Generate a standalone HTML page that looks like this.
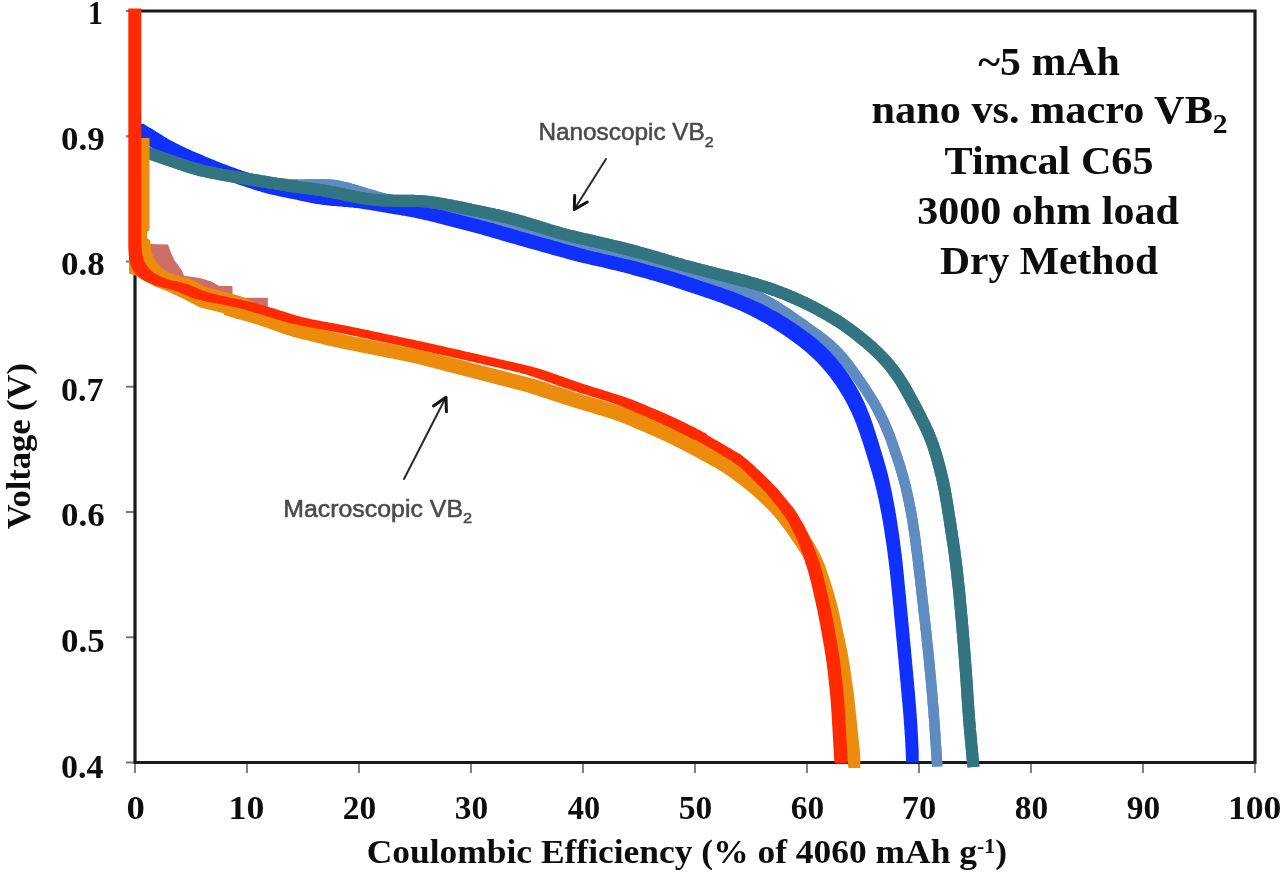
<!DOCTYPE html><html><head><meta charset="utf-8"><style>html,body{margin:0;padding:0;background:#fff;width:1280px;height:876px;overflow:hidden}svg{display:block;filter:blur(0.5px)}</style></head><body>
<svg width="1280" height="876" viewBox="0 0 1280 876">
<rect width="1280" height="876" fill="#fff"/>
<defs><clipPath id="cr"><rect x="0" y="0" width="1280" height="763.6"/></clipPath></defs>
<path d="M126,762.50H135M126,637.25H135M126,512.00H135M126,386.75H135M126,261.50H135M126,136.25H135M126,11.00H135M135,762.5V773M247,762.5V773M359,762.5V773M471,762.5V773M583,762.5V773M695,762.5V773M807,762.5V773M919,762.5V773M1031,762.5V773M1143,762.5V773M1255,762.5V773" stroke="#777" stroke-width="1.8" fill="none"/>
<path d="M135,11H1255V762.5H135Z" stroke="#1a1a1a" stroke-width="3.2" fill="none"/>
<path d="M150.0,153.0 L151.9,153.6 L153.8,154.3 L155.7,154.9 L157.6,155.6 L159.5,156.2 L161.4,156.9 L163.3,157.5 L165.2,158.2 L167.0,158.8 L168.9,159.4 L170.8,160.1 L172.7,160.7 L174.6,161.4 L176.5,162.0 L178.4,162.6 L180.3,163.3 L182.2,163.9 L184.1,164.5 L186.0,165.1 L187.9,165.7 L189.8,166.3 L191.7,166.9 L193.7,167.5 L195.6,168.0 L197.5,168.6 L199.4,169.1 L201.3,169.6 L203.3,170.1 L205.2,170.6 L207.2,171.1 L209.1,171.5 L211.0,172.0 L213.0,172.4 L214.9,172.9 L216.9,173.3 L218.8,173.7 L220.8,174.1 L222.8,174.5 L224.7,174.9 L226.7,175.3 L228.6,175.7 L230.6,176.1 L232.6,176.5 L234.5,176.8 L236.5,177.2 L238.5,177.6 L240.4,177.9 L242.4,178.3 L244.4,178.6 L246.3,179.0 L248.3,179.3 L250.3,179.6 L252.3,179.9 L254.2,180.2 L256.2,180.5 L258.2,180.8 L260.2,181.1 L262.2,181.3 L264.1,181.6 L266.1,181.9 L268.1,182.1 L270.1,182.4 L272.1,182.6 L274.1,182.8 L276.0,183.1 L278.0,183.3 L280.0,183.5 L282.0,183.7 L284.0,183.9 L286.0,184.0 L288.0,184.2 L289.9,184.3 L291.9,184.4 L293.9,184.5 L295.9,184.6 L297.9,184.7 L299.9,184.7 L301.9,184.7 L303.8,184.7 L305.8,184.6 L307.8,184.6 L309.8,184.5 L311.8,184.5 L313.8,184.4 L315.8,184.4 L317.7,184.3 L319.7,184.3 L321.7,184.3 L323.7,184.3 L325.6,184.4 L327.6,184.5 L329.6,184.6 L331.5,184.8 L333.5,185.0 L335.5,185.3 L337.4,185.6 L339.3,186.0 L341.3,186.4 L343.2,186.8 L345.1,187.2 L347.0,187.7 L349.0,188.2 L350.9,188.8 L352.8,189.3 L354.7,189.9 L356.6,190.5 L358.5,191.1 L360.4,191.6 L362.3,192.2 L364.2,192.8 L366.1,193.4 L368.0,194.0 L370.0,194.5 L371.9,195.1 L373.8,195.7 L375.7,196.2 L377.6,196.8 L379.6,197.3 L381.5,197.8 L383.4,198.4 L385.4,198.9 L387.3,199.4 L389.2,199.9 L391.2,200.4 L393.1,200.9 L395.0,201.4 L397.0,201.8 L398.9,202.3 L400.9,202.7 L402.8,203.2 L404.8,203.6 L406.7,204.0 L408.7,204.5 L410.6,204.9 L412.6,205.3 L414.6,205.7 L416.5,206.1 L418.5,206.5 L420.4,206.9 L422.4,207.2 L424.4,207.6 L426.3,208.0 L428.3,208.4 L430.3,208.7 L432.2,209.1 L434.2,209.5 L436.2,209.9 L438.1,210.3 L440.1,210.6 L442.0,211.0 L444.0,211.4 L446.0,211.8 L447.9,212.1 L449.9,212.5 L451.9,212.9 L453.8,213.3 L455.8,213.7 L457.8,214.1 L459.7,214.5 L461.7,214.8 L463.6,215.2 L465.6,215.6 L467.6,216.0 L469.5,216.5 L471.5,216.9 L473.4,217.3 L475.4,217.7 L477.3,218.1 L479.3,218.6 L481.2,219.0 L483.2,219.5 L485.1,219.9 L487.1,220.4 L489.0,220.8 L491.0,221.3 L492.9,221.8 L494.9,222.3 L496.8,222.7 L498.7,223.2 L500.7,223.7 L502.6,224.2 L504.6,224.7 L506.5,225.1 L508.4,225.6 L510.4,226.1 L512.3,226.6 L514.3,227.1 L516.2,227.6 L518.1,228.1 L520.1,228.6 L522.0,229.2 L523.9,229.7 L525.8,230.2 L527.8,230.8 L529.7,231.3 L531.6,231.9 L533.5,232.5 L535.4,233.1 L537.3,233.7 L539.2,234.3 L541.1,234.9 L543.0,235.5 L544.9,236.1 L546.8,236.8 L548.7,237.4 L550.6,238.0 L552.5,238.6 L554.4,239.2 L556.3,239.9 L558.2,240.4 L560.1,241.0 L562.0,241.6 L564.0,242.1 L565.9,242.7 L567.8,243.2 L569.7,243.7 L571.7,244.3 L573.6,244.8 L575.5,245.2 L577.5,245.7 L579.4,246.2 L581.4,246.7 L583.3,247.2 L585.2,247.6 L587.2,248.1 L589.1,248.5 L591.1,249.0 L593.0,249.5 L595.0,249.9 L596.9,250.4 L598.9,250.8 L600.8,251.3 L602.8,251.8 L604.7,252.3 L606.6,252.7 L608.6,253.2 L610.5,253.7 L612.5,254.2 L614.4,254.7 L616.3,255.2 L618.3,255.7 L620.2,256.2 L622.2,256.7 L624.1,257.2 L626.0,257.7 L627.9,258.2 L629.9,258.8 L631.8,259.3 L633.7,259.8 L635.7,260.4 L637.6,260.9 L639.5,261.4 L641.4,262.0 L643.4,262.5 L645.3,263.1 L647.2,263.6 L649.1,264.2 L651.1,264.7 L653.0,265.2 L654.9,265.8 L656.8,266.3 L658.8,266.9 L660.7,267.4 L662.6,268.0 L664.5,268.5 L666.5,269.0 L668.4,269.6 L670.3,270.1 L672.3,270.6 L674.2,271.2 L676.1,271.7 L678.0,272.2 L680.0,272.8 L681.9,273.3 L683.8,273.8 L685.8,274.3 L687.7,274.9 L689.6,275.4 L691.5,275.9 L693.5,276.4 L695.4,277.0 L697.3,277.5 L699.3,278.0 L701.2,278.6 L703.1,279.1 L705.0,279.6 L707.0,280.2 L708.9,280.7 L710.8,281.2 L712.8,281.7 L714.7,282.3 L716.6,282.8 L718.6,283.3 L720.5,283.9 L722.4,284.4 L724.3,284.9 L726.3,285.4 L728.2,286.0 L730.1,286.5 L732.0,287.0 L734.0,287.6 L735.9,288.2 L737.8,288.7 L739.7,289.3 L741.6,289.9 L743.4,290.6 L745.3,291.2 L747.2,291.9 L749.0,292.6 L750.9,293.4 L752.7,294.1 L754.5,294.9 L756.3,295.7 L758.1,296.6 L759.9,297.5 L761.7,298.3 L763.5,299.3 L765.2,300.2 L767.0,301.1 L768.7,302.1 L770.5,303.1 L772.2,304.1 L773.9,305.1 L775.6,306.1 L777.3,307.2 L779.0,308.2 L780.7,309.3 L782.4,310.4 L784.0,311.5 L785.7,312.6 L787.4,313.7 L789.0,314.8 L790.6,316.0 L792.3,317.1 L793.9,318.3 L795.6,319.4 L797.2,320.6 L798.8,321.7 L800.4,322.9 L802.1,324.0 L803.7,325.2 L805.3,326.3 L807.0,327.5 L808.6,328.6 L810.2,329.8 L811.9,331.0 L813.5,332.1 L815.1,333.3 L816.7,334.4 L818.4,335.6 L820.0,336.8 L821.5,338.0 L823.1,339.2 L824.7,340.4 L826.2,341.7 L827.8,343.0 L829.3,344.2 L830.8,345.6 L832.2,346.9 L833.7,348.3 L835.1,349.6 L836.5,351.0 L837.9,352.5 L839.2,353.9 L840.6,355.4 L841.9,356.9 L843.2,358.4 L844.4,359.9 L845.7,361.5 L846.9,363.1 L848.1,364.6 L849.3,366.2 L850.5,367.8 L851.7,369.4 L852.9,371.0 L854.0,372.7 L855.2,374.3 L856.3,375.9 L857.5,377.6 L858.6,379.2 L859.8,380.9 L860.9,382.5 L862.0,384.2 L863.1,385.8 L864.3,387.5 L865.4,389.1 L866.5,390.8 L867.5,392.5 L868.6,394.2 L869.7,395.9 L870.7,397.6 L871.8,399.3 L872.8,401.0 L873.8,402.7 L874.8,404.4 L875.8,406.2 L876.8,407.9 L877.7,409.7 L878.6,411.4 L879.5,413.2 L880.4,415.0 L881.3,416.8 L882.2,418.6 L883.0,420.4 L883.9,422.2 L884.7,424.0 L885.5,425.9 L886.3,427.7 L887.0,429.5 L887.8,431.4 L888.5,433.2 L889.3,435.1 L890.0,437.0 L890.7,438.8 L891.4,440.7 L892.1,442.6 L892.7,444.5 L893.4,446.4 L894.0,448.2 L894.7,450.1 L895.3,452.0 L896.0,453.9 L896.6,455.8 L897.2,457.7 L897.8,459.6 L898.5,461.5 L899.1,463.4 L899.7,465.3 L900.3,467.2 L900.8,469.2 L901.4,471.1 L902.0,473.0 L902.5,474.9 L903.1,476.8 L903.6,478.8 L904.1,480.7 L904.6,482.6 L905.1,484.6 L905.6,486.5 L906.1,488.4 L906.5,490.4 L907.0,492.3 L907.4,494.3 L907.8,496.2 L908.2,498.2 L908.6,500.1 L909.1,502.1 L909.4,504.1 L909.8,506.0 L910.2,508.0 L910.6,509.9 L911.0,511.9 L911.3,513.9 L911.7,515.8 L912.0,517.8 L912.4,519.8 L912.7,521.8 L913.0,523.7 L913.3,525.7 L913.6,527.7 L913.9,529.7 L914.2,531.6 L914.5,533.6 L914.8,535.6 L915.0,537.6 L915.3,539.6 L915.6,541.5 L915.8,543.5 L916.1,545.5 L916.3,547.5 L916.6,549.5 L916.8,551.5 L917.1,553.4 L917.3,555.4 L917.6,557.4 L917.8,559.4 L918.1,561.4 L918.3,563.4 L918.5,565.4 L918.8,567.3 L919.0,569.3 L919.2,571.3 L919.5,573.3 L919.7,575.3 L919.9,577.3 L920.2,579.3 L920.4,581.3 L920.6,583.2 L920.8,585.2 L921.1,587.2 L921.3,589.2 L921.5,591.2 L921.7,593.2 L922.0,595.2 L922.2,597.2 L922.4,599.1 L922.6,601.1 L922.9,603.1 L923.1,605.1 L923.3,607.1 L923.5,609.1 L923.7,611.1 L924.0,613.1 L924.2,615.1 L924.4,617.0 L924.6,619.0 L924.9,621.0 L925.1,623.0 L925.3,625.0 L925.5,627.0 L925.7,629.0 L926.0,631.0 L926.2,632.9 L926.4,634.9 L926.6,636.9 L926.8,638.9 L927.0,640.9 L927.2,642.9 L927.4,644.9 L927.7,646.9 L927.9,648.9 L928.1,650.8 L928.3,652.8 L928.5,654.8 L928.7,656.8 L928.9,658.8 L929.1,660.8 L929.3,662.8 L929.5,664.8 L929.7,666.8 L929.8,668.8 L930.0,670.8 L930.2,672.7 L930.4,674.7 L930.6,676.7 L930.8,678.7 L931.0,680.7 L931.1,682.7 L931.3,684.7 L931.5,686.7 L931.7,688.7 L931.8,690.7 L932.0,692.7 L932.2,694.7 L932.4,696.7 L932.5,698.6 L932.7,700.6 L932.8,702.6 L933.0,704.6 L933.2,706.6 L933.3,708.6 L933.5,710.6 L933.6,712.6 L933.8,714.6 L933.9,716.6 L934.1,718.6 L934.2,720.6 L934.4,722.6 L934.5,724.6 L934.7,726.6 L934.8,728.6 L934.9,730.6 L935.1,732.6 L935.2,734.6 L935.3,736.6 L935.4,738.5 L935.6,740.5 L935.7,742.5 L935.8,744.5 L936.0,746.5 L936.1,748.5 L936.2,750.5 L936.3,752.5 L936.5,754.5 L936.6,756.5 L936.7,758.5 L936.8,760.5 L937.0,762.5 L937.1,764.5 L937.2,766.5" stroke="#5f8cc0" stroke-width="10.5" fill="none" stroke-linejoin="round" stroke-linecap="butt"/>
<path d="M150.0,153.0 L151.9,153.6 L153.8,154.3 L155.7,154.9 L157.6,155.6 L159.5,156.2 L161.4,156.9 L163.3,157.5 L165.2,158.2 L167.0,158.8 L168.9,159.4 L170.8,160.1 L172.7,160.7 L174.6,161.4 L176.5,162.0 L178.4,162.6 L180.3,163.3 L182.2,163.9 L184.1,164.5 L186.0,165.1 L187.9,165.7 L189.8,166.3 L191.7,166.9 L193.7,167.5 L195.6,168.0 L197.5,168.6 L199.4,169.1 L201.3,169.6 L203.3,170.1 L205.2,170.6 L207.2,171.1 L209.1,171.5 L211.0,172.0 L213.0,172.4 L214.9,172.9 L216.9,173.3 L218.8,173.7 L220.8,174.1 L222.8,174.5 L224.7,174.9 L226.7,175.3 L228.6,175.7 L230.6,176.1 L232.6,176.5 L234.5,176.8 L236.5,177.2 L238.5,177.6 L240.4,177.9 L242.4,178.3 L244.4,178.6 L246.3,179.0 L248.3,179.3 L250.3,179.6 L252.3,179.9 L254.2,180.2 L256.2,180.5 L258.2,180.8 L260.2,181.1 L262.2,181.3 L264.1,181.6 L266.1,181.9 L268.1,182.1 L270.1,182.4 L272.1,182.6 L274.1,182.8 L276.0,183.1 L278.0,183.3 L280.0,183.5 L282.0,183.7 L284.0,183.9 L286.0,184.0 L288.0,184.2 L289.9,184.3 L291.9,184.4 L293.9,184.5 L295.9,184.6 L297.9,184.7 L299.9,184.7 L301.9,184.7 L303.8,184.7 L305.8,184.6 L307.8,184.6 L309.8,184.5 L311.8,184.5 L313.8,184.4 L315.8,184.4 L317.7,184.3 L319.7,184.3 L321.7,184.3 L323.7,184.3 L325.6,184.4 L327.6,184.5 L329.6,184.6 L331.5,184.8 L333.5,185.0 L335.5,185.3 L337.4,185.6 L339.3,186.0 L341.3,186.4 L343.2,186.8 L345.1,187.2 L347.0,187.7 L349.0,188.2 L350.9,188.8 L352.8,189.3 L354.7,189.9 L356.6,190.5 L358.5,191.1 L360.4,191.6 L362.3,192.2 L364.2,192.8 L366.1,193.4 L368.0,194.0 L370.0,194.5 L371.9,195.1 L373.8,195.7 L375.7,196.2 L377.6,196.8 L379.6,197.3 L381.5,197.8 L383.4,198.4 L385.4,198.9 L387.3,199.4 L389.2,199.9 L391.2,200.4 L393.1,200.9 L395.0,201.4 L397.0,201.8 L398.9,202.3 L400.9,202.7 L402.8,203.2 L404.8,203.6 L406.7,204.0 L408.7,204.5 L410.6,204.9 L412.6,205.3 L414.6,205.7 L416.5,206.1 L418.5,206.5 L420.4,206.9 L422.4,207.2 L424.4,207.6 L426.3,208.0 L428.3,208.4 L430.3,208.7 L432.2,209.1 L434.2,209.5 L436.2,209.9 L438.1,210.3 L440.1,210.6 L442.0,211.0 L444.0,211.4 L446.0,211.8 L447.9,212.1 L449.9,212.5 L451.9,212.9 L453.8,213.3 L455.8,213.7 L457.8,214.1 L459.7,214.5 L461.7,214.8 L463.6,215.2 L465.6,215.6 L467.6,216.0 L469.5,216.5 L471.5,216.9 L473.4,217.3 L475.4,217.7 L477.3,218.1 L479.3,218.6 L481.2,219.0 L483.2,219.5 L485.1,219.9 L487.1,220.4 L489.0,220.8 L491.0,221.3 L492.9,221.8 L494.9,222.3 L496.8,222.7 L498.7,223.2 L500.7,223.7 L502.6,224.2 L504.6,224.7 L506.5,225.1 L508.4,225.6 L510.4,226.1 L512.3,226.6 L514.3,227.1 L516.2,227.6 L518.1,228.1 L520.1,228.6 L522.0,229.2 L523.9,229.7 L525.8,230.2 L527.8,230.8 L529.7,231.3 L531.6,231.9 L533.5,232.5 L535.4,233.1 L537.3,233.7 L539.2,234.3 L541.1,234.9 L543.0,235.5 L544.9,236.1 L546.8,236.8 L548.7,237.4 L550.6,238.0 L552.5,238.6 L554.4,239.2 L556.3,239.9 L558.2,240.4 L560.1,241.0 L562.0,241.6 L564.0,242.1 L565.9,242.7 L567.8,243.2 L569.7,243.7 L571.7,244.3 L573.6,244.8 L575.5,245.2 L577.5,245.7 L579.4,246.2 L581.4,246.7 L583.3,247.2 L585.2,247.6 L587.2,248.1 L589.1,248.5 L591.1,249.0 L593.0,249.5 L595.0,249.9 L596.9,250.4 L598.9,250.8 L600.8,251.3 L602.8,251.8 L604.7,252.3 L606.6,252.7 L608.6,253.2 L610.5,253.7 L612.5,254.2 L614.4,254.7 L616.3,255.2 L618.3,255.7 L620.2,256.2 L622.2,256.7 L624.1,257.2 L626.0,257.7 L627.9,258.2 L629.9,258.8 L631.8,259.3 L633.7,259.8 L635.7,260.4 L637.6,260.9 L639.5,261.4 L641.4,262.0 L643.4,262.5 L645.3,263.1 L647.2,263.6 L649.1,264.2 L651.1,264.7 L653.0,265.2 L654.9,265.8 L656.8,266.3 L658.8,266.9 L660.7,267.4 L662.6,268.0 L664.5,268.5 L666.5,269.0 L668.4,269.6 L670.3,270.1 L672.3,270.6 L674.2,271.2 L676.1,271.7 L678.0,272.2 L680.0,272.8 L681.9,273.3 L683.8,273.8 L685.8,274.3 L687.7,274.9 L689.6,275.4 L691.5,275.9 L693.5,276.4 L695.4,277.0 L697.3,277.5 L699.3,278.0 L701.2,278.6 L703.1,279.1 L705.0,279.6 L707.0,280.2 L708.9,280.7 L710.8,281.2 L712.8,281.7 L714.7,282.3 L716.6,282.8 L718.6,283.3 L720.5,283.9 L722.4,284.4 L724.3,284.9 L726.3,285.4 L728.2,286.0 L730.1,286.5 L732.0,287.0 L734.0,287.6 L735.9,288.2 L737.8,288.7 L739.7,289.3 L741.6,289.9 L743.4,290.6 L745.3,291.2 L747.2,291.9 L749.0,292.6 L750.9,293.4 L752.7,294.1 L754.5,294.9 L756.3,295.7 L758.1,296.6 L759.9,297.5 L761.7,298.3 L763.5,299.3 L765.2,300.2 L767.0,301.1 L768.7,302.1 L770.5,303.1 L772.2,304.1 L773.9,305.1 L775.6,306.1 L777.3,307.2 L779.0,308.2 L780.7,309.3 L782.4,310.4 L784.0,311.5 L785.7,312.6 L787.4,313.7 L789.0,314.8 L790.6,316.0 L792.3,317.1 L793.9,318.3 L795.6,319.4 L797.2,320.6 L798.8,321.7 L800.4,322.9 L802.1,324.0 L803.7,325.2 L805.3,326.3 L807.0,327.5 L808.6,328.6 L810.2,329.8 L811.9,331.0 L813.5,332.1 L815.1,333.3 L816.7,334.4 L818.4,335.6 L820.0,336.8 L821.5,338.0 L823.1,339.2 L824.7,340.4 L826.2,341.7 L827.8,343.0 L829.3,344.2 L830.8,345.6 L832.2,346.9 L833.7,348.3 L835.1,349.6 L836.5,351.0 L837.9,352.5 L839.2,353.9 L840.6,355.4 L841.9,356.9 L843.2,358.4 L844.4,359.9 L845.7,361.5 L846.9,363.1 L848.1,364.6 L849.3,366.2 L850.5,367.8 L851.7,369.4 L852.9,371.0 L854.0,372.7 L855.2,374.3 L856.3,375.9 L857.5,377.6 L858.6,379.2 L859.8,380.9 L860.9,382.5 L862.0,384.2 L863.1,385.8 L864.3,387.5 L865.4,389.1 L866.5,390.8 L867.5,392.5 L868.6,394.2 L869.7,395.9 L870.7,397.6 L871.8,399.3 L872.8,401.0 L873.8,402.7 L874.8,404.4 L875.8,406.2 L876.8,407.9 L877.7,409.7 L878.6,411.4 L879.5,413.2 L880.4,415.0 L881.3,416.8 L882.2,418.6 L883.0,420.4 L883.9,422.2 L884.7,424.0 L885.5,425.9 L886.3,427.7 L887.0,429.5 L887.8,431.4 L888.5,433.2 L889.3,435.1 L890.0,437.0 L890.7,438.8 L891.4,440.7 L892.1,442.6 L892.7,444.5 L893.4,446.4 L894.0,448.2 L894.7,450.1 L895.3,452.0 L896.0,453.9 L896.6,455.8 L897.2,457.7 L897.8,459.6 L898.5,461.5 L899.1,463.4 L899.7,465.3 L900.3,467.2 L900.8,469.2 L901.4,471.1 L902.0,473.0 L902.5,474.9 L903.1,476.8 L903.6,478.8 L904.1,480.7 L904.6,482.6 L905.1,484.6 L905.6,486.5 L906.1,488.4 L906.5,490.4 L907.0,492.3 L907.4,494.3 L907.8,496.2 L908.2,498.2 L908.6,500.1 L909.1,502.1 L909.4,504.1 L909.8,506.0 L910.2,508.0 L910.6,509.9 L911.0,511.9 L911.3,513.9 L911.7,515.8 L912.0,517.8 L912.4,519.8 L912.7,521.8 L913.0,523.7 L913.3,525.7 L913.6,527.7 L913.9,529.7 L914.2,531.6 L914.5,533.6 L914.8,535.6 L915.0,537.6 L915.3,539.6 L915.6,541.5 L915.8,543.5 L916.1,545.5 L916.3,547.5 L916.6,549.5 L916.8,551.5 L917.1,553.4 L917.3,555.4 L917.6,557.4 L917.8,559.4 L918.1,561.4 L918.3,563.4 L918.5,565.4 L918.8,567.3 L919.0,569.3 L919.2,571.3 L919.5,573.3 L919.7,575.3 L919.9,577.3 L920.2,579.3 L920.4,581.3 L920.6,583.2 L920.8,585.2 L921.1,587.2 L921.3,589.2 L921.5,591.2 L921.7,593.2 L922.0,595.2 L922.2,597.2 L922.4,599.1 L922.6,601.1 L922.9,603.1 L923.1,605.1 L923.3,607.1 L923.5,609.1 L923.7,611.1 L924.0,613.1 L924.2,615.1 L924.4,617.0 L924.6,619.0 L924.9,621.0 L925.1,623.0 L925.3,625.0 L925.5,627.0 L925.7,629.0 L926.0,631.0 L926.2,632.9 L926.4,634.9 L926.6,636.9 L926.8,638.9 L927.0,640.9 L927.2,642.9 L927.4,644.9 L927.7,646.9 L927.9,648.9 L928.1,650.8 L928.3,652.8 L928.5,654.8 L928.7,656.8 L928.9,658.8 L929.1,660.8 L929.3,662.8 L929.5,664.8 L929.7,666.8 L929.8,668.8 L930.0,670.8 L930.2,672.7 L930.4,674.7 L930.6,676.7 L930.8,678.7 L931.0,680.7 L931.1,682.7 L931.3,684.7 L931.5,686.7 L931.7,688.7 L931.8,690.7 L932.0,692.7 L932.2,694.7 L932.4,696.7 L932.5,698.6 L932.7,700.6 L932.8,702.6 L933.0,704.6 L933.2,706.6 L933.3,708.6 L933.5,710.6 L933.6,712.6 L933.8,714.6 L933.9,716.6 L934.1,718.6 L934.2,720.6 L934.4,722.6 L934.5,724.6 L934.7,726.6 L934.8,728.6 L934.9,730.6 L935.1,732.6 L935.2,734.6 L935.3,736.6 L935.4,738.5 L935.6,740.5 L935.7,742.5 L935.8,744.5 L936.0,746.5 L936.1,748.5 L936.2,750.5 L936.3,752.5 L936.5,754.5 L936.6,756.5 L936.7,758.5 L936.8,760.5 L937.0,762.5 L937.1,764.5 L937.2,766.5" stroke="#5f8cc0" stroke-width="10.5" fill="none" stroke-linejoin="round" stroke-linecap="butt"/>
<path d="M137.8,128 L150.2,128 L151.9,129.1 L151.9,140.1 L139.4,140.1 L137.8,139ZM139.4,129.1 L151.9,129.1 L153.6,130.1 L153.6,141.1 L141.1,141.1 L139.4,140.1ZM141.1,130.1 L153.6,130.1 L155.3,131.2 L155.3,142.2 L142.8,142.2 L141.1,141.1ZM142.8,131.2 L155.3,131.2 L157,132.2 L157,143.2 L144.5,143.2 L142.8,142.2ZM144.5,132.2 L157,132.2 L158.7,133.3 L158.7,144.3 L146.2,144.3 L144.5,143.2ZM146.2,133.3 L158.7,133.3 L160.4,134.3 L160.4,145.3 L147.9,145.3 L146.2,144.3ZM147.9,134.3 L160.4,134.3 L162.2,135.3 L162.2,146.3 L149.7,146.3 L147.9,145.3ZM149.7,135.3 L162.2,135.3 L163.9,136.4 L163.9,147.4 L151.4,147.4 L149.7,146.3ZM151.4,136.4 L163.9,136.4 L165.6,137.4 L165.6,148.4 L153.1,148.4 L151.4,147.4ZM153.1,137.4 L165.6,137.4 L167.3,138.4 L167.3,149.4 L154.8,149.4 L153.1,148.4ZM154.8,138.4 L167.3,138.4 L169,139.4 L169,150.4 L156.5,150.4 L154.8,149.4ZM156.5,139.4 L169,139.4 L170.8,140.4 L170.8,151.4 L158.3,151.4 L156.5,150.4ZM158.3,140.4 L170.8,140.4 L172.5,141.3 L172.5,152.3 L160,152.3 L158.3,151.4ZM160,141.3 L172.5,141.3 L174.3,142.3 L174.3,153.3 L161.8,153.3 L160,152.3ZM161.8,142.3 L174.3,142.3 L176.1,143.2 L176.1,154.2 L163.6,154.2 L161.8,153.3ZM163.6,143.2 L176.1,143.2 L177.8,144.1 L177.8,155.1 L165.3,155.1 L163.6,154.2ZM165.3,144.1 L177.8,144.1 L179.6,145 L179.6,156 L167.1,156 L165.3,155.1ZM167.1,145 L179.6,145 L181.4,145.9 L181.4,156.9 L168.9,156.9 L167.1,156ZM168.9,145.9 L181.4,145.9 L183.2,146.7 L183.2,157.7 L170.7,157.7 L168.9,156.9ZM170.7,146.7 L183.2,146.7 L185,147.6 L185,158.6 L172.5,158.6 L170.7,157.7ZM172.5,147.6 L185,147.6 L186.8,148.4 L186.8,159.4 L174.3,159.4 L172.5,158.6ZM174.3,148.4 L186.8,148.4 L188.7,149.2 L188.7,160.2 L176.2,160.2 L174.3,159.4ZM176.2,149.2 L188.7,149.2 L190.5,150.1 L190.5,161.1 L178,161.1 L176.2,160.2ZM178,150.1 L190.5,150.1 L192.3,150.9 L192.3,161.9 L179.8,161.9 L178,161.1ZM179.8,150.9 L192.3,150.9 L194.1,151.7 L194.1,162.7 L181.6,162.7 L179.8,161.9ZM181.6,151.7 L194.1,151.7 L196,152.5 L196,163.5 L183.5,163.5 L181.6,162.7ZM183.5,152.5 L196,152.5 L197.8,153.3 L197.8,164.3 L185.3,164.3 L183.5,163.5ZM185.3,153.3 L197.8,153.3 L199.7,154.1 L199.7,165.1 L187.2,165.1 L185.3,164.3ZM187.2,154.1 L199.7,154.1 L201.5,154.8 L201.5,165.8 L189,165.8 L187.2,165.1ZM189,154.8 L201.5,154.8 L203.3,155.6 L203.3,166.6 L190.8,166.6 L189,165.8ZM190.8,155.6 L203.3,155.6 L205.2,156.4 L205.2,167.4 L192.7,167.4 L190.8,166.6ZM192.7,156.4 L205.2,156.4 L207,157.2 L207,168.2 L194.5,168.2 L192.7,167.4ZM194.5,157.2 L207,157.2 L208.9,157.9 L208.9,168.9 L196.4,168.9 L194.5,168.2ZM196.4,157.9 L208.9,157.9 L210.7,158.7 L210.7,169.7 L198.2,169.7 L196.4,168.9ZM198.2,158.7 L210.7,158.7 L212.6,159.5 L212.6,170.5 L200.1,170.5 L198.2,169.7ZM200.1,159.5 L212.6,159.5 L214.4,160.2 L214.4,171.2 L201.9,171.2 L200.1,170.5ZM201.9,160.2 L214.4,160.2 L216.3,161 L216.3,172 L203.8,172 L201.9,171.2ZM203.8,161 L216.3,161 L218.1,161.7 L218.1,172.7 L205.6,172.7 L203.8,172ZM205.6,161.7 L218.1,161.7 L220,162.5 L220,173.5 L207.5,173.5 L205.6,172.7ZM207.5,162.5 L220,162.5 L221.8,163.2 L221.8,174.2 L209.3,174.2 L207.5,173.5ZM209.3,163.2 L221.8,163.2 L223.7,163.9 L223.7,174.9 L211.2,174.9 L209.3,174.2ZM211.2,163.9 L223.7,163.9 L225.6,164.6 L225.6,175.6 L213.1,175.6 L211.2,174.9ZM213.1,164.6 L225.6,164.6 L227.4,165.3 L227.4,176.3 L214.9,176.3 L213.1,175.6ZM214.9,165.3 L227.4,165.3 L229.3,166 L229.3,177 L216.8,177 L214.9,176.3ZM216.8,166 L229.3,166 L231.2,166.7 L231.2,177.7 L218.7,177.7 L216.8,177ZM218.7,166.7 L231.2,166.7 L233.1,167.4 L233.1,178.4 L220.6,178.4 L218.7,177.7ZM220.6,167.4 L233.1,167.4 L235,168.1 L235,179.1 L222.5,179.1 L220.6,178.4ZM222.5,168.1 L235,168.1 L236.9,168.7 L236.9,179.7 L224.4,179.7 L222.5,179.1ZM224.4,168.7 L236.9,168.7 L238.7,169.4 L238.7,180.4 L226.2,180.4 L224.4,179.7ZM226.2,169.4 L238.7,169.4 L240.6,170 L240.6,181 L228.1,181 L226.2,180.4ZM228.1,170 L240.6,170 L242.5,170.7 L242.5,181.7 L230,181.7 L228.1,181ZM230,170.7 L242.5,170.7 L244.4,171.3 L244.4,182.3 L231.9,182.3 L230,181.7ZM231.9,171.3 L244.4,171.3 L246.3,172 L246.3,183 L233.8,183 L231.9,182.3ZM233.8,172 L246.3,172 L248.2,172.6 L248.2,183.6 L235.7,183.6 L233.8,183ZM235.7,172.6 L248.2,172.6 L250.1,173.2 L250.1,184.2 L237.6,184.2 L235.7,183.6ZM237.6,173.2 L250.1,173.2 L252,173.9 L252,184.9 L239.5,184.9 L237.6,184.2ZM239.5,173.9 L252,173.9 L253.9,174.5 L253.9,185.5 L241.4,185.5 L239.5,184.9ZM241.4,174.5 L253.9,174.5 L255.8,175.1 L255.8,186.1 L243.3,186.1 L241.4,185.5ZM243.3,175.1 L255.8,175.1 L257.7,175.8 L257.7,186.8 L245.2,186.8 L243.3,186.1ZM245.2,175.8 L257.7,175.8 L259.6,176.4 L259.6,187.4 L247.1,187.4 L245.2,186.8ZM247.1,176.4 L259.6,176.4 L261.5,177 L261.5,188 L249,188 L247.1,187.4ZM249,177 L261.5,177 L263.4,177.6 L263.4,188.6 L250.9,188.6 L249,188ZM250.9,177.6 L263.4,177.6 L265.3,178.3 L265.3,189.3 L252.8,189.3 L250.9,188.6ZM252.8,178.3 L265.3,178.3 L267.2,178.9 L267.2,189.9 L254.7,189.9 L252.8,189.3ZM254.7,178.9 L267.2,178.9 L269.1,179.5 L269.1,190.5 L256.6,190.5 L254.7,189.9ZM256.6,179.5 L269.1,179.5 L271,180 L271,191 L258.5,191 L256.6,190.5ZM258.5,180 L271,180 L272.9,180.6 L272.9,191.6 L260.4,191.6 L258.5,191ZM260.4,180.6 L272.9,180.6 L274.8,181.2 L274.8,192.2 L262.3,192.2 L260.4,191.6ZM262.3,181.2 L274.8,181.2 L276.8,181.7 L276.8,192.7 L264.3,192.7 L262.3,192.2ZM264.3,181.7 L276.8,181.7 L278.7,182.2 L278.7,193.2 L266.2,193.2 L264.3,192.7ZM266.2,182.2 L278.7,182.2 L280.6,182.7 L280.6,193.7 L268.1,193.7 L266.2,193.2ZM268.1,182.7 L280.6,182.7 L282.6,183.2 L282.6,194.2 L270.1,194.2 L268.1,193.7ZM270.1,183.2 L282.6,183.2 L284.5,183.7 L284.5,194.7 L272,194.7 L270.1,194.2ZM272,183.7 L284.5,183.7 L286.4,184.1 L286.4,195.1 L273.9,195.1 L272,194.7ZM273.9,184.1 L286.4,184.1 L288.4,184.5 L288.4,195.5 L275.9,195.5 L273.9,195.1ZM275.9,184.5 L288.4,184.5 L290.3,185 L290.3,196 L277.8,196 L275.9,195.5ZM277.8,185 L290.3,185 L292.3,185.4 L292.3,196.4 L279.8,196.4 L277.8,196ZM279.8,185.4 L292.3,185.4 L294.2,185.8 L294.2,196.8 L281.7,196.8 L279.8,196.4ZM281.7,185.8 L294.2,185.8 L296.2,186.2 L296.2,197.2 L283.7,197.2 L281.7,196.8ZM283.7,186.2 L296.2,186.2 L298.1,186.6 L298.1,197.6 L285.6,197.6 L283.7,197.2ZM285.6,186.6 L298.1,186.6 L300.1,187 L300.1,198 L287.6,198 L285.6,197.6ZM287.6,187 L300.1,187 L302,187.4 L302,198.4 L289.5,198.4 L287.6,198ZM289.5,187.4 L302,187.4 L304,187.8 L304,198.8 L291.5,198.8 L289.5,198.4ZM291.5,187.8 L304,187.8 L305.9,188.2 L305.9,199.2 L293.4,199.2 L291.5,198.8ZM293.4,188.2 L305.9,188.2 L307.9,188.6 L307.9,199.6 L295.4,199.6 L293.4,199.2ZM295.4,188.6 L307.9,188.6 L309.9,189 L309.9,200 L297.4,200 L295.4,199.6ZM297.4,189 L309.9,189 L311.8,189.5 L311.8,200.5 L299.3,200.5 L297.4,200ZM299.3,189.5 L311.8,189.5 L313.7,189.9 L313.7,200.9 L301.2,200.9 L299.3,200.5ZM301.2,189.9 L313.7,189.9 L315.7,190.3 L315.7,201.3 L303.2,201.3 L301.2,200.9ZM303.2,190.3 L315.7,190.3 L317.6,190.7 L317.6,201.7 L305.1,201.7 L303.2,201.3ZM305.1,190.7 L317.6,190.7 L319.6,191.1 L319.6,202.1 L307.1,202.1 L305.1,201.7ZM307.1,191.1 L319.6,191.1 L321.5,191.5 L321.5,202.5 L309,202.5 L307.1,202.1ZM309,191.5 L321.5,191.5 L323.5,191.9 L323.5,202.9 L311,202.9 L309,202.5ZM311,191.9 L323.5,191.9 L325.5,192.3 L325.5,203.3 L313,203.3 L311,202.9ZM313,192.3 L325.5,192.3 L327.4,192.7 L327.4,203.7 L314.9,203.7 L313,203.3ZM314.9,192.7 L327.4,192.7 L329.4,193 L329.4,204 L316.9,204 L314.9,203.7ZM316.9,193 L329.4,193 L331.3,193.3 L331.3,204.3 L318.8,204.3 L316.9,204ZM318.8,193.3 L331.3,193.3 L333.3,193.6 L333.3,204.6 L320.8,204.6 L318.8,204.3ZM320.8,193.6 L333.3,193.6 L335.3,193.9 L335.3,204.9 L322.8,204.9 L320.8,204.6ZM322.8,193.9 L335.3,193.9 L337.3,194.1 L337.3,205.1 L324.8,205.1 L322.8,204.9ZM324.8,194.1 L337.3,194.1 L339.2,194.3 L339.2,205.3 L326.7,205.3 L324.8,205.1ZM326.7,194.3 L339.2,194.3 L341.2,194.5 L341.2,205.5 L328.7,205.5 L326.7,205.3ZM328.7,194.5 L341.2,194.5 L343.2,194.7 L343.2,205.7 L330.7,205.7 L328.7,205.5ZM330.7,194.7 L343.2,194.7 L345.2,194.9 L345.2,205.9 L332.7,205.9 L330.7,205.7ZM332.7,194.9 L345.2,194.9 L347.2,195.1 L347.2,206.1 L334.7,206.1 L332.7,205.9ZM334.7,195.1 L347.2,195.1 L349.2,195.2 L349.2,206.2 L336.7,206.2 L334.7,206.1ZM336.7,195.2 L349.2,195.2 L351.2,195.4 L351.2,206.4 L338.7,206.4 L336.7,206.2ZM338.7,195.4 L351.2,195.4 L353.2,195.6 L353.2,206.6 L340.7,206.6 L338.7,206.4ZM340.7,195.6 L353.2,195.6 L355.2,195.7 L355.2,206.7 L342.7,206.7 L340.7,206.6ZM342.7,195.7 L355.2,195.7 L357.1,195.9 L357.1,206.9 L344.6,206.9 L342.7,206.7ZM344.6,195.9 L357.1,195.9 L359.1,196.1 L359.1,207.1 L346.6,207.1 L344.6,206.9ZM346.6,196.1 L359.1,196.1 L361.1,196.2 L361.1,207.2 L348.6,207.2 L346.6,207.1ZM348.6,196.2 L361.1,196.2 L363.1,196.4 L363.1,207.4 L350.6,207.4 L348.6,207.2ZM350.6,196.4 L363.1,196.4 L365.1,196.6 L365.1,207.6 L352.6,207.6 L350.6,207.4ZM352.6,196.6 L365.1,196.6 L367.1,196.9 L367.1,207.9 L354.6,207.9 L352.6,207.6ZM354.6,196.9 L367.1,196.9 L369.1,197.1 L369.1,208.1 L356.6,208.1 L354.6,207.9ZM356.6,197.1 L369.1,197.1 L371,197.3 L371,208.3 L358.5,208.3 L356.6,208.1ZM358.5,197.3 L371,197.3 L373,197.6 L373,208.6 L360.5,208.6 L358.5,208.3ZM360.5,197.6 L373,197.6 L375,197.9 L375,208.9 L362.5,208.9 L360.5,208.6ZM362.5,197.9 L375,197.9 L377,198.2 L377,209.2 L364.5,209.2 L362.5,208.9ZM364.5,198.2 L377,198.2 L379,198.5 L379,209.5 L366.5,209.5 L364.5,209.2ZM366.5,198.5 L379,198.5 L380.9,198.8 L380.9,209.8 L368.4,209.8 L366.5,209.5ZM368.4,198.8 L380.9,198.8 L382.9,199.1 L382.9,210.1 L370.4,210.1 L368.4,209.8ZM370.4,199.1 L382.9,199.1 L384.9,199.5 L384.9,210.5 L372.4,210.5 L370.4,210.1ZM372.4,199.5 L384.9,199.5 L386.8,199.8 L386.8,210.8 L374.3,210.8 L372.4,210.5ZM374.3,199.8 L386.8,199.8 L388.8,200.1 L388.8,211.1 L376.3,211.1 L374.3,210.8ZM376.3,200.1 L388.8,200.1 L390.8,200.5 L390.8,211.5 L378.3,211.5 L376.3,211.1ZM378.3,200.5 L390.8,200.5 L392.8,200.8 L392.8,211.8 L380.3,211.8 L378.3,211.5ZM380.3,200.8 L392.8,200.8 L394.7,201.2 L394.7,212.2 L382.2,212.2 L380.3,211.8ZM382.2,201.2 L394.7,201.2 L396.7,201.5 L396.7,212.5 L384.2,212.5 L382.2,212.2ZM384.2,201.5 L396.7,201.5 L398.7,201.8 L398.7,212.8 L386.2,212.8 L384.2,212.5ZM386.2,201.8 L398.7,201.8 L400.6,202.2 L400.6,213.2 L388.1,213.2 L386.2,212.8ZM388.1,202.2 L400.6,202.2 L402.6,202.5 L402.6,213.5 L390.1,213.5 L388.1,213.2ZM390.1,202.5 L402.6,202.5 L404.6,202.8 L404.6,213.8 L392.1,213.8 L390.1,213.5ZM392.1,202.8 L404.6,202.8 L406.5,203.2 L406.5,214.2 L394,214.2 L392.1,213.8ZM394,203.2 L406.5,203.2 L408.5,203.5 L408.5,214.5 L396,214.5 L394,214.2ZM396,203.5 L408.5,203.5 L410.5,203.8 L410.5,214.8 L398,214.8 L396,214.5ZM398,203.8 L410.5,203.8 L412.5,204.1 L412.5,215.1 L400,215.1 L398,214.8ZM400,204.1 L412.5,204.1 L414.4,204.5 L414.4,215.5 L401.9,215.5 L400,215.1ZM401.9,204.5 L414.4,204.5 L416.4,204.8 L416.4,215.8 L403.9,215.8 L401.9,215.5ZM403.9,204.8 L416.4,204.8 L418.4,205.1 L418.4,216.1 L405.9,216.1 L403.9,215.8ZM405.9,205.1 L418.4,205.1 L420.3,205.5 L420.3,216.5 L407.8,216.5 L405.9,216.1ZM407.8,205.5 L420.3,205.5 L422.3,205.8 L422.3,216.8 L409.8,216.8 L407.8,216.5ZM409.8,205.8 L422.3,205.8 L424.3,206.2 L424.3,217.2 L411.8,217.2 L409.8,216.8ZM411.8,206.2 L424.3,206.2 L426.2,206.6 L426.2,217.6 L413.7,217.6 L411.8,217.2ZM413.7,206.6 L426.2,206.6 L428.2,207 L428.2,218 L415.7,218 L413.7,217.6ZM415.7,207 L428.2,207 L430.1,207.4 L430.1,218.4 L417.6,218.4 L415.7,218ZM417.6,207.4 L430.1,207.4 L432.1,207.8 L432.1,218.8 L419.6,218.8 L417.6,218.4ZM419.6,207.8 L432.1,207.8 L434,208.3 L434,219.3 L421.5,219.3 L419.6,218.8ZM421.5,208.3 L434,208.3 L436,208.7 L436,219.7 L423.5,219.7 L421.5,219.3ZM423.5,208.7 L436,208.7 L437.9,209.2 L437.9,220.2 L425.4,220.2 L423.5,219.7ZM425.4,209.2 L437.9,209.2 L439.9,209.6 L439.9,220.6 L427.4,220.6 L425.4,220.2ZM427.4,209.6 L439.9,209.6 L441.8,210.1 L441.8,221.1 L429.3,221.1 L427.4,220.6ZM429.3,210.1 L441.8,210.1 L443.7,210.6 L443.7,221.6 L431.2,221.6 L429.3,221.1ZM431.2,210.6 L443.7,210.6 L445.7,211.1 L445.7,222.1 L433.2,222.1 L431.2,221.6ZM433.2,211.1 L445.7,211.1 L447.6,211.6 L447.6,222.6 L435.1,222.6 L433.2,222.1ZM435.1,211.6 L447.6,211.6 L449.6,212.1 L449.6,223.1 L437.1,223.1 L435.1,222.6ZM437.1,212.1 L449.6,212.1 L451.5,212.6 L451.5,223.6 L439,223.6 L437.1,223.1ZM439,212.6 L451.5,212.6 L453.4,213.1 L453.4,224.1 L440.9,224.1 L439,223.6ZM440.9,213.1 L453.4,213.1 L455.4,213.6 L455.4,224.6 L442.9,224.6 L440.9,224.1ZM442.9,213.6 L455.4,213.6 L457.3,214.1 L457.3,225.1 L444.8,225.1 L442.9,224.6ZM444.8,214.1 L457.3,214.1 L459.3,214.5 L459.3,225.5 L446.8,225.5 L444.8,225.1ZM446.8,214.5 L459.3,214.5 L461.2,215 L461.2,226 L448.7,226 L446.8,225.5ZM448.7,215 L461.2,215 L463.1,215.5 L463.1,226.5 L450.6,226.5 L448.7,226ZM450.6,215.5 L463.1,215.5 L465.1,216 L465.1,227 L452.6,227 L450.6,226.5ZM452.6,216 L465.1,216 L467,216.5 L467,227.5 L454.5,227.5 L452.6,227ZM454.5,216.5 L467,216.5 L469,217 L469,228 L456.5,228 L454.5,227.5ZM456.5,217 L469,217 L470.9,217.4 L470.9,228.4 L458.4,228.4 L456.5,228ZM458.4,217.4 L470.9,217.4 L472.8,217.9 L472.8,228.9 L460.3,228.9 L458.4,228.4ZM460.3,217.9 L472.8,217.9 L474.8,218.4 L474.8,229.4 L462.3,229.4 L460.3,228.9ZM462.3,218.4 L474.8,218.4 L476.7,218.9 L476.7,229.9 L464.2,229.9 L462.3,229.4ZM464.2,218.9 L476.7,218.9 L478.7,219.4 L478.7,230.4 L466.2,230.4 L464.2,229.9ZM466.2,219.4 L478.7,219.4 L480.6,219.9 L480.6,230.9 L468.1,230.9 L466.2,230.4ZM468.1,219.9 L480.6,219.9 L482.5,220.4 L482.5,231.4 L470,231.4 L468.1,230.9ZM470,220.4 L482.5,220.4 L484.5,220.9 L484.5,231.9 L472,231.9 L470,231.4ZM472,220.9 L484.5,220.9 L486.4,221.5 L486.4,232.5 L473.9,232.5 L472,231.9ZM473.9,221.5 L486.4,221.5 L488.3,222 L488.3,233 L475.8,233 L473.9,232.5ZM475.8,222 L488.3,222 L490.3,222.5 L490.3,233.5 L477.8,233.5 L475.8,233ZM477.8,222.5 L490.3,222.5 L492.2,223.1 L492.2,234.1 L479.7,234.1 L477.8,233.5ZM479.7,223.1 L492.2,223.1 L494.1,223.6 L494.1,234.6 L481.6,234.6 L479.7,234.1ZM481.6,223.6 L494.1,223.6 L496,224.2 L496,235.2 L483.5,235.2 L481.6,234.6ZM483.5,224.2 L496,224.2 L498,224.7 L498,235.7 L485.5,235.7 L483.5,235.2ZM485.5,224.7 L498,224.7 L499.9,225.3 L499.9,236.3 L487.4,236.3 L485.5,235.7ZM487.4,225.3 L499.9,225.3 L501.8,225.8 L501.8,236.8 L489.3,236.8 L487.4,236.3ZM489.3,225.8 L501.8,225.8 L503.7,226.4 L503.7,237.4 L491.2,237.4 L489.3,236.8ZM491.2,226.4 L503.7,226.4 L505.6,227 L505.6,238 L493.1,238 L491.2,237.4ZM493.1,227 L505.6,227 L507.6,227.5 L507.6,238.5 L495.1,238.5 L493.1,238ZM495.1,227.5 L507.6,227.5 L509.5,228.1 L509.5,239.1 L497,239.1 L495.1,238.5ZM497,228.1 L509.5,228.1 L511.4,228.6 L511.4,239.6 L498.9,239.6 L497,239.1ZM498.9,228.6 L511.4,228.6 L513.3,229.2 L513.3,240.2 L500.8,240.2 L498.9,239.6ZM500.8,229.2 L513.3,229.2 L515.2,229.8 L515.2,240.8 L502.7,240.8 L500.8,240.2ZM502.7,229.8 L515.2,229.8 L517.2,230.3 L517.2,241.3 L504.7,241.3 L502.7,240.8ZM504.7,230.3 L517.2,230.3 L519.1,230.9 L519.1,241.9 L506.6,241.9 L504.7,241.3ZM506.6,230.9 L519.1,230.9 L521,231.4 L521,242.4 L508.5,242.4 L506.6,241.9ZM508.5,231.4 L521,231.4 L522.9,232 L522.9,243 L510.4,243 L508.5,242.4ZM510.4,232 L522.9,232 L524.9,232.5 L524.9,243.5 L512.4,243.5 L510.4,243ZM512.4,232.5 L524.9,232.5 L526.8,233.1 L526.8,244.1 L514.3,244.1 L512.4,243.5ZM514.3,233.1 L526.8,233.1 L528.7,233.6 L528.7,244.6 L516.2,244.6 L514.3,244.1ZM516.2,233.6 L528.7,233.6 L530.6,234.2 L530.6,245.2 L518.1,245.2 L516.2,244.6ZM518.1,234.2 L530.6,234.2 L532.6,234.7 L532.6,245.7 L520.1,245.7 L518.1,245.2ZM520.1,234.7 L532.6,234.7 L534.5,235.3 L534.5,246.3 L522,246.3 L520.1,245.7ZM522,235.3 L534.5,235.3 L536.4,235.8 L536.4,246.8 L523.9,246.8 L522,246.3ZM523.9,235.8 L536.4,235.8 L538.3,236.3 L538.3,247.3 L525.8,247.3 L523.9,246.8ZM525.8,236.3 L538.3,236.3 L540.3,236.9 L540.3,247.9 L527.8,247.9 L525.8,247.3ZM527.8,236.9 L540.3,236.9 L542.2,237.4 L542.2,248.4 L529.7,248.4 L527.8,247.9ZM529.7,237.4 L542.2,237.4 L544.1,238 L544.1,249 L531.6,249 L529.7,248.4ZM531.6,238 L544.1,238 L546,238.5 L546,249.5 L533.5,249.5 L531.6,249ZM533.5,238.5 L546,238.5 L548,239 L548,250 L535.5,250 L533.5,249.5ZM535.5,239 L548,239 L549.9,239.6 L549.9,250.6 L537.4,250.6 L535.5,250ZM537.4,239.6 L549.9,239.6 L551.8,240.1 L551.8,251.1 L539.3,251.1 L537.4,250.6ZM539.3,240.1 L551.8,240.1 L553.8,240.7 L553.8,251.7 L541.3,251.7 L539.3,251.1ZM541.3,240.7 L553.8,240.7 L555.7,241.2 L555.7,252.2 L543.2,252.2 L541.3,251.7ZM543.2,241.2 L555.7,241.2 L557.6,241.7 L557.6,252.7 L545.1,252.7 L543.2,252.2ZM545.1,241.7 L557.6,241.7 L559.5,242.3 L559.5,253.3 L547,253.3 L545.1,252.7ZM547,242.3 L559.5,242.3 L561.5,242.8 L561.5,253.8 L549,253.8 L547,253.3ZM549,242.8 L561.5,242.8 L563.4,243.4 L563.4,254.4 L550.9,254.4 L549,253.8ZM550.9,243.4 L563.4,243.4 L565.3,243.9 L565.3,254.9 L552.8,254.9 L550.9,254.4ZM552.8,243.9 L565.3,243.9 L567.2,244.5 L567.2,255.5 L554.7,255.5 L552.8,254.9ZM554.7,244.5 L567.2,244.5 L569.2,245 L569.2,256 L556.7,256 L554.7,255.5ZM556.7,245 L569.2,245 L571.1,245.5 L571.1,256.5 L558.6,256.5 L556.7,256ZM558.6,245.5 L571.1,245.5 L573,246.1 L573,257.1 L560.5,257.1 L558.6,256.5ZM560.5,246.1 L573,246.1 L574.9,246.6 L574.9,257.6 L562.4,257.6 L560.5,257.1ZM562.4,246.6 L574.9,246.6 L576.9,247.1 L576.9,258.1 L564.4,258.1 L562.4,257.6ZM564.4,247.1 L576.9,247.1 L578.8,247.7 L578.8,258.7 L566.3,258.7 L564.4,258.1ZM566.3,247.7 L578.8,247.7 L580.7,248.2 L580.7,259.2 L568.2,259.2 L566.3,258.7ZM568.2,248.2 L580.7,248.2 L582.7,248.7 L582.7,259.7 L570.2,259.7 L568.2,259.2ZM570.2,248.7 L582.7,248.7 L584.6,249.2 L584.6,260.2 L572.1,260.2 L570.2,259.7ZM572.1,249.2 L584.6,249.2 L586.5,249.7 L586.5,260.7 L574,260.7 L572.1,260.2ZM574,249.7 L586.5,249.7 L588.5,250.2 L588.5,261.2 L576,261.2 L574,260.7ZM576,250.2 L588.5,250.2 L590.4,250.7 L590.4,261.7 L577.9,261.7 L576,261.2ZM577.9,250.7 L590.4,250.7 L592.4,251.2 L592.4,262.2 L579.9,262.2 L577.9,261.7ZM579.9,251.2 L592.4,251.2 L594.3,251.7 L594.3,262.7 L581.8,262.7 L579.9,262.2ZM581.8,251.7 L594.3,251.7 L596.2,252.2 L596.2,263.2 L583.7,263.2 L581.8,262.7ZM583.7,252.2 L596.2,252.2 L598.2,252.6 L598.2,263.6 L585.7,263.6 L583.7,263.2ZM585.7,252.6 L598.2,252.6 L600.1,253.1 L600.1,264.1 L587.6,264.1 L585.7,263.6ZM587.6,253.1 L600.1,253.1 L602.1,253.5 L602.1,264.5 L589.6,264.5 L587.6,264.1ZM589.6,253.5 L602.1,253.5 L604,254 L604,265 L591.5,265 L589.6,264.5ZM591.5,254 L604,254 L606,254.4 L606,265.4 L593.5,265.4 L591.5,265ZM593.5,254.4 L606,254.4 L607.9,254.8 L607.9,265.8 L595.4,265.8 L593.5,265.4ZM595.4,254.8 L607.9,254.8 L609.9,255.3 L609.9,266.3 L597.4,266.3 L595.4,265.8ZM597.4,255.3 L609.9,255.3 L611.8,255.7 L611.8,266.7 L599.3,266.7 L597.4,266.3ZM599.3,255.7 L611.8,255.7 L613.8,256.1 L613.8,267.1 L601.3,267.1 L599.3,266.7ZM601.3,256.1 L613.8,256.1 L615.7,256.6 L615.7,267.6 L603.2,267.6 L601.3,267.1ZM603.2,256.6 L615.7,256.6 L617.7,257 L617.7,268 L605.2,268 L603.2,267.6ZM605.2,257 L617.7,257 L619.6,257.5 L619.6,268.5 L607.1,268.5 L605.2,268ZM607.1,257.5 L619.6,257.5 L621.6,257.9 L621.6,268.9 L609.1,268.9 L607.1,268.5ZM609.1,257.9 L621.6,257.9 L623.5,258.4 L623.5,269.4 L611,269.4 L609.1,268.9ZM611,258.4 L623.5,258.4 L625.5,258.9 L625.5,269.9 L613,269.9 L611,269.4ZM613,258.9 L625.5,258.9 L627.4,259.3 L627.4,270.3 L614.9,270.3 L613,269.9ZM614.9,259.3 L627.4,259.3 L629.4,259.8 L629.4,270.8 L616.9,270.8 L614.9,270.3ZM616.9,259.8 L629.4,259.8 L631.3,260.3 L631.3,271.3 L618.8,271.3 L616.9,270.8ZM618.8,260.3 L631.3,260.3 L633.2,260.8 L633.2,271.8 L620.7,271.8 L618.8,271.3ZM620.7,260.8 L633.2,260.8 L635.2,261.3 L635.2,272.3 L622.7,272.3 L620.7,271.8ZM622.7,261.3 L635.2,261.3 L637.1,261.8 L637.1,272.8 L624.6,272.8 L622.7,272.3ZM624.6,261.8 L637.1,261.8 L639.1,262.3 L639.1,273.3 L626.6,273.3 L624.6,272.8ZM626.6,262.3 L639.1,262.3 L641,262.8 L641,273.8 L628.5,273.8 L626.6,273.3ZM628.5,262.8 L641,262.8 L642.9,263.3 L642.9,274.3 L630.4,274.3 L628.5,273.8ZM630.4,263.3 L642.9,263.3 L644.9,263.9 L644.9,274.9 L632.4,274.9 L630.4,274.3ZM632.4,263.9 L644.9,263.9 L646.8,264.4 L646.8,275.4 L634.3,275.4 L632.4,274.9ZM634.3,264.4 L646.8,264.4 L648.7,264.9 L648.7,275.9 L636.2,275.9 L634.3,275.4ZM636.2,264.9 L648.7,264.9 L650.6,265.4 L650.6,276.4 L638.1,276.4 L636.2,275.9ZM638.1,265.4 L650.6,265.4 L652.6,266 L652.6,277 L640.1,277 L638.1,276.4ZM640.1,266 L652.6,266 L654.5,266.5 L654.5,277.5 L642,277.5 L640.1,277ZM642,266.5 L654.5,266.5 L656.4,267 L656.4,278 L643.9,278 L642,277.5ZM643.9,267 L656.4,267 L658.4,267.6 L658.4,278.6 L645.9,278.6 L643.9,278ZM645.9,267.6 L658.4,267.6 L660.3,268.1 L660.3,279.1 L647.8,279.1 L645.9,278.6ZM647.8,268.1 L660.3,268.1 L662.2,268.7 L662.2,279.7 L649.7,279.7 L647.8,279.1ZM649.7,268.7 L662.2,268.7 L664.1,269.2 L664.1,280.2 L651.6,280.2 L649.7,279.7ZM651.6,269.2 L664.1,269.2 L666.1,269.8 L666.1,280.8 L653.6,280.8 L651.6,280.2ZM653.6,269.8 L666.1,269.8 L668,270.3 L668,281.3 L655.5,281.3 L653.6,280.8ZM655.5,270.3 L668,270.3 L669.9,270.9 L669.9,281.9 L657.4,281.9 L655.5,281.3ZM657.4,270.9 L669.9,270.9 L671.8,271.5 L671.8,282.5 L659.3,282.5 L657.4,281.9ZM659.3,271.5 L671.8,271.5 L673.7,272 L673.7,283 L661.2,283 L659.3,282.5ZM661.2,272 L673.7,272 L675.6,272.6 L675.6,283.6 L663.1,283.6 L661.2,283ZM663.1,272.6 L675.6,272.6 L677.6,273.2 L677.6,284.2 L665.1,284.2 L663.1,283.6ZM665.1,273.2 L677.6,273.2 L679.5,273.8 L679.5,284.8 L667,284.8 L665.1,284.2ZM667,273.8 L679.5,273.8 L681.4,274.4 L681.4,285.4 L668.9,285.4 L667,284.8ZM668.9,274.4 L681.4,274.4 L683.3,275 L683.3,286 L670.8,286 L668.9,285.4ZM670.8,275 L683.3,275 L685.2,275.6 L685.2,286.6 L672.7,286.6 L670.8,286ZM672.7,275.6 L685.2,275.6 L687.1,276.2 L687.1,287.2 L674.6,287.2 L672.7,286.6ZM674.6,276.2 L687.1,276.2 L689,276.9 L689,287.9 L676.5,287.9 L674.6,287.2ZM676.5,276.9 L689,276.9 L690.9,277.5 L690.9,288.5 L678.4,288.5 L676.5,287.9ZM678.4,277.5 L690.9,277.5 L692.8,278.1 L692.8,289.1 L680.3,289.1 L678.4,288.5ZM680.3,278.1 L692.8,278.1 L694.7,278.8 L694.7,289.8 L682.2,289.8 L680.3,289.1ZM682.2,278.8 L694.7,278.8 L696.6,279.4 L696.6,290.4 L684.1,290.4 L682.2,289.8ZM684.1,279.4 L696.6,279.4 L698.5,280 L698.5,291 L686,291 L684.1,290.4ZM686,280 L698.5,280 L700.4,280.7 L700.4,291.7 L687.9,291.7 L686,291ZM687.9,280.7 L700.4,280.7 L702.3,281.3 L702.3,292.3 L689.8,292.3 L687.9,291.7ZM689.8,281.3 L702.3,281.3 L704.2,281.9 L704.2,292.9 L691.7,292.9 L689.8,292.3ZM691.7,281.9 L704.2,281.9 L706.1,282.6 L706.1,293.6 L693.6,293.6 L691.7,292.9ZM693.6,282.6 L706.1,282.6 L708,283.2 L708,294.2 L695.5,294.2 L693.6,293.6ZM695.5,283.2 L708,283.2 L709.9,283.8 L709.9,294.8 L697.4,294.8 L695.5,294.2ZM697.4,283.8 L709.9,283.8 L711.8,284.5 L711.8,295.5 L699.3,295.5 L697.4,294.8ZM699.3,284.5 L711.8,284.5 L713.7,285.1 L713.7,296.1 L701.2,296.1 L699.3,295.5ZM701.2,285.1 L713.7,285.1 L715.6,285.7 L715.6,296.7 L703.1,296.7 L701.2,296.1ZM703.1,285.7 L715.6,285.7 L717.5,286.4 L717.5,297.4 L705,297.4 L703.1,296.7ZM705,286.4 L717.5,286.4 L719.4,287 L719.4,298 L706.9,298 L705,297.4ZM706.9,287 L719.4,287 L721.3,287.6 L721.3,298.6 L708.8,298.6 L706.9,298ZM708.8,287.6 L721.3,287.6 L723.2,288.3 L723.2,299.3 L710.7,299.3 L708.8,298.6ZM710.7,288.3 L723.2,288.3 L725,288.9 L725,299.9 L712.5,299.9 L710.7,299.3ZM712.5,288.9 L725,288.9 L726.9,289.6 L726.9,300.6 L714.4,300.6 L712.5,299.9ZM714.4,289.6 L726.9,289.6 L728.8,290.3 L728.8,301.3 L716.3,301.3 L714.4,300.6ZM716.3,290.3 L728.8,290.3 L730.7,290.9 L730.7,301.9 L718.2,301.9 L716.3,301.3ZM718.2,290.9 L730.7,290.9 L732.6,291.6 L732.6,302.6 L720.1,302.6 L718.2,301.9ZM720.1,291.6 L732.6,291.6 L734.5,292.3 L734.5,303.3 L722,303.3 L720.1,302.6ZM722,292.3 L734.5,292.3 L736.3,293 L736.3,304 L723.8,304 L722,303.3ZM723.8,293 L736.3,293 L738.2,293.7 L738.2,304.7 L725.7,304.7 L723.8,304ZM725.7,293.7 L738.2,293.7 L740.1,294.4 L740.1,305.4 L727.6,305.4 L725.7,304.7ZM727.6,294.4 L740.1,294.4 L741.9,295.2 L741.9,306.2 L729.4,306.2 L727.6,305.4ZM729.4,295.2 L741.9,295.2 L743.8,295.9 L743.8,306.9 L731.3,306.9 L729.4,306.2ZM731.3,295.9 L743.8,295.9 L745.6,296.7 L745.6,307.7 L733.1,307.7 L731.3,306.9ZM733.1,296.7 L745.6,296.7 L747.5,297.4 L747.5,308.4 L735,308.4 L733.1,307.7ZM735,297.4 L747.5,297.4 L749.3,298.2 L749.3,309.2 L736.8,309.2 L735,308.4ZM736.8,298.2 L749.3,298.2 L751.1,299 L751.1,310 L738.6,310 L736.8,309.2ZM738.6,299 L751.1,299 L753,299.8 L753,310.8 L740.5,310.8 L738.6,310ZM740.5,299.8 L753,299.8 L754.8,300.7 L754.8,311.7 L742.3,311.7 L740.5,310.8ZM742.3,300.7 L754.8,300.7 L756.6,301.5 L756.6,312.5 L744.1,312.5 L742.3,311.7ZM744.1,301.5 L756.6,301.5 L758.4,302.3 L758.4,313.3 L745.9,313.3 L744.1,312.5ZM745.9,302.3 L758.4,302.3 L760.2,303.2 L760.2,314.2 L747.7,314.2 L745.9,313.3ZM747.7,303.2 L760.2,303.2 L762,304.1 L762,315.1 L749.5,315.1 L747.7,314.2ZM749.5,304.1 L762,304.1 L763.8,305 L763.8,316 L751.3,316 L749.5,315.1ZM751.3,305 L763.8,305 L765.5,305.9 L765.5,316.9 L753,316.9 L751.3,316ZM753,305.9 L765.5,305.9 L767.3,306.8 L767.3,317.8 L754.8,317.8 L753,316.9ZM754.8,306.8 L767.3,306.8 L769.1,307.8 L769.1,318.8 L756.6,318.8 L754.8,317.8ZM756.6,307.8 L769.1,307.8 L770.8,308.7 L770.8,319.7 L758.3,319.7 L756.6,318.8ZM758.3,308.7 L770.8,308.7 L772.6,309.7 L772.6,320.7 L760.1,320.7 L758.3,319.7ZM760.1,309.7 L772.6,309.7 L774.3,310.7 L774.3,321.7 L761.8,321.7 L760.1,320.7ZM761.8,310.7 L774.3,310.7 L776.1,311.6 L776.1,322.6 L763.6,322.6 L761.8,321.7ZM763.6,311.6 L776.1,311.6 L777.8,312.6 L777.8,323.6 L765.3,323.6 L763.6,322.6ZM765.3,312.6 L777.8,312.6 L779.5,313.6 L779.5,324.6 L767,324.6 L765.3,323.6ZM767,313.6 L779.5,313.6 L781.3,314.7 L781.3,325.7 L768.8,325.7 L767,324.6ZM768.8,314.7 L781.3,314.7 L783,315.7 L783,326.7 L770.5,326.7 L768.8,325.7ZM770.5,315.7 L783,315.7 L784.7,316.7 L784.7,327.7 L772.2,327.7 L770.5,326.7ZM772.2,316.7 L784.7,316.7 L786.4,317.8 L786.4,328.8 L773.9,328.8 L772.2,327.7ZM773.9,317.8 L786.4,317.8 L788.1,318.8 L788.1,329.8 L775.6,329.8 L773.9,328.8ZM775.6,318.8 L788.1,318.8 L789.8,319.9 L789.8,330.9 L777.3,330.9 L775.6,329.8ZM777.3,319.9 L789.8,319.9 L791.4,321 L791.4,332 L778.9,332 L777.3,330.9ZM778.9,321 L791.4,321 L793.1,322.1 L793.1,333.1 L780.6,333.1 L778.9,332ZM780.6,322.1 L793.1,322.1 L794.8,323.2 L794.8,334.2 L782.3,334.2 L780.6,333.1ZM782.3,323.2 L794.8,323.2 L796.4,324.3 L796.4,335.3 L783.9,335.3 L782.3,334.2ZM783.9,324.3 L796.4,324.3 L798.1,325.4 L798.1,336.4 L785.6,336.4 L783.9,335.3ZM785.6,325.4 L798.1,325.4 L799.7,326.6 L799.7,337.6 L787.2,337.6 L785.6,336.4ZM787.2,326.6 L799.7,326.6 L801.4,327.7 L801.4,338.7 L788.9,338.7 L787.2,337.6ZM788.9,327.7 L801.4,327.7 L803,328.9 L803,339.9 L790.5,339.9 L788.9,338.7ZM790.5,328.9 L803,328.9 L804.6,330.1 L804.6,341.1 L792.1,341.1 L790.5,339.9ZM792.1,330.1 L804.6,330.1 L806.2,331.2 L806.2,342.2 L793.7,342.2 L792.1,341.1ZM793.7,331.2 L806.2,331.2 L807.8,332.4 L807.8,343.4 L795.3,343.4 L793.7,342.2ZM795.3,332.4 L807.8,332.4 L809.4,333.6 L809.4,344.6 L796.9,344.6 L795.3,343.4ZM796.9,333.6 L809.4,333.6 L811,334.8 L811,345.8 L798.5,345.8 L796.9,344.6ZM798.5,334.8 L811,334.8 L812.6,336.1 L812.6,347.1 L800.1,347.1 L798.5,345.8ZM800.1,336.1 L812.6,336.1 L814.1,337.3 L814.1,348.3 L801.6,348.3 L800.1,347.1ZM801.6,337.3 L814.1,337.3 L815.7,338.6 L815.7,349.6 L803.2,349.6 L801.6,348.3ZM803.2,338.6 L815.7,338.6 L817.2,339.8 L817.2,350.8 L804.7,350.8 L803.2,349.6ZM804.7,339.8 L817.2,339.8 L818.7,341.1 L818.7,352.1 L806.2,352.1 L804.7,350.8ZM806.2,341.1 L818.7,341.1 L820.3,342.4 L820.3,353.4 L807.8,353.4 L806.2,352.1ZM807.8,342.4 L820.3,342.4 L821.8,343.7 L821.8,354.7 L809.3,354.7 L807.8,353.4ZM809.3,343.7 L821.8,343.7 L823.2,345.1 L823.2,356.1 L810.7,356.1 L809.3,354.7ZM810.7,345.1 L823.2,345.1 L824.7,346.4 L824.7,357.4 L812.2,357.4 L810.7,356.1ZM812.2,346.4 L824.7,346.4 L826.2,347.8 L826.2,358.8 L813.7,358.8 L812.2,357.4ZM813.7,347.8 L826.2,347.8 L827.6,349.2 L827.6,360.2 L815.1,360.2 L813.7,358.8ZM815.1,349.2 L827.6,349.2 L829,350.6 L829,361.6 L816.5,361.6 L815.1,360.2ZM816.5,350.6 L829,350.6 L830.4,352 L830.4,363 L817.9,363 L816.5,361.6ZM817.9,352 L830.4,352 L831.8,353.4 L831.8,364.4 L819.3,364.4 L817.9,363ZM819.3,353.4 L831.8,353.4 L833.1,354.9 L833.1,365.9 L820.6,365.9 L819.3,364.4ZM820.6,354.9 L833.1,354.9 L834.5,356.4 L834.5,367.4 L822,367.4 L820.6,365.9ZM822,356.4 L834.5,356.4 L835.8,357.9 L835.8,368.9 L823.3,368.9 L822,367.4ZM823.3,357.9 L835.8,357.9 L837.1,359.4 L837.1,370.4 L824.6,370.4 L823.3,368.9ZM824.6,359.4 L837.1,359.4 L838.4,360.9 L838.4,371.9 L825.9,371.9 L824.6,370.4ZM825.9,360.9 L838.4,360.9 L839.6,362.4 L839.6,373.4 L827.1,373.4 L825.9,371.9ZM827.1,362.4 L839.6,362.4 L840.9,364 L840.9,375 L828.4,375 L827.1,373.4ZM828.4,364 L840.9,364 L842.1,365.6 L842.1,376.6 L829.6,376.6 L828.4,375ZM829.6,365.6 L842.1,365.6 L843.3,367.2 L843.3,378.2 L830.8,378.2 L829.6,376.6ZM830.8,367.2 L843.3,367.2 L844.5,368.8 L844.5,379.8 L832,379.8 L830.8,378.2ZM832,368.8 L844.5,368.8 L845.7,370.4 L845.7,381.4 L833.2,381.4 L832,379.8ZM833.2,370.4 L845.7,370.4 L846.8,372 L846.8,383 L834.3,383 L833.2,381.4ZM834.3,372 L846.8,372 L848,373.6 L848,384.6 L835.5,384.6 L834.3,383ZM835.5,373.6 L848,373.6 L849.1,375.3 L849.1,386.3 L836.6,386.3 L835.5,384.6ZM836.6,375.3 L849.1,375.3 L850.2,377 L850.2,388 L837.7,388 L836.6,386.3ZM837.7,377 L850.2,377 L851.3,378.6 L851.3,389.6 L838.8,389.6 L837.7,388ZM838.8,378.6 L851.3,378.6 L852.3,380.3 L852.3,391.3 L839.8,391.3 L838.8,389.6ZM839.8,380.3 L852.3,380.3 L853.4,382 L853.4,393 L840.9,393 L839.8,391.3ZM840.9,382 L853.4,382 L854.4,383.7 L854.4,394.7 L841.9,394.7 L840.9,393ZM841.9,383.7 L854.4,383.7 L855.5,385.4 L855.5,396.4 L843,396.4 L841.9,394.7ZM843,385.4 L855.5,385.4 L856.5,387.1 L856.5,398.1 L844,398.1 L843,396.4ZM844,387.1 L856.5,387.1 L857.4,388.9 L857.4,399.9 L844.9,399.9 L844,398.1ZM844.9,388.9 L857.4,388.9 L858.4,390.6 L858.4,401.6 L845.9,401.6 L844.9,399.9ZM845.9,390.6 L858.4,390.6 L859.4,392.4 L859.4,403.4 L846.9,403.4 L845.9,401.6ZM846.9,392.4 L859.4,392.4 L860.3,394.1 L860.3,405.1 L847.8,405.1 L846.9,403.4ZM847.8,394.1 L860.3,394.1 L861.2,395.9 L861.2,406.9 L848.7,406.9 L847.8,405.1ZM848.7,395.9 L861.2,395.9 L862.1,397.7 L862.1,408.7 L849.6,408.7 L848.7,406.9ZM849.6,397.7 L862.1,397.7 L863,399.5 L863,410.5 L850.5,410.5 L849.6,408.7ZM850.5,399.5 L863,399.5 L863.8,401.3 L863.8,412.3 L851.3,412.3 L850.5,410.5ZM851.3,401.3 L863.8,401.3 L864.6,403.1 L864.6,414.1 L852.1,414.1 L851.3,412.3ZM852.1,403.1 L864.6,403.1 L865.4,404.9 L865.4,415.9 L852.9,415.9 L852.1,414.1ZM852.9,404.9 L865.4,404.9 L866.2,406.8 L866.2,417.8 L853.7,417.8 L852.9,415.9ZM853.7,406.8 L866.2,406.8 L867,408.6 L867,419.6 L854.5,419.6 L853.7,417.8ZM854.5,408.6 L867,408.6 L867.7,410.5 L867.7,421.5 L855.2,421.5 L854.5,419.6ZM855.2,410.5 L867.7,410.5 L868.5,412.3 L868.5,423.3 L856,423.3 L855.2,421.5ZM856,412.3 L868.5,412.3 L869.2,414.2 L869.2,425.2 L856.7,425.2 L856,423.3ZM856.7,414.2 L869.2,414.2 L869.9,416.1 L869.9,427.1 L857.4,427.1 L856.7,425.2ZM857.4,416.1 L869.9,416.1 L870.6,417.9 L870.6,428.9 L858.1,428.9 L857.4,427.1ZM858.1,417.9 L870.6,417.9 L871.3,419.8 L871.3,430.8 L858.8,430.8 L858.1,428.9ZM858.8,419.8 L871.3,419.8 L871.9,421.7 L871.9,432.7 L859.4,432.7 L858.8,430.8ZM859.4,421.7 L871.9,421.7 L872.6,423.6 L872.6,434.6 L860.1,434.6 L859.4,432.7ZM860.1,423.6 L872.6,423.6 L873.2,425.5 L873.2,436.5 L860.7,436.5 L860.1,434.6ZM860.7,425.5 L873.2,425.5 L873.8,427.4 L873.8,438.4 L861.3,438.4 L860.7,436.5ZM861.3,427.4 L873.8,427.4 L874.5,429.3 L874.5,440.3 L862,440.3 L861.3,438.4ZM862,429.3 L874.5,429.3 L875.1,431.2 L875.1,442.2 L862.6,442.2 L862,440.3ZM862.6,431.2 L875.1,431.2 L875.7,433.1 L875.7,444.1 L863.2,444.1 L862.6,442.2ZM863.2,433.1 L875.7,433.1 L876.3,435 L876.3,446 L863.8,446 L863.2,444.1ZM863.8,435 L876.3,435 L876.9,436.9 L876.9,447.9 L864.4,447.9 L863.8,446ZM864.4,436.9 L876.9,436.9 L877.5,438.8 L877.5,449.8 L865,449.8 L864.4,447.9ZM865,438.8 L877.5,438.8 L878.1,440.7 L878.1,451.7 L865.6,451.7 L865,449.8ZM865.6,440.7 L878.1,440.7 L878.7,442.6 L878.7,453.6 L866.2,453.6 L865.6,451.7ZM866.2,442.6 L878.7,442.6 L879.2,444.6 L879.2,455.6 L866.7,455.6 L866.2,453.6ZM866.7,444.6 L879.2,444.6 L879.8,446.5 L879.8,457.5 L867.3,457.5 L866.7,455.6ZM867.3,446.5 L879.8,446.5 L880.4,448.4 L880.4,459.4 L867.9,459.4 L867.3,457.5ZM867.9,448.4 L880.4,448.4 L881,450.3 L881,461.3 L868.5,461.3 L867.9,459.4ZM868.5,450.3 L881,450.3 L881.6,452.2 L881.6,463.2 L869.1,463.2 L868.5,461.3ZM869.1,452.2 L881.6,452.2 L882.1,454.1 L882.1,465.1 L869.6,465.1 L869.1,463.2ZM869.6,454.1 L882.1,454.1 L882.7,456 L882.7,467 L870.2,467 L869.6,465.1ZM870.2,456 L882.7,456 L883.3,458 L883.3,469 L870.8,469 L870.2,467ZM870.8,458 L883.3,458 L883.9,459.9 L883.9,470.9 L871.4,470.9 L870.8,469ZM871.4,459.9 L883.9,459.9 L884.4,461.8 L884.4,472.8 L871.9,472.8 L871.4,470.9ZM871.9,461.8 L884.4,461.8 L885,463.7 L885,474.7 L872.5,474.7 L871.9,472.8ZM872.5,463.7 L885,463.7 L885.5,465.7 L885.5,476.7 L873,476.7 L872.5,474.7ZM873,465.7 L885.5,465.7 L886,467.6 L886,478.6 L873.5,478.6 L873,476.7ZM873.5,467.6 L886,467.6 L886.6,469.5 L886.6,480.5 L874.1,480.5 L873.5,478.6ZM874.1,469.5 L886.6,469.5 L887.1,471.4 L887.1,482.4 L874.6,482.4 L874.1,480.5ZM874.6,471.4 L887.1,471.4 L887.6,473.4 L887.6,484.4 L875.1,484.4 L874.6,482.4ZM875.1,473.4 L887.6,473.4 L888,475.3 L888,486.3 L875.5,486.3 L875.1,484.4ZM875.5,475.3 L888,475.3 L888.5,477.3 L888.5,488.3 L876,488.3 L875.5,486.3ZM876,477.3 L888.5,477.3 L889,479.2 L889,490.2 L876.5,490.2 L876,488.3ZM876.5,479.2 L889,479.2 L889.4,481.1 L889.4,492.1 L876.9,492.1 L876.5,490.2ZM876.9,481.1 L889.4,481.1 L889.9,483.1 L889.9,494.1 L877.4,494.1 L876.9,492.1ZM877.4,483.1 L889.9,483.1 L890.3,485.1 L890.3,496.1 L877.8,496.1 L877.4,494.1ZM877.8,485.1 L890.3,485.1 L890.7,487 L890.7,498 L878.2,498 L877.8,496.1ZM878.2,487 L890.7,487 L891.2,489 L891.2,500 L878.7,500 L878.2,498ZM878.7,489 L891.2,489 L891.6,490.9 L891.6,501.9 L879.1,501.9 L878.7,500ZM879.1,490.9 L891.6,490.9 L892,492.9 L892,503.9 L879.5,503.9 L879.1,501.9ZM879.5,492.9 L892,492.9 L892.3,494.8 L892.3,505.8 L879.8,505.8 L879.5,503.9ZM879.8,494.8 L892.3,494.8 L892.7,496.8 L892.7,507.8 L880.2,507.8 L879.8,505.8ZM880.2,496.8 L892.7,496.8 L893.1,498.8 L893.1,509.8 L880.6,509.8 L880.2,507.8ZM880.6,498.8 L893.1,498.8 L893.5,500.7 L893.5,511.7 L881,511.7 L880.6,509.8ZM881,500.7 L893.5,500.7 L893.9,502.7 L893.9,513.7 L881.4,513.7 L881,511.7ZM881.4,502.7 L893.9,502.7 L894.2,504.7 L894.2,515.7 L881.7,515.7 L881.4,513.7ZM881.7,504.7 L894.2,504.7 L894.6,506.6 L894.6,517.6 L882.1,517.6 L881.7,515.7ZM882.1,506.6 L894.6,506.6 L894.9,508.6 L894.9,519.6 L882.4,519.6 L882.1,517.6ZM882.4,508.6 L894.9,508.6 L895.3,510.6 L895.3,521.6 L882.8,521.6 L882.4,519.6ZM882.8,510.6 L895.3,510.6 L895.6,512.5 L895.6,523.5 L883.1,523.5 L882.8,521.6ZM883.1,512.5 L895.6,512.5 L896,514.5 L896,525.5 L883.5,525.5 L883.1,523.5ZM883.5,514.5 L896,514.5 L896.3,516.5 L896.3,527.5 L883.8,527.5 L883.5,525.5ZM883.8,516.5 L896.3,516.5 L896.6,518.5 L896.6,529.5 L884.1,529.5 L883.8,527.5ZM884.1,518.5 L896.6,518.5 L896.9,520.4 L896.9,531.4 L884.4,531.4 L884.1,529.5ZM884.4,520.4 L896.9,520.4 L897.2,522.4 L897.2,533.4 L884.7,533.4 L884.4,531.4ZM884.7,522.4 L897.2,522.4 L897.5,524.4 L897.5,535.4 L885,535.4 L884.7,533.4ZM885,524.4 L897.5,524.4 L897.8,526.4 L897.8,537.4 L885.3,537.4 L885,535.4ZM885.3,526.4 L897.8,526.4 L898.1,528.4 L898.1,539.4 L885.6,539.4 L885.3,537.4ZM885.6,528.4 L898.1,528.4 L898.4,530.3 L898.4,541.3 L885.9,541.3 L885.6,539.4ZM885.9,530.3 L898.4,530.3 L898.7,532.3 L898.7,543.3 L886.2,543.3 L885.9,541.3ZM886.2,532.3 L898.7,532.3 L899,534.3 L899,545.3 L886.5,545.3 L886.2,543.3ZM886.5,534.3 L899,534.3 L899.3,536.3 L899.3,547.3 L886.8,547.3 L886.5,545.3ZM886.8,536.3 L899.3,536.3 L899.5,538.3 L899.5,549.3 L887,549.3 L886.8,547.3ZM887,538.3 L899.5,538.3 L899.8,540.2 L899.8,551.2 L887.3,551.2 L887,549.3ZM887.3,540.2 L899.8,540.2 L900.1,542.2 L900.1,553.2 L887.6,553.2 L887.3,551.2ZM887.6,542.2 L900.1,542.2 L900.3,544.2 L900.3,555.2 L887.8,555.2 L887.6,553.2ZM887.8,544.2 L900.3,544.2 L900.6,546.2 L900.6,557.2 L888.1,557.2 L887.8,555.2ZM888.1,546.2 L900.6,546.2 L900.8,548.2 L900.8,559.2 L888.3,559.2 L888.1,557.2ZM888.3,548.2 L900.8,548.2 L901.1,550.2 L901.1,561.2 L888.6,561.2 L888.3,559.2ZM888.6,550.2 L901.1,550.2 L901.3,552.2 L901.3,563.2 L888.8,563.2 L888.6,561.2ZM888.8,552.2 L901.3,552.2 L901.6,554.1 L901.6,565.1 L889.1,565.1 L888.8,563.2ZM889.1,554.1 L901.6,554.1 L901.8,556.1 L901.8,567.1 L889.3,567.1 L889.1,565.1ZM889.3,556.1 L901.8,556.1 L902,558.1 L902,569.1 L889.5,569.1 L889.3,567.1ZM889.5,558.1 L902,558.1 L902.3,560.1 L902.3,571.1 L889.8,571.1 L889.5,569.1ZM889.8,560.1 L902.3,560.1 L902.5,562.1 L902.5,573.1 L890,573.1 L889.8,571.1ZM890,562.1 L902.5,562.1 L902.7,564.1 L902.7,575.1 L890.2,575.1 L890,573.1ZM890.2,564.1 L902.7,564.1 L902.9,566.1 L902.9,577.1 L890.4,577.1 L890.2,575.1ZM890.4,566.1 L902.9,566.1 L903.1,568.1 L903.1,579.1 L890.6,579.1 L890.4,577.1ZM890.6,568.1 L903.1,568.1 L903.3,570.1 L903.3,581.1 L890.8,581.1 L890.6,579.1ZM890.8,570.1 L903.3,570.1 L903.5,572 L903.5,583 L891,583 L890.8,581.1ZM891,572 L903.5,572 L903.7,574 L903.7,585 L891.2,585 L891,583ZM891.2,574 L903.7,574 L903.9,576 L903.9,587 L891.4,587 L891.2,585ZM891.4,576 L903.9,576 L904.1,578 L904.1,589 L891.6,589 L891.4,587ZM891.6,578 L904.1,578 L904.3,580 L904.3,591 L891.8,591 L891.6,589ZM891.8,580 L904.3,580 L904.5,582 L904.5,593 L892,593 L891.8,591ZM892,582 L904.5,582 L904.7,584 L904.7,595 L892.2,595 L892,593ZM892.2,584 L904.7,584 L904.9,586 L904.9,597 L892.4,597 L892.2,595ZM892.4,586 L904.9,586 L905.1,588 L905.1,599 L892.6,599 L892.4,597ZM892.6,588 L905.1,588 L905.3,590 L905.3,601 L892.8,601 L892.6,599ZM892.8,590 L905.3,590 L905.5,592 L905.5,603 L893,603 L892.8,601ZM893,592 L905.5,592 L905.7,594 L905.7,605 L893.2,605 L893,603ZM893.2,594 L905.7,594 L905.9,595.9 L905.9,606.9 L893.4,606.9 L893.2,605ZM893.4,595.9 L905.9,595.9 L906.1,597.9 L906.1,608.9 L893.6,608.9 L893.4,606.9ZM893.6,597.9 L906.1,597.9 L906.3,599.9 L906.3,610.9 L893.8,610.9 L893.6,608.9ZM893.8,599.9 L906.3,599.9 L906.4,601.9 L906.4,612.9 L893.9,612.9 L893.8,610.9ZM893.9,601.9 L906.4,601.9 L906.6,603.9 L906.6,614.9 L894.1,614.9 L893.9,612.9ZM894.1,603.9 L906.6,603.9 L906.8,605.9 L906.8,616.9 L894.3,616.9 L894.1,614.9ZM894.3,605.9 L906.8,605.9 L907,607.9 L907,618.9 L894.5,618.9 L894.3,616.9ZM894.5,607.9 L907,607.9 L907.2,609.9 L907.2,620.9 L894.7,620.9 L894.5,618.9ZM894.7,609.9 L907.2,609.9 L907.4,611.9 L907.4,622.9 L894.9,622.9 L894.7,620.9ZM894.9,611.9 L907.4,611.9 L907.6,613.9 L907.6,624.9 L895.1,624.9 L894.9,622.9ZM895.1,613.9 L907.6,613.9 L907.8,615.9 L907.8,626.9 L895.3,626.9 L895.1,624.9ZM895.3,615.9 L907.8,615.9 L908,617.9 L908,628.9 L895.5,628.9 L895.3,626.9ZM895.5,617.9 L908,617.9 L908.2,619.9 L908.2,630.9 L895.7,630.9 L895.5,628.9ZM895.7,619.9 L908.2,619.9 L908.3,621.8 L908.3,632.8 L895.8,632.8 L895.7,630.9ZM895.8,621.8 L908.3,621.8 L908.5,623.8 L908.5,634.8 L896,634.8 L895.8,632.8ZM896,623.8 L908.5,623.8 L908.7,625.8 L908.7,636.8 L896.2,636.8 L896,634.8ZM896.2,625.8 L908.7,625.8 L908.9,627.8 L908.9,638.8 L896.4,638.8 L896.2,636.8ZM896.4,627.8 L908.9,627.8 L909.1,629.8 L909.1,640.8 L896.6,640.8 L896.4,638.8ZM896.6,629.8 L909.1,629.8 L909.3,631.8 L909.3,642.8 L896.8,642.8 L896.6,640.8ZM896.8,631.8 L909.3,631.8 L909.5,633.8 L909.5,644.8 L897,644.8 L896.8,642.8ZM897,633.8 L909.5,633.8 L909.7,635.8 L909.7,646.8 L897.2,646.8 L897,644.8ZM897.2,635.8 L909.7,635.8 L909.8,637.8 L909.8,648.8 L897.3,648.8 L897.2,646.8ZM897.3,637.8 L909.8,637.8 L910,639.8 L910,650.8 L897.5,650.8 L897.3,648.8ZM897.5,639.8 L910,639.8 L910.2,641.8 L910.2,652.8 L897.7,652.8 L897.5,650.8ZM897.7,641.8 L910.2,641.8 L910.4,643.8 L910.4,654.8 L897.9,654.8 L897.7,652.8ZM897.9,643.8 L910.4,643.8 L910.6,645.8 L910.6,656.8 L898.1,656.8 L897.9,654.8ZM898.1,645.8 L910.6,645.8 L910.8,647.8 L910.8,658.8 L898.3,658.8 L898.1,656.8ZM898.3,647.8 L910.8,647.8 L911,649.7 L911,660.7 L898.5,660.7 L898.3,658.8ZM898.5,649.7 L911,649.7 L911.1,651.7 L911.1,662.7 L898.6,662.7 L898.5,660.7ZM898.6,651.7 L911.1,651.7 L911.3,653.7 L911.3,664.7 L898.8,664.7 L898.6,662.7ZM898.8,653.7 L911.3,653.7 L911.5,655.7 L911.5,666.7 L899,666.7 L898.8,664.7ZM899,655.7 L911.5,655.7 L911.7,657.7 L911.7,668.7 L899.2,668.7 L899,666.7ZM899.2,657.7 L911.7,657.7 L911.9,659.7 L911.9,670.7 L899.4,670.7 L899.2,668.7ZM899.4,659.7 L911.9,659.7 L912.1,661.7 L912.1,672.7 L899.6,672.7 L899.4,670.7ZM899.6,661.7 L912.1,661.7 L912.2,663.7 L912.2,674.7 L899.7,674.7 L899.6,672.7ZM899.7,663.7 L912.2,663.7 L912.4,665.7 L912.4,676.7 L899.9,676.7 L899.7,674.7ZM899.9,665.7 L912.4,665.7 L912.6,667.7 L912.6,678.7 L900.1,678.7 L899.9,676.7ZM900.1,667.7 L912.6,667.7 L912.8,669.7 L912.8,680.7 L900.3,680.7 L900.1,678.7ZM900.3,669.7 L912.8,669.7 L913,671.7 L913,682.7 L900.5,682.7 L900.3,680.7ZM900.5,671.7 L913,671.7 L913.2,673.7 L913.2,684.7 L900.7,684.7 L900.5,682.7ZM900.7,673.7 L913.2,673.7 L913.3,675.7 L913.3,686.7 L900.8,686.7 L900.7,684.7ZM900.8,675.7 L913.3,675.7 L913.5,677.6 L913.5,688.6 L901,688.6 L900.8,686.7ZM901,677.6 L913.5,677.6 L913.7,679.6 L913.7,690.6 L901.2,690.6 L901,688.6ZM901.2,679.6 L913.7,679.6 L913.9,681.6 L913.9,692.6 L901.4,692.6 L901.2,690.6ZM901.4,681.6 L913.9,681.6 L914.1,683.6 L914.1,694.6 L901.6,694.6 L901.4,692.6ZM901.6,683.6 L914.1,683.6 L914.2,685.6 L914.2,696.6 L901.7,696.6 L901.6,694.6ZM901.7,685.6 L914.2,685.6 L914.4,687.6 L914.4,698.6 L901.9,698.6 L901.7,696.6ZM901.9,687.6 L914.4,687.6 L914.6,689.6 L914.6,700.6 L902.1,700.6 L901.9,698.6ZM902.1,689.6 L914.6,689.6 L914.8,691.6 L914.8,702.6 L902.3,702.6 L902.1,700.6ZM902.3,691.6 L914.8,691.6 L915,693.6 L915,704.6 L902.5,704.6 L902.3,702.6ZM902.5,693.6 L915,693.6 L915.1,695.6 L915.1,706.6 L902.6,706.6 L902.5,704.6ZM902.6,695.6 L915.1,695.6 L915.3,697.6 L915.3,708.6 L902.8,708.6 L902.6,706.6ZM902.8,697.6 L915.3,697.6 L915.5,699.6 L915.5,710.6 L903,710.6 L902.8,708.6ZM903,699.6 L915.5,699.6 L915.6,701.6 L915.6,712.6 L903.1,712.6 L903,710.6ZM903.1,701.6 L915.6,701.6 L915.8,703.6 L915.8,714.6 L903.3,714.6 L903.1,712.6ZM903.3,703.6 L915.8,703.6 L916,705.6 L916,716.6 L903.5,716.6 L903.3,714.6ZM903.5,705.6 L916,705.6 L916.1,707.6 L916.1,718.6 L903.6,718.6 L903.5,716.6ZM903.6,707.6 L916.1,707.6 L916.3,709.5 L916.3,720.5 L903.8,720.5 L903.6,718.6ZM903.8,709.5 L916.3,709.5 L916.4,711.5 L916.4,722.5 L903.9,722.5 L903.8,720.5ZM903.9,711.5 L916.4,711.5 L916.6,713.5 L916.6,724.5 L904.1,724.5 L903.9,722.5ZM904.1,713.5 L916.6,713.5 L916.7,715.5 L916.7,726.5 L904.2,726.5 L904.1,724.5ZM904.2,715.5 L916.7,715.5 L916.8,717.5 L916.8,728.5 L904.3,728.5 L904.2,726.5ZM904.3,717.5 L916.8,717.5 L917,719.5 L917,730.5 L904.5,730.5 L904.3,728.5ZM904.5,719.5 L917,719.5 L917.1,721.5 L917.1,732.5 L904.6,732.5 L904.5,730.5ZM904.6,721.5 L917.1,721.5 L917.2,723.5 L917.2,734.5 L904.7,734.5 L904.6,732.5ZM904.7,723.5 L917.2,723.5 L917.4,725.5 L917.4,736.5 L904.9,736.5 L904.7,734.5ZM904.9,725.5 L917.4,725.5 L917.5,727.5 L917.5,738.5 L905,738.5 L904.9,736.5ZM905,727.5 L917.5,727.5 L917.6,729.5 L917.6,740.5 L905.1,740.5 L905,738.5ZM905.1,729.5 L917.6,729.5 L917.7,731.5 L917.7,742.5 L905.2,742.5 L905.1,740.5ZM905.2,731.5 L917.7,731.5 L917.8,733.5 L917.8,744.5 L905.3,744.5 L905.2,742.5ZM905.3,733.5 L917.8,733.5 L917.9,735.5 L917.9,746.5 L905.4,746.5 L905.3,744.5ZM905.4,735.5 L917.9,735.5 L918,737.5 L918,748.5 L905.5,748.5 L905.4,746.5ZM905.5,737.5 L918,737.5 L918.1,739.5 L918.1,750.5 L905.6,750.5 L905.5,748.5ZM905.6,739.5 L918.1,739.5 L918.2,741.5 L918.2,752.5 L905.7,752.5 L905.6,750.5ZM905.7,741.5 L918.2,741.5 L918.3,743.5 L918.3,754.5 L905.8,754.5 L905.7,752.5ZM905.8,743.5 L918.3,743.5 L918.4,745.5 L918.4,756.5 L905.9,756.5 L905.8,754.5ZM905.9,745.5 L918.4,745.5 L918.5,747.5 L918.5,758.5 L906,758.5 L905.9,756.5ZM906,747.5 L918.5,747.5 L918.6,749.5 L918.6,760.5 L906.1,760.5 L906,758.5ZM906.1,749.5 L918.6,749.5 L918.7,751.5 L918.7,762.5 L906.2,762.5 L906.1,760.5Z" fill="#1030ff"/>
<path d="M141,124L143,123.4L154.2,130.6L162,135.6L162,142L141,142Z" fill="#1030ff"/>
<path d="M147.0,152.5 L148.9,153.2 L150.8,153.8 L152.7,154.5 L154.6,155.1 L156.5,155.8 L158.3,156.4 L160.2,157.1 L162.1,157.8 L164.0,158.4 L165.9,159.1 L167.8,159.7 L169.7,160.4 L171.6,161.0 L173.5,161.7 L175.4,162.4 L177.2,163.0 L179.1,163.6 L181.0,164.3 L182.9,164.9 L184.8,165.5 L186.7,166.2 L188.6,166.8 L190.5,167.4 L192.5,167.9 L194.4,168.5 L196.3,169.0 L198.2,169.6 L200.1,170.1 L202.1,170.6 L204.0,171.0 L206.0,171.5 L207.9,171.9 L209.9,172.3 L211.8,172.7 L213.8,173.1 L215.7,173.5 L217.7,173.9 L219.7,174.2 L221.6,174.6 L223.6,174.9 L225.6,175.3 L227.5,175.6 L229.5,175.9 L231.5,176.3 L233.5,176.6 L235.4,176.9 L237.4,177.3 L239.4,177.6 L241.4,177.9 L243.3,178.2 L245.3,178.6 L247.3,178.9 L249.3,179.2 L251.2,179.5 L253.2,179.9 L255.2,180.2 L257.2,180.5 L259.1,180.8 L261.1,181.2 L263.1,181.5 L265.1,181.8 L267.0,182.1 L269.0,182.5 L271.0,182.8 L273.0,183.1 L274.9,183.4 L276.9,183.8 L278.9,184.1 L280.9,184.4 L282.8,184.7 L284.8,185.0 L286.8,185.4 L288.8,185.7 L290.7,186.0 L292.7,186.3 L294.7,186.5 L296.7,186.8 L298.7,187.1 L300.6,187.4 L302.6,187.6 L304.6,187.9 L306.6,188.2 L308.6,188.4 L310.5,188.7 L312.5,189.0 L314.5,189.2 L316.5,189.5 L318.5,189.8 L320.4,190.1 L322.4,190.4 L324.4,190.7 L326.3,191.0 L328.3,191.4 L330.3,191.8 L332.2,192.1 L334.2,192.5 L336.2,192.9 L338.1,193.3 L340.1,193.7 L342.0,194.1 L344.0,194.5 L345.9,195.0 L347.9,195.4 L349.9,195.8 L351.8,196.2 L353.8,196.6 L355.7,196.9 L357.7,197.3 L359.7,197.7 L361.6,198.0 L363.6,198.3 L365.6,198.6 L367.5,198.9 L369.5,199.2 L371.5,199.4 L373.5,199.6 L375.5,199.8 L377.4,200.0 L379.4,200.2 L381.4,200.3 L383.4,200.4 L385.4,200.5 L387.4,200.5 L389.4,200.6 L391.4,200.6 L393.4,200.7 L395.4,200.7 L397.4,200.7 L399.4,200.7 L401.4,200.7 L403.4,200.7 L405.4,200.7 L407.4,200.7 L409.4,200.8 L411.4,200.8 L413.4,200.8 L415.3,200.9 L417.3,201.0 L419.3,201.1 L421.3,201.2 L423.3,201.4 L425.3,201.5 L427.3,201.7 L429.3,202.0 L431.2,202.2 L433.2,202.5 L435.2,202.7 L437.2,203.0 L439.1,203.4 L441.1,203.7 L443.1,204.0 L445.0,204.4 L447.0,204.8 L448.9,205.2 L450.9,205.5 L452.9,205.9 L454.8,206.3 L456.8,206.7 L458.7,207.1 L460.7,207.5 L462.7,207.9 L464.6,208.3 L466.6,208.7 L468.5,209.1 L470.5,209.5 L472.5,210.0 L474.4,210.4 L476.4,210.8 L478.3,211.2 L480.3,211.6 L482.3,212.0 L484.2,212.4 L486.2,212.8 L488.1,213.2 L490.1,213.7 L492.0,214.1 L494.0,214.5 L495.9,215.0 L497.9,215.4 L499.8,215.9 L501.8,216.3 L503.7,216.8 L505.7,217.3 L507.6,217.8 L509.5,218.3 L511.5,218.8 L513.4,219.3 L515.4,219.8 L517.3,220.3 L519.2,220.8 L521.1,221.4 L523.1,221.9 L525.0,222.5 L526.9,223.1 L528.8,223.6 L530.7,224.2 L532.7,224.8 L534.6,225.4 L536.5,225.9 L538.4,226.5 L540.3,227.1 L542.2,227.7 L544.1,228.3 L546.0,228.9 L547.9,229.5 L549.8,230.1 L551.8,230.7 L553.7,231.3 L555.6,231.8 L557.5,232.4 L559.4,232.9 L561.4,233.5 L563.3,234.0 L565.2,234.5 L567.1,235.0 L569.1,235.5 L571.0,236.0 L573.0,236.4 L574.9,236.9 L576.9,237.4 L578.8,237.8 L580.8,238.3 L582.7,238.7 L584.7,239.2 L586.6,239.6 L588.6,240.0 L590.5,240.5 L592.5,240.9 L594.4,241.4 L596.4,241.8 L598.3,242.3 L600.3,242.7 L602.2,243.2 L604.2,243.7 L606.1,244.1 L608.1,244.6 L610.0,245.0 L611.9,245.5 L613.9,246.0 L615.8,246.5 L617.8,246.9 L619.7,247.4 L621.7,247.9 L623.6,248.4 L625.5,248.9 L627.5,249.4 L629.4,249.9 L631.4,250.4 L633.3,250.9 L635.2,251.4 L637.2,251.9 L639.1,252.5 L641.0,253.0 L643.0,253.5 L644.9,254.0 L646.8,254.6 L648.7,255.1 L650.7,255.7 L652.6,256.2 L654.5,256.8 L656.4,257.4 L658.3,257.9 L660.3,258.5 L662.2,259.1 L664.1,259.6 L666.0,260.2 L667.9,260.8 L669.8,261.3 L671.8,261.9 L673.7,262.5 L675.6,263.0 L677.5,263.6 L679.5,264.1 L681.4,264.6 L683.3,265.2 L685.2,265.7 L687.2,266.2 L689.1,266.8 L691.0,267.3 L693.0,267.8 L694.9,268.3 L696.8,268.8 L698.8,269.3 L700.7,269.8 L702.7,270.3 L704.6,270.8 L706.5,271.3 L708.5,271.8 L710.4,272.3 L712.4,272.8 L714.3,273.2 L716.2,273.7 L718.2,274.2 L720.1,274.7 L722.1,275.2 L724.0,275.7 L726.0,276.1 L727.9,276.6 L729.8,277.1 L731.8,277.6 L733.7,278.1 L735.7,278.6 L737.6,279.1 L739.5,279.6 L741.5,280.1 L743.4,280.6 L745.3,281.1 L747.3,281.6 L749.2,282.2 L751.1,282.7 L753.0,283.3 L755.0,283.8 L756.9,284.4 L758.8,285.0 L760.7,285.6 L762.6,286.2 L764.5,286.8 L766.4,287.4 L768.3,288.0 L770.2,288.7 L772.1,289.3 L774.0,290.0 L775.9,290.6 L777.7,291.3 L779.6,292.0 L781.5,292.8 L783.3,293.5 L785.2,294.2 L787.0,295.0 L788.9,295.8 L790.7,296.5 L792.5,297.3 L794.4,298.1 L796.2,299.0 L798.0,299.8 L799.8,300.6 L801.7,301.5 L803.5,302.3 L805.3,303.2 L807.1,304.1 L808.9,304.9 L810.6,305.8 L812.4,306.7 L814.2,307.6 L816.0,308.6 L817.8,309.5 L819.5,310.4 L821.3,311.4 L823.0,312.3 L824.8,313.3 L826.5,314.3 L828.3,315.3 L830.0,316.3 L831.7,317.3 L833.4,318.3 L835.1,319.4 L836.8,320.4 L838.5,321.5 L840.2,322.6 L841.8,323.7 L843.5,324.8 L845.1,326.0 L846.7,327.1 L848.4,328.3 L850.0,329.5 L851.6,330.7 L853.2,331.9 L854.8,333.1 L856.3,334.3 L857.9,335.5 L859.5,336.8 L861.0,338.0 L862.6,339.3 L864.1,340.6 L865.7,341.8 L867.2,343.1 L868.7,344.4 L870.2,345.8 L871.7,347.1 L873.2,348.4 L874.6,349.8 L876.1,351.1 L877.5,352.5 L879.0,353.9 L880.4,355.3 L881.8,356.7 L883.1,358.2 L884.5,359.6 L885.8,361.1 L887.2,362.6 L888.5,364.1 L889.7,365.6 L891.0,367.2 L892.2,368.7 L893.4,370.3 L894.6,371.9 L895.8,373.5 L896.9,375.2 L898.1,376.8 L899.2,378.5 L900.2,380.1 L901.3,381.8 L902.3,383.5 L903.4,385.2 L904.4,386.9 L905.4,388.7 L906.4,390.4 L907.4,392.1 L908.3,393.9 L909.3,395.6 L910.3,397.4 L911.2,399.1 L912.2,400.9 L913.1,402.7 L914.1,404.4 L915.0,406.2 L916.0,408.0 L916.9,409.7 L917.8,411.5 L918.7,413.3 L919.6,415.1 L920.6,416.8 L921.4,418.6 L922.3,420.4 L923.2,422.2 L924.1,424.0 L925.0,425.8 L925.8,427.6 L926.6,429.4 L927.5,431.2 L928.3,433.1 L929.0,434.9 L929.8,436.7 L930.5,438.6 L931.3,440.4 L932.0,442.3 L932.6,444.2 L933.3,446.0 L933.9,447.9 L934.5,449.8 L935.1,451.7 L935.7,453.6 L936.3,455.5 L936.8,457.5 L937.4,459.4 L937.9,461.3 L938.4,463.2 L939.0,465.2 L939.5,467.1 L940.0,469.0 L940.5,471.0 L940.9,472.9 L941.4,474.8 L941.9,476.8 L942.3,478.7 L942.8,480.7 L943.2,482.6 L943.6,484.6 L944.0,486.5 L944.4,488.5 L944.8,490.5 L945.1,492.4 L945.5,494.4 L945.8,496.4 L946.2,498.3 L946.5,500.3 L946.8,502.3 L947.2,504.3 L947.5,506.2 L947.8,508.2 L948.1,510.2 L948.4,512.2 L948.7,514.1 L949.0,516.1 L949.4,518.1 L949.7,520.1 L950.0,522.0 L950.3,524.0 L950.6,526.0 L950.9,528.0 L951.2,530.0 L951.5,531.9 L951.8,533.9 L952.1,535.9 L952.4,537.9 L952.7,539.9 L953.0,541.8 L953.3,543.8 L953.6,545.8 L953.9,547.8 L954.2,549.8 L954.4,551.7 L954.7,553.7 L955.0,555.7 L955.2,557.7 L955.5,559.7 L955.7,561.7 L956.0,563.6 L956.2,565.6 L956.5,567.6 L956.7,569.6 L956.9,571.6 L957.2,573.6 L957.4,575.6 L957.6,577.6 L957.8,579.5 L958.0,581.5 L958.2,583.5 L958.5,585.5 L958.7,587.5 L958.9,589.5 L959.1,591.5 L959.3,593.5 L959.5,595.5 L959.7,597.5 L959.9,599.5 L960.0,601.4 L960.2,603.4 L960.4,605.4 L960.6,607.4 L960.8,609.4 L961.0,611.4 L961.1,613.4 L961.3,615.4 L961.5,617.4 L961.7,619.4 L961.9,621.4 L962.0,623.4 L962.2,625.4 L962.4,627.4 L962.5,629.3 L962.7,631.3 L962.9,633.3 L963.0,635.3 L963.2,637.3 L963.4,639.3 L963.5,641.3 L963.7,643.3 L963.9,645.3 L964.0,647.3 L964.2,649.3 L964.3,651.3 L964.5,653.3 L964.6,655.3 L964.8,657.3 L964.9,659.3 L965.1,661.3 L965.2,663.3 L965.4,665.3 L965.5,667.3 L965.7,669.3 L965.8,671.3 L966.0,673.2 L966.1,675.2 L966.2,677.2 L966.4,679.2 L966.5,681.2 L966.7,683.2 L966.8,685.2 L966.9,687.2 L967.1,689.2 L967.2,691.2 L967.3,693.2 L967.4,695.2 L967.6,697.2 L967.7,699.2 L967.8,701.2 L968.0,703.2 L968.1,705.2 L968.2,707.2 L968.4,709.2 L968.5,711.2 L968.7,713.2 L968.8,715.2 L969.0,717.2 L969.1,719.2 L969.3,721.2 L969.4,723.2 L969.6,725.2 L969.8,727.1 L969.9,729.1 L970.1,731.1 L970.3,733.1 L970.5,735.1 L970.7,737.1 L970.8,739.1 L971.0,741.1 L971.2,743.1 L971.4,745.1 L971.6,747.1 L971.8,749.1 L972.0,751.1 L972.2,753.1 L972.4,755.0 L972.5,757.0 L972.7,759.0 L972.9,761.0 L973.1,763.0 L973.3,765.0 L973.5,767.0" stroke="#327580" stroke-width="12" fill="none" stroke-linejoin="round" stroke-linecap="butt"/>
<path d="M147.0,152.5 L148.9,153.2 L150.8,153.8 L152.7,154.5 L154.6,155.1 L156.5,155.8 L158.3,156.4 L160.2,157.1 L162.1,157.8 L164.0,158.4 L165.9,159.1 L167.8,159.7 L169.7,160.4 L171.6,161.0 L173.5,161.7 L175.4,162.4 L177.2,163.0 L179.1,163.6 L181.0,164.3 L182.9,164.9 L184.8,165.5 L186.7,166.2 L188.6,166.8 L190.5,167.4 L192.5,167.9 L194.4,168.5 L196.3,169.0 L198.2,169.6 L200.1,170.1 L202.1,170.6 L204.0,171.0 L206.0,171.5 L207.9,171.9 L209.9,172.3 L211.8,172.7 L213.8,173.1 L215.7,173.5 L217.7,173.9 L219.7,174.2 L221.6,174.6 L223.6,174.9 L225.6,175.3 L227.5,175.6 L229.5,175.9 L231.5,176.3 L233.5,176.6 L235.4,176.9 L237.4,177.3 L239.4,177.6 L241.4,177.9 L243.3,178.2 L245.3,178.6 L247.3,178.9 L249.3,179.2 L251.2,179.5 L253.2,179.9 L255.2,180.2 L257.2,180.5 L259.1,180.8 L261.1,181.2 L263.1,181.5 L265.1,181.8 L267.0,182.1 L269.0,182.5 L271.0,182.8 L273.0,183.1 L274.9,183.4 L276.9,183.8 L278.9,184.1 L280.9,184.4 L282.8,184.7 L284.8,185.0 L286.8,185.4 L288.8,185.7 L290.7,186.0 L292.7,186.3 L294.7,186.5 L296.7,186.8 L298.7,187.1 L300.6,187.4 L302.6,187.6 L304.6,187.9 L306.6,188.2 L308.6,188.4 L310.5,188.7 L312.5,189.0 L314.5,189.2 L316.5,189.5 L318.5,189.8 L320.4,190.1 L322.4,190.4 L324.4,190.7 L326.3,191.0 L328.3,191.4 L330.3,191.8 L332.2,192.1 L334.2,192.5 L336.2,192.9 L338.1,193.3 L340.1,193.7 L342.0,194.1 L344.0,194.5 L345.9,195.0 L347.9,195.4 L349.9,195.8 L351.8,196.2 L353.8,196.6 L355.7,196.9 L357.7,197.3 L359.7,197.7 L361.6,198.0 L363.6,198.3 L365.6,198.6 L367.5,198.9 L369.5,199.2 L371.5,199.4 L373.5,199.6 L375.5,199.8 L377.4,200.0 L379.4,200.2 L381.4,200.3 L383.4,200.4 L385.4,200.5 L387.4,200.5 L389.4,200.6 L391.4,200.6 L393.4,200.7 L395.4,200.7 L397.4,200.7 L399.4,200.7 L401.4,200.7 L403.4,200.7 L405.4,200.7 L407.4,200.7 L409.4,200.8 L411.4,200.8 L413.4,200.8 L415.3,200.9 L417.3,201.0 L419.3,201.1 L421.3,201.2 L423.3,201.4 L425.3,201.5 L427.3,201.7 L429.3,202.0 L431.2,202.2 L433.2,202.5 L435.2,202.7 L437.2,203.0 L439.1,203.4 L441.1,203.7 L443.1,204.0 L445.0,204.4 L447.0,204.8 L448.9,205.2 L450.9,205.5 L452.9,205.9 L454.8,206.3 L456.8,206.7 L458.7,207.1 L460.7,207.5 L462.7,207.9 L464.6,208.3 L466.6,208.7 L468.5,209.1 L470.5,209.5 L472.5,210.0 L474.4,210.4 L476.4,210.8 L478.3,211.2 L480.3,211.6 L482.3,212.0 L484.2,212.4 L486.2,212.8 L488.1,213.2 L490.1,213.7 L492.0,214.1 L494.0,214.5 L495.9,215.0 L497.9,215.4 L499.8,215.9 L501.8,216.3 L503.7,216.8 L505.7,217.3 L507.6,217.8 L509.5,218.3 L511.5,218.8 L513.4,219.3 L515.4,219.8 L517.3,220.3 L519.2,220.8 L521.1,221.4 L523.1,221.9 L525.0,222.5 L526.9,223.1 L528.8,223.6 L530.7,224.2 L532.7,224.8 L534.6,225.4 L536.5,225.9 L538.4,226.5 L540.3,227.1 L542.2,227.7 L544.1,228.3 L546.0,228.9 L547.9,229.5 L549.8,230.1 L551.8,230.7 L553.7,231.3 L555.6,231.8 L557.5,232.4 L559.4,232.9 L561.4,233.5 L563.3,234.0 L565.2,234.5 L567.1,235.0 L569.1,235.5 L571.0,236.0 L573.0,236.4 L574.9,236.9 L576.9,237.4 L578.8,237.8 L580.8,238.3 L582.7,238.7 L584.7,239.2 L586.6,239.6 L588.6,240.0 L590.5,240.5 L592.5,240.9 L594.4,241.4 L596.4,241.8 L598.3,242.3 L600.3,242.7 L602.2,243.2 L604.2,243.7 L606.1,244.1 L608.1,244.6 L610.0,245.0 L611.9,245.5 L613.9,246.0 L615.8,246.5 L617.8,246.9 L619.7,247.4 L621.7,247.9 L623.6,248.4 L625.5,248.9 L627.5,249.4 L629.4,249.9 L631.4,250.4 L633.3,250.9 L635.2,251.4 L637.2,251.9 L639.1,252.5 L641.0,253.0 L643.0,253.5 L644.9,254.0 L646.8,254.6 L648.7,255.1 L650.7,255.7 L652.6,256.2 L654.5,256.8 L656.4,257.4 L658.3,257.9 L660.3,258.5 L662.2,259.1 L664.1,259.6 L666.0,260.2 L667.9,260.8 L669.8,261.3 L671.8,261.9 L673.7,262.5 L675.6,263.0 L677.5,263.6 L679.5,264.1 L681.4,264.6 L683.3,265.2 L685.2,265.7 L687.2,266.2 L689.1,266.8 L691.0,267.3 L693.0,267.8 L694.9,268.3 L696.8,268.8 L698.8,269.3 L700.7,269.8 L702.7,270.3 L704.6,270.8 L706.5,271.3 L708.5,271.8 L710.4,272.3 L712.4,272.8 L714.3,273.2 L716.2,273.7 L718.2,274.2 L720.1,274.7 L722.1,275.2 L724.0,275.7 L726.0,276.1 L727.9,276.6 L729.8,277.1 L731.8,277.6 L733.7,278.1 L735.7,278.6 L737.6,279.1 L739.5,279.6 L741.5,280.1 L743.4,280.6 L745.3,281.1 L747.3,281.6 L749.2,282.2 L751.1,282.7 L753.0,283.3 L755.0,283.8 L756.9,284.4 L758.8,285.0 L760.7,285.6 L762.6,286.2 L764.5,286.8 L766.4,287.4 L768.3,288.0 L770.2,288.7 L772.1,289.3 L774.0,290.0 L775.9,290.6 L777.7,291.3 L779.6,292.0 L781.5,292.8 L783.3,293.5 L785.2,294.2 L787.0,295.0 L788.9,295.8 L790.7,296.5 L792.5,297.3 L794.4,298.1 L796.2,299.0 L798.0,299.8 L799.8,300.6 L801.7,301.5 L803.5,302.3 L805.3,303.2 L807.1,304.1 L808.9,304.9 L810.6,305.8 L812.4,306.7 L814.2,307.6 L816.0,308.6 L817.8,309.5 L819.5,310.4 L821.3,311.4 L823.0,312.3 L824.8,313.3 L826.5,314.3 L828.3,315.3 L830.0,316.3 L831.7,317.3 L833.4,318.3 L835.1,319.4 L836.8,320.4 L838.5,321.5 L840.2,322.6 L841.8,323.7 L843.5,324.8 L845.1,326.0 L846.7,327.1 L848.4,328.3 L850.0,329.5 L851.6,330.7 L853.2,331.9 L854.8,333.1 L856.3,334.3 L857.9,335.5 L859.5,336.8 L861.0,338.0 L862.6,339.3 L864.1,340.6 L865.7,341.8 L867.2,343.1 L868.7,344.4 L870.2,345.8 L871.7,347.1 L873.2,348.4 L874.6,349.8 L876.1,351.1 L877.5,352.5 L879.0,353.9 L880.4,355.3 L881.8,356.7 L883.1,358.2 L884.5,359.6 L885.8,361.1 L887.2,362.6 L888.5,364.1 L889.7,365.6 L891.0,367.2 L892.2,368.7 L893.4,370.3 L894.6,371.9 L895.8,373.5 L896.9,375.2 L898.1,376.8 L899.2,378.5 L900.2,380.1 L901.3,381.8 L902.3,383.5 L903.4,385.2 L904.4,386.9 L905.4,388.7 L906.4,390.4 L907.4,392.1 L908.3,393.9 L909.3,395.6 L910.3,397.4 L911.2,399.1 L912.2,400.9 L913.1,402.7 L914.1,404.4 L915.0,406.2 L916.0,408.0 L916.9,409.7 L917.8,411.5 L918.7,413.3 L919.6,415.1 L920.6,416.8 L921.4,418.6 L922.3,420.4 L923.2,422.2 L924.1,424.0 L925.0,425.8 L925.8,427.6 L926.6,429.4 L927.5,431.2 L928.3,433.1 L929.0,434.9 L929.8,436.7 L930.5,438.6 L931.3,440.4 L932.0,442.3 L932.6,444.2 L933.3,446.0 L933.9,447.9 L934.5,449.8 L935.1,451.7 L935.7,453.6 L936.3,455.5 L936.8,457.5 L937.4,459.4 L937.9,461.3 L938.4,463.2 L939.0,465.2 L939.5,467.1 L940.0,469.0 L940.5,471.0 L940.9,472.9 L941.4,474.8 L941.9,476.8 L942.3,478.7 L942.8,480.7 L943.2,482.6 L943.6,484.6 L944.0,486.5 L944.4,488.5 L944.8,490.5 L945.1,492.4 L945.5,494.4 L945.8,496.4 L946.2,498.3 L946.5,500.3 L946.8,502.3 L947.2,504.3 L947.5,506.2 L947.8,508.2 L948.1,510.2 L948.4,512.2 L948.7,514.1 L949.0,516.1 L949.4,518.1 L949.7,520.1 L950.0,522.0 L950.3,524.0 L950.6,526.0 L950.9,528.0 L951.2,530.0 L951.5,531.9 L951.8,533.9 L952.1,535.9 L952.4,537.9 L952.7,539.9 L953.0,541.8 L953.3,543.8 L953.6,545.8 L953.9,547.8 L954.2,549.8 L954.4,551.7 L954.7,553.7 L955.0,555.7 L955.2,557.7 L955.5,559.7 L955.7,561.7 L956.0,563.6 L956.2,565.6 L956.5,567.6 L956.7,569.6 L956.9,571.6 L957.2,573.6 L957.4,575.6 L957.6,577.6 L957.8,579.5 L958.0,581.5 L958.2,583.5 L958.5,585.5 L958.7,587.5 L958.9,589.5 L959.1,591.5 L959.3,593.5 L959.5,595.5 L959.7,597.5 L959.9,599.5 L960.0,601.4 L960.2,603.4 L960.4,605.4 L960.6,607.4 L960.8,609.4 L961.0,611.4 L961.1,613.4 L961.3,615.4 L961.5,617.4 L961.7,619.4 L961.9,621.4 L962.0,623.4 L962.2,625.4 L962.4,627.4 L962.5,629.3 L962.7,631.3 L962.9,633.3 L963.0,635.3 L963.2,637.3 L963.4,639.3 L963.5,641.3 L963.7,643.3 L963.9,645.3 L964.0,647.3 L964.2,649.3 L964.3,651.3 L964.5,653.3 L964.6,655.3 L964.8,657.3 L964.9,659.3 L965.1,661.3 L965.2,663.3 L965.4,665.3 L965.5,667.3 L965.7,669.3 L965.8,671.3 L966.0,673.2 L966.1,675.2 L966.2,677.2 L966.4,679.2 L966.5,681.2 L966.7,683.2 L966.8,685.2 L966.9,687.2 L967.1,689.2 L967.2,691.2 L967.3,693.2 L967.4,695.2 L967.6,697.2 L967.7,699.2 L967.8,701.2 L968.0,703.2 L968.1,705.2 L968.2,707.2 L968.4,709.2 L968.5,711.2 L968.7,713.2 L968.8,715.2 L969.0,717.2 L969.1,719.2 L969.3,721.2 L969.4,723.2 L969.6,725.2 L969.8,727.1 L969.9,729.1 L970.1,731.1 L970.3,733.1 L970.5,735.1 L970.7,737.1 L970.8,739.1 L971.0,741.1 L971.2,743.1 L971.4,745.1 L971.6,747.1 L971.8,749.1 L972.0,751.1 L972.2,753.1 L972.4,755.0 L972.5,757.0 L972.7,759.0 L972.9,761.0 L973.1,763.0 L973.3,765.0 L973.5,767.0" stroke="#327580" stroke-width="12" fill="none" stroke-linejoin="round" stroke-linecap="butt"/>
<path d="M150.3,243.9 L168,244.5 L171.4,253.7 L174.8,260.8 L181.6,270 L184,275.7 L200,278 L211.3,281.4 L219.3,286 L232.4,286 L232.7,296.2 L245.3,297.7 L267.8,297.7 L267.8,312 L240,306 L200,296 L170,282 L150,272Z" fill="#cd6e69"/>
<path d="M129,20 L141,20 L141,138 L149.5,138 L149.5,230 L147,232 L147,238 L150,240 L152,253.7 L155.6,260.5 L161,267.4 L168,272.2 L180,276.3 L188.5,278 L205.6,287 L222.7,291.6 L240,296 L266.9,308 L266.9,326.2 L243.4,318.7 L220,312.2 L200,307.6 L182.8,298.5 L165.7,290.5 L155,286.5 L145,281 L137,276 L129,273.6Z" fill="#ec8c0c"/>
<path d="M224,303 L236,303 L237.9,303.6 L237.9,315.6 L225.9,315.6 L224,315ZM225.9,303.6 L237.9,303.6 L239.8,304.1 L239.8,316.1 L227.8,316.1 L225.9,315.6ZM227.8,304.1 L239.8,304.1 L241.8,304.7 L241.8,316.7 L229.8,316.7 L227.8,316.1ZM229.8,304.7 L241.8,304.7 L243.7,305.3 L243.7,317.3 L231.7,317.3 L229.8,316.7ZM231.7,305.3 L243.7,305.3 L245.6,305.8 L245.6,317.8 L233.6,317.8 L231.7,317.3ZM233.6,305.8 L245.6,305.8 L247.5,306.4 L247.5,318.4 L235.5,318.4 L233.6,317.8ZM235.5,306.4 L247.5,306.4 L249.4,306.9 L249.4,318.9 L237.4,318.9 L235.5,318.4ZM237.4,306.9 L249.4,306.9 L251.4,307.5 L251.4,319.5 L239.4,319.5 L237.4,318.9ZM239.4,307.5 L251.4,307.5 L253.3,308 L253.3,320 L241.3,320 L239.4,319.5ZM241.3,308 L253.3,308 L255.2,308.6 L255.2,320.6 L243.2,320.6 L241.3,320ZM243.2,308.6 L255.2,308.6 L257.1,309.1 L257.1,321.1 L245.1,321.1 L243.2,320.6ZM245.1,309.1 L257.1,309.1 L259.1,309.7 L259.1,321.7 L247.1,321.7 L245.1,321.1ZM247.1,309.7 L259.1,309.7 L261,310.2 L261,322.2 L249,322.2 L247.1,321.7ZM249,310.2 L261,310.2 L262.9,310.7 L262.9,322.7 L250.9,322.7 L249,322.2ZM250.9,310.7 L262.9,310.7 L264.8,311.3 L264.8,323.3 L252.8,323.3 L250.9,322.7ZM252.8,311.3 L264.8,311.3 L266.8,311.9 L266.8,323.9 L254.8,323.9 L252.8,323.3ZM254.8,311.9 L266.8,311.9 L268.7,312.5 L268.7,324.5 L256.7,324.5 L254.8,323.9ZM256.7,312.5 L268.7,312.5 L270.6,313 L270.6,325 L258.6,325 L256.7,324.5ZM258.6,313 L270.6,313 L272.5,313.7 L272.5,325.7 L260.5,325.7 L258.6,325ZM260.5,313.7 L272.5,313.7 L274.4,314.3 L274.4,326.3 L262.4,326.3 L260.5,325.7ZM262.4,314.3 L274.4,314.3 L276.3,314.9 L276.3,326.9 L264.3,326.9 L262.4,326.3ZM264.3,314.9 L276.3,314.9 L278.2,315.6 L278.2,327.6 L266.2,327.6 L264.3,326.9ZM266.2,315.6 L278.2,315.6 L280.1,316.2 L280.1,328.2 L268.1,328.2 L266.2,327.6ZM268.1,316.2 L280.1,316.2 L281.9,316.9 L281.9,328.9 L269.9,328.9 L268.1,328.2ZM269.9,316.9 L281.9,316.9 L283.8,317.6 L283.8,329.6 L271.8,329.6 L269.9,328.9ZM271.8,317.6 L283.8,317.6 L285.7,318.3 L285.7,330.3 L273.7,330.3 L271.8,329.6ZM273.7,318.3 L285.7,318.3 L287.6,319 L287.6,331 L275.6,331 L273.7,330.3ZM275.6,319 L287.6,319 L289.5,319.7 L289.5,331.7 L277.5,331.7 L275.6,331ZM277.5,319.7 L289.5,319.7 L291.3,320.3 L291.3,332.3 L279.3,332.3 L277.5,331.7ZM279.3,320.3 L291.3,320.3 L293.2,321 L293.2,333 L281.2,333 L279.3,332.3ZM281.2,321 L293.2,321 L295.1,321.7 L295.1,333.7 L283.1,333.7 L281.2,333ZM283.1,321.7 L295.1,321.7 L297,322.3 L297,334.3 L285,334.3 L283.1,333.7ZM285,322.3 L297,322.3 L298.9,322.9 L298.9,334.9 L286.9,334.9 L285,334.3ZM286.9,322.9 L298.9,322.9 L300.8,323.5 L300.8,335.5 L288.8,335.5 L286.9,334.9ZM288.8,323.5 L300.8,323.5 L302.7,324.1 L302.7,336.1 L290.7,336.1 L288.8,335.5ZM290.7,324.1 L302.7,324.1 L304.6,324.7 L304.6,336.7 L292.6,336.7 L290.7,336.1ZM292.6,324.7 L304.6,324.7 L306.6,325.2 L306.6,337.2 L294.6,337.2 L292.6,336.7ZM294.6,325.2 L306.6,325.2 L308.5,325.7 L308.5,337.7 L296.5,337.7 L294.6,337.2ZM296.5,325.7 L308.5,325.7 L310.4,326.2 L310.4,338.2 L298.4,338.2 L296.5,337.7ZM298.4,326.2 L310.4,326.2 L312.4,326.7 L312.4,338.7 L300.4,338.7 L298.4,338.2ZM300.4,326.7 L312.4,326.7 L314.3,327.2 L314.3,339.2 L302.3,339.2 L300.4,338.7ZM302.3,327.2 L314.3,327.2 L316.2,327.7 L316.2,339.7 L304.2,339.7 L302.3,339.2ZM304.2,327.7 L316.2,327.7 L318.2,328.1 L318.2,340.1 L306.2,340.1 L304.2,339.7ZM306.2,328.1 L318.2,328.1 L320.1,328.6 L320.1,340.6 L308.1,340.6 L306.2,340.1ZM308.1,328.6 L320.1,328.6 L322.1,329.1 L322.1,341.1 L310.1,341.1 L308.1,340.6ZM310.1,329.1 L322.1,329.1 L324,329.6 L324,341.6 L312,341.6 L310.1,341.1ZM312,329.6 L324,329.6 L326,330.1 L326,342.1 L314,342.1 L312,341.6ZM314,330.1 L326,330.1 L327.9,330.5 L327.9,342.5 L315.9,342.5 L314,342.1ZM315.9,330.5 L327.9,330.5 L329.8,331 L329.8,343 L317.8,343 L315.9,342.5ZM317.8,331 L329.8,331 L331.8,331.5 L331.8,343.5 L319.8,343.5 L317.8,343ZM319.8,331.5 L331.8,331.5 L333.7,332 L333.7,344 L321.7,344 L319.8,343.5ZM321.7,332 L333.7,332 L335.7,332.4 L335.7,344.4 L323.7,344.4 L321.7,344ZM323.7,332.4 L335.7,332.4 L337.6,332.9 L337.6,344.9 L325.6,344.9 L323.7,344.4ZM325.6,332.9 L337.6,332.9 L339.6,333.4 L339.6,345.4 L327.6,345.4 L325.6,344.9ZM327.6,333.4 L339.6,333.4 L341.5,333.8 L341.5,345.8 L329.5,345.8 L327.6,345.4ZM329.5,333.8 L341.5,333.8 L343.5,334.3 L343.5,346.3 L331.5,346.3 L329.5,345.8ZM331.5,334.3 L343.5,334.3 L345.4,334.7 L345.4,346.7 L333.4,346.7 L331.5,346.3ZM333.4,334.7 L345.4,334.7 L347.4,335.2 L347.4,347.2 L335.4,347.2 L333.4,346.7ZM335.4,335.2 L347.4,335.2 L349.3,335.6 L349.3,347.6 L337.3,347.6 L335.4,347.2ZM337.3,335.6 L349.3,335.6 L351.3,336 L351.3,348 L339.3,348 L337.3,347.6ZM339.3,336 L351.3,336 L353.2,336.4 L353.2,348.4 L341.2,348.4 L339.3,348ZM341.2,336.4 L353.2,336.4 L355.2,336.8 L355.2,348.8 L343.2,348.8 L341.2,348.4ZM343.2,336.8 L355.2,336.8 L357.2,337.2 L357.2,349.2 L345.2,349.2 L343.2,348.8ZM345.2,337.2 L357.2,337.2 L359.1,337.6 L359.1,349.6 L347.1,349.6 L345.2,349.2ZM347.1,337.6 L359.1,337.6 L361.1,338 L361.1,350 L349.1,350 L347.1,349.6ZM349.1,338 L361.1,338 L363,338.4 L363,350.4 L351,350.4 L349.1,350ZM351,338.4 L363,338.4 L365,338.8 L365,350.8 L353,350.8 L351,350.4ZM353,338.8 L365,338.8 L367,339.2 L367,351.2 L355,351.2 L353,350.8ZM355,339.2 L367,339.2 L368.9,339.6 L368.9,351.6 L356.9,351.6 L355,351.2ZM356.9,339.6 L368.9,339.6 L370.9,340 L370.9,352 L358.9,352 L356.9,351.6ZM358.9,340 L370.9,340 L372.9,340.4 L372.9,352.4 L360.9,352.4 L358.9,352ZM360.9,340.4 L372.9,340.4 L374.8,340.8 L374.8,352.8 L362.8,352.8 L360.9,352.4ZM362.8,340.8 L374.8,340.8 L376.8,341.2 L376.8,353.2 L364.8,353.2 L362.8,352.8ZM364.8,341.2 L376.8,341.2 L378.7,341.5 L378.7,353.5 L366.7,353.5 L364.8,353.2ZM366.7,341.5 L378.7,341.5 L380.7,341.9 L380.7,353.9 L368.7,353.9 L366.7,353.5ZM368.7,341.9 L380.7,341.9 L382.7,342.3 L382.7,354.3 L370.7,354.3 L368.7,353.9ZM370.7,342.3 L382.7,342.3 L384.6,342.7 L384.6,354.7 L372.6,354.7 L370.7,354.3ZM372.6,342.7 L384.6,342.7 L386.6,343.1 L386.6,355.1 L374.6,355.1 L372.6,354.7ZM374.6,343.1 L386.6,343.1 L388.5,343.5 L388.5,355.5 L376.5,355.5 L374.6,355.1ZM376.5,343.5 L388.5,343.5 L390.5,343.9 L390.5,355.9 L378.5,355.9 L376.5,355.5ZM378.5,343.9 L390.5,343.9 L392.5,344.3 L392.5,356.3 L380.5,356.3 L378.5,355.9ZM380.5,344.3 L392.5,344.3 L394.4,344.7 L394.4,356.7 L382.4,356.7 L380.5,356.3ZM382.4,344.7 L394.4,344.7 L396.4,345.1 L396.4,357.1 L384.4,357.1 L382.4,356.7ZM384.4,345.1 L396.4,345.1 L398.4,345.5 L398.4,357.5 L386.4,357.5 L384.4,357.1ZM386.4,345.5 L398.4,345.5 L400.3,345.9 L400.3,357.9 L388.3,357.9 L386.4,357.5ZM388.3,345.9 L400.3,345.9 L402.3,346.3 L402.3,358.3 L390.3,358.3 L388.3,357.9ZM390.3,346.3 L402.3,346.3 L404.2,346.6 L404.2,358.6 L392.2,358.6 L390.3,358.3ZM392.2,346.6 L404.2,346.6 L406.2,347 L406.2,359 L394.2,359 L392.2,358.6ZM394.2,347 L406.2,347 L408.2,347.4 L408.2,359.4 L396.2,359.4 L394.2,359ZM396.2,347.4 L408.2,347.4 L410.1,347.8 L410.1,359.8 L398.1,359.8 L396.2,359.4ZM398.1,347.8 L410.1,347.8 L412.1,348.2 L412.1,360.2 L400.1,360.2 L398.1,359.8ZM400.1,348.2 L412.1,348.2 L414.1,348.6 L414.1,360.6 L402.1,360.6 L400.1,360.2ZM402.1,348.6 L414.1,348.6 L416,349 L416,361 L404,361 L402.1,360.6ZM404,349 L416,349 L418,349.4 L418,361.4 L406,361.4 L404,361ZM406,349.4 L418,349.4 L419.9,349.8 L419.9,361.8 L407.9,361.8 L406,361.4ZM407.9,349.8 L419.9,349.8 L421.9,350.3 L421.9,362.3 L409.9,362.3 L407.9,361.8ZM409.9,350.3 L421.9,350.3 L423.8,350.7 L423.8,362.7 L411.8,362.7 L409.9,362.3ZM411.8,350.7 L423.8,350.7 L425.8,351.1 L425.8,363.1 L413.8,363.1 L411.8,362.7ZM413.8,351.1 L425.8,351.1 L427.7,351.6 L427.7,363.6 L415.7,363.6 L413.8,363.1ZM415.7,351.6 L427.7,351.6 L429.7,352 L429.7,364 L417.7,364 L415.7,363.6ZM417.7,352 L429.7,352 L431.6,352.5 L431.6,364.5 L419.6,364.5 L417.7,364ZM419.6,352.5 L431.6,352.5 L433.6,353 L433.6,365 L421.6,365 L419.6,364.5ZM421.6,353 L433.6,353 L435.5,353.5 L435.5,365.5 L423.5,365.5 L421.6,365ZM423.5,353.5 L435.5,353.5 L437.5,354 L437.5,366 L425.5,366 L423.5,365.5ZM425.5,354 L437.5,354 L439.4,354.5 L439.4,366.5 L427.4,366.5 L425.5,366ZM427.4,354.5 L439.4,354.5 L441.3,354.9 L441.3,366.9 L429.3,366.9 L427.4,366.5ZM429.3,354.9 L441.3,354.9 L443.3,355.4 L443.3,367.4 L431.3,367.4 L429.3,366.9ZM431.3,355.4 L443.3,355.4 L445.2,355.9 L445.2,367.9 L433.2,367.9 L431.3,367.4ZM433.2,355.9 L445.2,355.9 L447.1,356.4 L447.1,368.4 L435.1,368.4 L433.2,367.9ZM435.1,356.4 L447.1,356.4 L449.1,356.9 L449.1,368.9 L437.1,368.9 L435.1,368.4ZM437.1,356.9 L449.1,356.9 L451,357.4 L451,369.4 L439,369.4 L437.1,368.9ZM439,357.4 L451,357.4 L453,357.9 L453,369.9 L441,369.9 L439,369.4ZM441,357.9 L453,357.9 L454.9,358.4 L454.9,370.4 L442.9,370.4 L441,369.9ZM442.9,358.4 L454.9,358.4 L456.8,358.9 L456.8,370.9 L444.8,370.9 L442.9,370.4ZM444.8,358.9 L456.8,358.9 L458.8,359.4 L458.8,371.4 L446.8,371.4 L444.8,370.9ZM446.8,359.4 L458.8,359.4 L460.7,359.9 L460.7,371.9 L448.7,371.9 L446.8,371.4ZM448.7,359.9 L460.7,359.9 L462.7,360.4 L462.7,372.4 L450.7,372.4 L448.7,371.9ZM450.7,360.4 L462.7,360.4 L464.6,360.9 L464.6,372.9 L452.6,372.9 L450.7,372.4ZM452.6,360.9 L464.6,360.9 L466.5,361.4 L466.5,373.4 L454.5,373.4 L452.6,372.9ZM454.5,361.4 L466.5,361.4 L468.5,361.9 L468.5,373.9 L456.5,373.9 L454.5,373.4ZM456.5,361.9 L468.5,361.9 L470.4,362.4 L470.4,374.4 L458.4,374.4 L456.5,373.9ZM458.4,362.4 L470.4,362.4 L472.3,362.9 L472.3,374.9 L460.3,374.9 L458.4,374.4ZM460.3,362.9 L472.3,362.9 L474.3,363.4 L474.3,375.4 L462.3,375.4 L460.3,374.9ZM462.3,363.4 L474.3,363.4 L476.2,363.9 L476.2,375.9 L464.2,375.9 L462.3,375.4ZM464.2,363.9 L476.2,363.9 L478.2,364.4 L478.2,376.4 L466.2,376.4 L464.2,375.9ZM466.2,364.4 L478.2,364.4 L480.1,364.9 L480.1,376.9 L468.1,376.9 L466.2,376.4ZM468.1,364.9 L480.1,364.9 L482,365.4 L482,377.4 L470,377.4 L468.1,376.9ZM470,365.4 L482,365.4 L484,365.9 L484,377.9 L472,377.9 L470,377.4ZM472,365.9 L484,365.9 L485.9,366.4 L485.9,378.4 L473.9,378.4 L472,377.9ZM473.9,366.4 L485.9,366.4 L487.8,366.9 L487.8,378.9 L475.8,378.9 L473.9,378.4ZM475.8,366.9 L487.8,366.9 L489.8,367.4 L489.8,379.4 L477.8,379.4 L475.8,378.9ZM477.8,367.4 L489.8,367.4 L491.7,367.9 L491.7,379.9 L479.7,379.9 L477.8,379.4ZM479.7,367.9 L491.7,367.9 L493.7,368.4 L493.7,380.4 L481.7,380.4 L479.7,379.9ZM481.7,368.4 L493.7,368.4 L495.6,368.9 L495.6,380.9 L483.6,380.9 L481.7,380.4ZM483.6,368.9 L495.6,368.9 L497.5,369.4 L497.5,381.4 L485.5,381.4 L483.6,380.9ZM485.5,369.4 L497.5,369.4 L499.5,369.9 L499.5,381.9 L487.5,381.9 L485.5,381.4ZM487.5,369.9 L499.5,369.9 L501.4,370.4 L501.4,382.4 L489.4,382.4 L487.5,381.9ZM489.4,370.4 L501.4,370.4 L503.3,370.9 L503.3,382.9 L491.3,382.9 L489.4,382.4ZM491.3,370.9 L503.3,370.9 L505.3,371.4 L505.3,383.4 L493.3,383.4 L491.3,382.9ZM493.3,371.4 L505.3,371.4 L507.2,371.9 L507.2,383.9 L495.2,383.9 L493.3,383.4ZM495.2,371.9 L507.2,371.9 L509.2,372.4 L509.2,384.4 L497.2,384.4 L495.2,383.9ZM497.2,372.4 L509.2,372.4 L511.1,372.9 L511.1,384.9 L499.1,384.9 L497.2,384.4ZM499.1,372.9 L511.1,372.9 L513,373.4 L513,385.4 L501,385.4 L499.1,384.9ZM501,373.4 L513,373.4 L515,373.9 L515,385.9 L503,385.9 L501,385.4ZM503,373.9 L515,373.9 L516.9,374.4 L516.9,386.4 L504.9,386.4 L503,385.9ZM504.9,374.4 L516.9,374.4 L518.8,374.9 L518.8,386.9 L506.8,386.9 L504.9,386.4ZM506.8,374.9 L518.8,374.9 L520.8,375.4 L520.8,387.4 L508.8,387.4 L506.8,386.9ZM508.8,375.4 L520.8,375.4 L522.7,375.9 L522.7,387.9 L510.7,387.9 L508.8,387.4ZM510.7,375.9 L522.7,375.9 L524.7,376.4 L524.7,388.4 L512.7,388.4 L510.7,387.9ZM512.7,376.4 L524.7,376.4 L526.6,376.9 L526.6,388.9 L514.6,388.9 L512.7,388.4ZM514.6,376.9 L526.6,376.9 L528.5,377.4 L528.5,389.4 L516.5,389.4 L514.6,388.9ZM516.5,377.4 L528.5,377.4 L530.5,377.9 L530.5,389.9 L518.5,389.9 L516.5,389.4ZM518.5,377.9 L530.5,377.9 L532.4,378.5 L532.4,390.5 L520.4,390.5 L518.5,389.9ZM520.4,378.5 L532.4,378.5 L534.3,379 L534.3,391 L522.3,391 L520.4,390.5ZM522.3,379 L534.3,379 L536.2,379.6 L536.2,391.6 L524.2,391.6 L522.3,391ZM524.2,379.6 L536.2,379.6 L538.2,380.1 L538.2,392.1 L526.2,392.1 L524.2,391.6ZM526.2,380.1 L538.2,380.1 L540.1,380.7 L540.1,392.7 L528.1,392.7 L526.2,392.1ZM528.1,380.7 L540.1,380.7 L542,381.3 L542,393.3 L530,393.3 L528.1,392.7ZM530,381.3 L542,381.3 L543.9,381.9 L543.9,393.9 L531.9,393.9 L530,393.3ZM531.9,381.9 L543.9,381.9 L545.8,382.5 L545.8,394.5 L533.8,394.5 L531.9,393.9ZM533.8,382.5 L545.8,382.5 L547.7,383.1 L547.7,395.1 L535.7,395.1 L533.8,394.5ZM535.7,383.1 L547.7,383.1 L549.6,383.7 L549.6,395.7 L537.6,395.7 L535.7,395.1ZM537.6,383.7 L549.6,383.7 L551.5,384.4 L551.5,396.4 L539.5,396.4 L537.6,395.7ZM539.5,384.4 L551.5,384.4 L553.4,385 L553.4,397 L541.4,397 L539.5,396.4ZM541.4,385 L553.4,385 L555.3,385.6 L555.3,397.6 L543.3,397.6 L541.4,397ZM543.3,385.6 L555.3,385.6 L557.2,386.2 L557.2,398.2 L545.2,398.2 L543.3,397.6ZM545.2,386.2 L557.2,386.2 L559.1,386.8 L559.1,398.8 L547.1,398.8 L545.2,398.2ZM547.1,386.8 L559.1,386.8 L561,387.4 L561,399.4 L549,399.4 L547.1,398.8ZM549,387.4 L561,387.4 L562.9,388.1 L562.9,400.1 L550.9,400.1 L549,399.4ZM550.9,388.1 L562.9,388.1 L564.8,388.7 L564.8,400.7 L552.8,400.7 L550.9,400.1ZM552.8,388.7 L564.8,388.7 L566.7,389.3 L566.7,401.3 L554.7,401.3 L552.8,400.7ZM554.7,389.3 L566.7,389.3 L568.6,389.9 L568.6,401.9 L556.6,401.9 L554.7,401.3ZM556.6,389.9 L568.6,389.9 L570.5,390.5 L570.5,402.5 L558.5,402.5 L556.6,401.9ZM558.5,390.5 L570.5,390.5 L572.4,391.2 L572.4,403.2 L560.4,403.2 L558.5,402.5ZM560.4,391.2 L572.4,391.2 L574.3,391.8 L574.3,403.8 L562.3,403.8 L560.4,403.2ZM562.3,391.8 L574.3,391.8 L576.2,392.4 L576.2,404.4 L564.2,404.4 L562.3,403.8ZM564.2,392.4 L576.2,392.4 L578.2,393 L578.2,405 L566.2,405 L564.2,404.4ZM566.2,393 L578.2,393 L580.1,393.6 L580.1,405.6 L568.1,405.6 L566.2,405ZM568.1,393.6 L580.1,393.6 L582,394.2 L582,406.2 L570,406.2 L568.1,405.6ZM570,394.2 L582,394.2 L583.9,394.8 L583.9,406.8 L571.9,406.8 L570,406.2ZM571.9,394.8 L583.9,394.8 L585.8,395.4 L585.8,407.4 L573.8,407.4 L571.9,406.8ZM573.8,395.4 L585.8,395.4 L587.7,396 L587.7,408 L575.7,408 L573.8,407.4ZM575.7,396 L587.7,396 L589.6,396.6 L589.6,408.6 L577.6,408.6 L575.7,408ZM577.6,396.6 L589.6,396.6 L591.5,397.2 L591.5,409.2 L579.5,409.2 L577.6,408.6ZM579.5,397.2 L591.5,397.2 L593.4,397.7 L593.4,409.7 L581.4,409.7 L579.5,409.2ZM581.4,397.7 L593.4,397.7 L595.4,398.3 L595.4,410.3 L583.4,410.3 L581.4,409.7ZM583.4,398.3 L595.4,398.3 L597.3,398.9 L597.3,410.9 L585.3,410.9 L583.4,410.3ZM585.3,398.9 L597.3,398.9 L599.2,399.5 L599.2,411.5 L587.2,411.5 L585.3,410.9ZM587.2,399.5 L599.2,399.5 L601.1,400.1 L601.1,412.1 L589.1,412.1 L587.2,411.5ZM589.1,400.1 L601.1,400.1 L603,400.6 L603,412.6 L591,412.6 L589.1,412.1ZM591,400.6 L603,400.6 L604.9,401.2 L604.9,413.2 L592.9,413.2 L591,412.6ZM592.9,401.2 L604.9,401.2 L606.8,401.8 L606.8,413.8 L594.8,413.8 L592.9,413.2ZM594.8,401.8 L606.8,401.8 L608.8,402.4 L608.8,414.4 L596.8,414.4 L594.8,413.8ZM596.8,402.4 L608.8,402.4 L610.7,402.9 L610.7,414.9 L598.7,414.9 L596.8,414.4ZM598.7,402.9 L610.7,402.9 L612.6,403.5 L612.6,415.5 L600.6,415.5 L598.7,414.9ZM600.6,403.5 L612.6,403.5 L614.5,404.1 L614.5,416.1 L602.5,416.1 L600.6,415.5ZM602.5,404.1 L614.5,404.1 L616.4,404.7 L616.4,416.7 L604.4,416.7 L602.5,416.1ZM604.4,404.7 L616.4,404.7 L618.3,405.3 L618.3,417.3 L606.3,417.3 L604.4,416.7ZM606.3,405.3 L618.3,405.3 L620.2,405.9 L620.2,417.9 L608.2,417.9 L606.3,417.3ZM608.2,405.9 L620.2,405.9 L622.1,406.5 L622.1,418.5 L610.1,418.5 L608.2,417.9ZM610.1,406.5 L622.1,406.5 L624.1,407.1 L624.1,419.1 L612.1,419.1 L610.1,418.5ZM612.1,407.1 L624.1,407.1 L625.9,407.7 L625.9,419.7 L613.9,419.7 L612.1,419.1ZM613.9,407.7 L625.9,407.7 L627.8,408.4 L627.8,420.4 L615.8,420.4 L613.9,419.7ZM615.8,408.4 L627.8,408.4 L629.7,409.1 L629.7,421.1 L617.7,421.1 L615.8,420.4ZM617.7,409.1 L629.7,409.1 L631.6,409.8 L631.6,421.8 L619.6,421.8 L617.7,421.1ZM619.6,409.8 L631.6,409.8 L633.4,410.5 L633.4,422.5 L621.4,422.5 L619.6,421.8ZM621.4,410.5 L633.4,410.5 L635.3,411.2 L635.3,423.2 L623.3,423.2 L621.4,422.5ZM623.3,411.2 L635.3,411.2 L637.2,412 L637.2,424 L625.2,424 L623.3,423.2ZM625.2,412 L637.2,412 L639,412.7 L639,424.7 L627,424.7 L625.2,424ZM627,412.7 L639,412.7 L640.9,413.5 L640.9,425.5 L628.9,425.5 L627,424.7ZM628.9,413.5 L640.9,413.5 L642.7,414.3 L642.7,426.3 L630.7,426.3 L628.9,425.5ZM630.7,414.3 L642.7,414.3 L644.5,415.1 L644.5,427.1 L632.5,427.1 L630.7,426.3ZM632.5,415.1 L644.5,415.1 L646.4,415.9 L646.4,427.9 L634.4,427.9 L632.5,427.1ZM634.4,415.9 L646.4,415.9 L648.2,416.7 L648.2,428.7 L636.2,428.7 L634.4,427.9ZM636.2,416.7 L648.2,416.7 L650,417.5 L650,429.5 L638,429.5 L636.2,428.7ZM638,417.5 L650,417.5 L651.9,418.2 L651.9,430.2 L639.9,430.2 L638,429.5ZM639.9,418.2 L651.9,418.2 L653.7,419 L653.7,431 L641.7,431 L639.9,430.2ZM641.7,419 L653.7,419 L655.6,419.8 L655.6,431.8 L643.6,431.8 L641.7,431ZM643.6,419.8 L655.6,419.8 L657.4,420.6 L657.4,432.6 L645.4,432.6 L643.6,431.8ZM645.4,420.6 L657.4,420.6 L659.2,421.4 L659.2,433.4 L647.2,433.4 L645.4,432.6ZM647.2,421.4 L659.2,421.4 L661.1,422.2 L661.1,434.2 L649.1,434.2 L647.2,433.4ZM649.1,422.2 L661.1,422.2 L662.9,423 L662.9,435 L650.9,435 L649.1,434.2ZM650.9,423 L662.9,423 L664.7,423.8 L664.7,435.8 L652.7,435.8 L650.9,435ZM652.7,423.8 L664.7,423.8 L666.6,424.6 L666.6,436.6 L654.6,436.6 L652.7,435.8ZM654.6,424.6 L666.6,424.6 L668.4,425.4 L668.4,437.4 L656.4,437.4 L654.6,436.6ZM656.4,425.4 L668.4,425.4 L670.2,426.2 L670.2,438.2 L658.2,438.2 L656.4,437.4ZM658.2,426.2 L670.2,426.2 L672.1,427 L672.1,439 L660.1,439 L658.2,438.2ZM660.1,427 L672.1,427 L673.9,427.9 L673.9,439.9 L661.9,439.9 L660.1,439ZM661.9,427.9 L673.9,427.9 L675.7,428.7 L675.7,440.7 L663.7,440.7 L661.9,439.9ZM663.7,428.7 L675.7,428.7 L677.5,429.6 L677.5,441.6 L665.5,441.6 L663.7,440.7ZM665.5,429.6 L677.5,429.6 L679.3,430.4 L679.3,442.4 L667.3,442.4 L665.5,441.6ZM667.3,430.4 L679.3,430.4 L681.1,431.3 L681.1,443.3 L669.1,443.3 L667.3,442.4ZM669.1,431.3 L681.1,431.3 L682.9,432.2 L682.9,444.2 L670.9,444.2 L669.1,443.3ZM670.9,432.2 L682.9,432.2 L684.7,433.1 L684.7,445.1 L672.7,445.1 L670.9,444.2ZM672.7,433.1 L684.7,433.1 L686.5,434 L686.5,446 L674.5,446 L672.7,445.1ZM674.5,434 L686.5,434 L688.3,434.9 L688.3,446.9 L676.3,446.9 L674.5,446ZM676.3,434.9 L688.3,434.9 L690,435.8 L690,447.8 L678,447.8 L676.3,446.9ZM678,435.8 L690,435.8 L691.8,436.7 L691.8,448.7 L679.8,448.7 L678,447.8ZM679.8,436.7 L691.8,436.7 L693.6,437.6 L693.6,449.6 L681.6,449.6 L679.8,448.7ZM681.6,437.6 L693.6,437.6 L695.4,438.6 L695.4,450.6 L683.4,450.6 L681.6,449.6ZM683.4,438.6 L695.4,438.6 L697.2,439.5 L697.2,451.5 L685.2,451.5 L683.4,450.6ZM685.2,439.5 L697.2,439.5 L698.9,440.4 L698.9,452.4 L686.9,452.4 L685.2,451.5ZM686.9,440.4 L698.9,440.4 L700.7,441.3 L700.7,453.3 L688.7,453.3 L686.9,452.4ZM688.7,441.3 L700.7,441.3 L702.5,442.2 L702.5,454.2 L690.5,454.2 L688.7,453.3ZM690.5,442.2 L702.5,442.2 L704.2,443.2 L704.2,455.2 L692.2,455.2 L690.5,454.2ZM692.2,443.2 L704.2,443.2 L706,444.1 L706,456.1 L694,456.1 L692.2,455.2ZM694,444.1 L706,444.1 L707.8,445.1 L707.8,457.1 L695.8,457.1 L694,456.1ZM695.8,445.1 L707.8,445.1 L709.5,446 L709.5,458 L697.5,458 L695.8,457.1ZM697.5,446 L709.5,446 L711.3,446.9 L711.3,458.9 L699.3,458.9 L697.5,458ZM699.3,446.9 L711.3,446.9 L713.1,447.9 L713.1,459.9 L701.1,459.9 L699.3,458.9ZM701.1,447.9 L713.1,447.9 L714.8,448.9 L714.8,460.9 L702.8,460.9 L701.1,459.9ZM702.8,448.9 L714.8,448.9 L716.6,449.8 L716.6,461.8 L704.6,461.8 L702.8,460.9ZM704.6,449.8 L716.6,449.8 L718.3,450.8 L718.3,462.8 L706.3,462.8 L704.6,461.8ZM706.3,450.8 L718.3,450.8 L720.1,451.7 L720.1,463.7 L708.1,463.7 L706.3,462.8ZM708.1,451.7 L720.1,451.7 L721.8,452.7 L721.8,464.7 L709.8,464.7 L708.1,463.7ZM709.8,452.7 L721.8,452.7 L723.6,453.7 L723.6,465.7 L711.6,465.7 L709.8,464.7ZM711.6,453.7 L723.6,453.7 L725.3,454.7 L725.3,466.7 L713.3,466.7 L711.6,465.7ZM713.3,454.7 L725.3,454.7 L727.1,455.6 L727.1,467.6 L715.1,467.6 L713.3,466.7ZM715.1,455.6 L727.1,455.6 L728.8,456.6 L728.8,468.6 L716.8,468.6 L715.1,467.6ZM716.8,456.6 L728.8,456.6 L730.5,457.7 L730.5,469.7 L718.5,469.7 L716.8,468.6ZM718.5,457.7 L730.5,457.7 L732.2,458.7 L732.2,470.7 L720.2,470.7 L718.5,469.7ZM720.2,458.7 L732.2,458.7 L733.9,459.7 L733.9,471.7 L721.9,471.7 L720.2,470.7ZM721.9,459.7 L733.9,459.7 L735.6,460.8 L735.6,472.8 L723.6,472.8 L721.9,471.7ZM723.6,460.8 L735.6,460.8 L737.3,461.9 L737.3,473.9 L725.3,473.9 L723.6,472.8ZM725.3,461.9 L737.3,461.9 L738.9,463 L738.9,475 L726.9,475 L725.3,473.9ZM726.9,463 L738.9,463 L740.6,464.2 L740.6,476.2 L728.6,476.2 L726.9,475ZM728.6,464.2 L740.6,464.2 L742.2,465.3 L742.2,477.3 L730.2,477.3 L728.6,476.2ZM730.2,465.3 L742.2,465.3 L743.8,466.5 L743.8,478.5 L731.8,478.5 L730.2,477.3ZM731.8,466.5 L743.8,466.5 L745.4,467.7 L745.4,479.7 L733.4,479.7 L731.8,478.5ZM733.4,467.7 L745.4,467.7 L747,468.9 L747,480.9 L735,480.9 L733.4,479.7ZM735,468.9 L747,468.9 L748.6,470.1 L748.6,482.1 L736.6,482.1 L735,480.9ZM736.6,470.1 L748.6,470.1 L750.2,471.3 L750.2,483.3 L738.2,483.3 L736.6,482.1ZM738.2,471.3 L750.2,471.3 L751.8,472.6 L751.8,484.6 L739.8,484.6 L738.2,483.3ZM739.8,472.6 L751.8,472.6 L753.4,473.8 L753.4,485.8 L741.4,485.8 L739.8,484.6ZM741.4,473.8 L753.4,473.8 L754.9,475 L754.9,487 L742.9,487 L741.4,485.8ZM742.9,475 L754.9,475 L756.5,476.2 L756.5,488.2 L744.5,488.2 L742.9,487ZM744.5,476.2 L756.5,476.2 L758.1,477.5 L758.1,489.5 L746.1,489.5 L744.5,488.2ZM746.1,477.5 L758.1,477.5 L759.6,478.7 L759.6,490.7 L747.6,490.7 L746.1,489.5ZM747.6,478.7 L759.6,478.7 L761.2,480 L761.2,492 L749.2,492 L747.6,490.7ZM749.2,480 L761.2,480 L762.7,481.3 L762.7,493.3 L750.7,493.3 L749.2,492ZM750.7,481.3 L762.7,481.3 L764.2,482.6 L764.2,494.6 L752.2,494.6 L750.7,493.3ZM752.2,482.6 L764.2,482.6 L765.7,483.9 L765.7,495.9 L753.7,495.9 L752.2,494.6ZM753.7,483.9 L765.7,483.9 L767.2,485.2 L767.2,497.2 L755.2,497.2 L753.7,495.9ZM755.2,485.2 L767.2,485.2 L768.7,486.6 L768.7,498.6 L756.7,498.6 L755.2,497.2ZM756.7,486.6 L768.7,486.6 L770.2,487.9 L770.2,499.9 L758.2,499.9 L756.7,498.6ZM758.2,487.9 L770.2,487.9 L771.6,489.3 L771.6,501.3 L759.6,501.3 L758.2,499.9ZM759.6,489.3 L771.6,489.3 L773.1,490.7 L773.1,502.7 L761.1,502.7 L759.6,501.3ZM761.1,490.7 L773.1,490.7 L774.5,492 L774.5,504 L762.5,504 L761.1,502.7ZM762.5,492 L774.5,492 L776,493.4 L776,505.4 L764,505.4 L762.5,504ZM764,493.4 L776,493.4 L777.4,494.8 L777.4,506.8 L765.4,506.8 L764,505.4ZM765.4,494.8 L777.4,494.8 L778.8,496.2 L778.8,508.2 L766.8,508.2 L765.4,506.8ZM766.8,496.2 L778.8,496.2 L780.2,497.7 L780.2,509.7 L768.2,509.7 L766.8,508.2ZM768.2,497.7 L780.2,497.7 L781.6,499.1 L781.6,511.1 L769.6,511.1 L768.2,509.7ZM769.6,499.1 L781.6,499.1 L783,500.6 L783,512.6 L771,512.6 L769.6,511.1ZM771,500.6 L783,500.6 L784.3,502 L784.3,514 L772.3,514 L771,512.6ZM772.3,502 L784.3,502 L785.6,503.5 L785.6,515.5 L773.6,515.5 L772.3,514ZM773.6,503.5 L785.6,503.5 L786.9,505.1 L786.9,517.1 L774.9,517.1 L773.6,515.5ZM774.9,505.1 L786.9,505.1 L788.2,506.6 L788.2,518.6 L776.2,518.6 L774.9,517.1ZM776.2,506.6 L788.2,506.6 L789.5,508.1 L789.5,520.1 L777.5,520.1 L776.2,518.6ZM777.5,508.1 L789.5,508.1 L790.7,509.7 L790.7,521.7 L778.7,521.7 L777.5,520.1ZM778.7,509.7 L790.7,509.7 L791.9,511.3 L791.9,523.3 L779.9,523.3 L778.7,521.7ZM779.9,511.3 L791.9,511.3 L793.2,512.9 L793.2,524.9 L781.2,524.9 L779.9,523.3ZM781.2,512.9 L793.2,512.9 L794.4,514.5 L794.4,526.5 L782.4,526.5 L781.2,524.9ZM782.4,514.5 L794.4,514.5 L795.6,516.1 L795.6,528.1 L783.6,528.1 L782.4,526.5ZM783.6,516.1 L795.6,516.1 L796.7,517.7 L796.7,529.7 L784.7,529.7 L783.6,528.1ZM784.7,517.7 L796.7,517.7 L797.9,519.3 L797.9,531.3 L785.9,531.3 L784.7,529.7ZM785.9,519.3 L797.9,519.3 L799.1,520.9 L799.1,532.9 L787.1,532.9 L785.9,531.3ZM787.1,520.9 L799.1,520.9 L800.2,522.6 L800.2,534.6 L788.2,534.6 L787.1,532.9ZM788.2,522.6 L800.2,522.6 L801.4,524.2 L801.4,536.2 L789.4,536.2 L788.2,534.6ZM789.4,524.2 L801.4,524.2 L802.5,525.8 L802.5,537.8 L790.5,537.8 L789.4,536.2ZM790.5,525.8 L802.5,525.8 L803.6,527.5 L803.6,539.5 L791.6,539.5 L790.5,537.8ZM791.6,527.5 L803.6,527.5 L804.8,529.2 L804.8,541.2 L792.8,541.2 L791.6,539.5ZM792.8,529.2 L804.8,529.2 L805.9,530.8 L805.9,542.8 L793.9,542.8 L792.8,541.2ZM793.9,530.8 L805.9,530.8 L807,532.5 L807,544.5 L795,544.5 L793.9,542.8ZM795,532.5 L807,532.5 L808.1,534.1 L808.1,546.1 L796.1,546.1 L795,544.5ZM796.1,534.1 L808.1,534.1 L809.2,535.8 L809.2,547.8 L797.2,547.8 L796.1,546.1ZM797.2,535.8 L809.2,535.8 L810.3,537.5 L810.3,549.5 L798.3,549.5 L797.2,547.8ZM798.3,537.5 L810.3,537.5 L811.4,539.2 L811.4,551.2 L799.4,551.2 L798.3,549.5ZM799.4,539.2 L811.4,539.2 L812.5,540.8 L812.5,552.8 L800.5,552.8 L799.4,551.2ZM800.5,540.8 L812.5,540.8 L813.5,542.5 L813.5,554.5 L801.5,554.5 L800.5,552.8ZM801.5,542.5 L813.5,542.5 L814.6,544.2 L814.6,556.2 L802.6,556.2 L801.5,554.5ZM802.6,544.2 L814.6,544.2 L815.6,545.9 L815.6,557.9 L803.6,557.9 L802.6,556.2ZM803.6,545.9 L815.6,545.9 L816.6,547.7 L816.6,559.7 L804.6,559.7 L803.6,557.9ZM804.6,547.7 L816.6,547.7 L817.6,549.4 L817.6,561.4 L805.6,561.4 L804.6,559.7ZM805.6,549.4 L817.6,549.4 L818.6,551.2 L818.6,563.2 L806.6,563.2 L805.6,561.4ZM806.6,551.2 L818.6,551.2 L819.5,552.9 L819.5,564.9 L807.5,564.9 L806.6,563.2ZM807.5,552.9 L819.5,552.9 L820.4,554.7 L820.4,566.7 L808.4,566.7 L807.5,564.9ZM808.4,554.7 L820.4,554.7 L821.2,556.5 L821.2,568.5 L809.2,568.5 L808.4,566.7ZM809.2,556.5 L821.2,556.5 L822.1,558.3 L822.1,570.3 L810.1,570.3 L809.2,568.5ZM810.1,558.3 L822.1,558.3 L822.8,560.2 L822.8,572.2 L810.8,572.2 L810.1,570.3ZM810.8,560.2 L822.8,560.2 L823.6,562 L823.6,574 L811.6,574 L810.8,572.2ZM811.6,562 L823.6,562 L824.4,563.9 L824.4,575.9 L812.4,575.9 L811.6,574ZM812.4,563.9 L824.4,563.9 L825.1,565.7 L825.1,577.7 L813.1,577.7 L812.4,575.9ZM813.1,565.7 L825.1,565.7 L825.8,567.6 L825.8,579.6 L813.8,579.6 L813.1,577.7ZM813.8,567.6 L825.8,567.6 L826.4,569.5 L826.4,581.5 L814.4,581.5 L813.8,579.6ZM814.4,569.5 L826.4,569.5 L827.1,571.4 L827.1,583.4 L815.1,583.4 L814.4,581.5ZM815.1,571.4 L827.1,571.4 L827.7,573.3 L827.7,585.3 L815.7,585.3 L815.1,583.4ZM815.7,573.3 L827.7,573.3 L828.3,575.2 L828.3,587.2 L816.3,587.2 L815.7,585.3ZM816.3,575.2 L828.3,575.2 L829,577.1 L829,589.1 L817,589.1 L816.3,587.2ZM817,577.1 L829,577.1 L829.6,579 L829.6,591 L817.6,591 L817,589.1ZM817.6,579 L829.6,579 L830.2,580.9 L830.2,592.9 L818.2,592.9 L817.6,591ZM818.2,580.9 L830.2,580.9 L830.8,582.8 L830.8,594.8 L818.8,594.8 L818.2,592.9ZM818.8,582.8 L830.8,582.8 L831.4,584.7 L831.4,596.7 L819.4,596.7 L818.8,594.8ZM819.4,584.7 L831.4,584.7 L832,586.6 L832,598.6 L820,598.6 L819.4,596.7ZM820,586.6 L832,586.6 L832.6,588.5 L832.6,600.5 L820.6,600.5 L820,598.6ZM820.6,588.5 L832.6,588.5 L833.2,590.4 L833.2,602.4 L821.2,602.4 L820.6,600.5ZM821.2,590.4 L833.2,590.4 L833.8,592.3 L833.8,604.3 L821.8,604.3 L821.2,602.4ZM821.8,592.3 L833.8,592.3 L834.3,594.3 L834.3,606.3 L822.3,606.3 L821.8,604.3ZM822.3,594.3 L834.3,594.3 L834.9,596.2 L834.9,608.2 L822.9,608.2 L822.3,606.3ZM822.9,596.2 L834.9,596.2 L835.4,598.1 L835.4,610.1 L823.4,610.1 L822.9,608.2ZM823.4,598.1 L835.4,598.1 L835.9,600 L835.9,612 L823.9,612 L823.4,610.1ZM823.9,600 L835.9,600 L836.4,602 L836.4,614 L824.4,614 L823.9,612ZM824.4,602 L836.4,602 L836.9,603.9 L836.9,615.9 L824.9,615.9 L824.4,614ZM824.9,603.9 L836.9,603.9 L837.4,605.9 L837.4,617.9 L825.4,617.9 L824.9,615.9ZM825.4,605.9 L837.4,605.9 L837.8,607.8 L837.8,619.8 L825.8,619.8 L825.4,617.9ZM825.8,607.8 L837.8,607.8 L838.3,609.7 L838.3,621.7 L826.3,621.7 L825.8,619.8ZM826.3,609.7 L838.3,609.7 L838.8,611.7 L838.8,623.7 L826.8,623.7 L826.3,621.7ZM826.8,611.7 L838.8,611.7 L839.2,613.6 L839.2,625.6 L827.2,625.6 L826.8,623.7ZM827.2,613.6 L839.2,613.6 L839.7,615.6 L839.7,627.6 L827.7,627.6 L827.2,625.6ZM827.7,615.6 L839.7,615.6 L840.1,617.5 L840.1,629.5 L828.1,629.5 L827.7,627.6ZM828.1,617.5 L840.1,617.5 L840.5,619.5 L840.5,631.5 L828.5,631.5 L828.1,629.5ZM828.5,619.5 L840.5,619.5 L841,621.4 L841,633.4 L829,633.4 L828.5,631.5ZM829,621.4 L841,621.4 L841.4,623.4 L841.4,635.4 L829.4,635.4 L829,633.4ZM829.4,623.4 L841.4,623.4 L841.8,625.4 L841.8,637.4 L829.8,637.4 L829.4,635.4ZM829.8,625.4 L841.8,625.4 L842.3,627.3 L842.3,639.3 L830.3,639.3 L829.8,637.4ZM830.3,627.3 L842.3,627.3 L842.7,629.3 L842.7,641.3 L830.7,641.3 L830.3,639.3ZM830.7,629.3 L842.7,629.3 L843.1,631.2 L843.1,643.2 L831.1,643.2 L830.7,641.3ZM831.1,631.2 L843.1,631.2 L843.5,633.2 L843.5,645.2 L831.5,645.2 L831.1,643.2ZM831.5,633.2 L843.5,633.2 L843.9,635.1 L843.9,647.1 L831.9,647.1 L831.5,645.2ZM831.9,635.1 L843.9,635.1 L844.4,637.1 L844.4,649.1 L832.4,649.1 L831.9,647.1ZM832.4,637.1 L844.4,637.1 L844.8,639 L844.8,651 L832.8,651 L832.4,649.1ZM832.8,639 L844.8,639 L845.2,641 L845.2,653 L833.2,653 L832.8,651ZM833.2,641 L845.2,641 L845.6,643 L845.6,655 L833.6,655 L833.2,653ZM833.6,643 L845.6,643 L846,644.9 L846,656.9 L834,656.9 L833.6,655ZM834,644.9 L846,644.9 L846.4,646.9 L846.4,658.9 L834.4,658.9 L834,656.9ZM834.4,646.9 L846.4,646.9 L846.8,648.8 L846.8,660.8 L834.8,660.8 L834.4,658.9ZM834.8,648.8 L846.8,648.8 L847.2,650.8 L847.2,662.8 L835.2,662.8 L834.8,660.8ZM835.2,650.8 L847.2,650.8 L847.6,652.8 L847.6,664.8 L835.6,664.8 L835.2,662.8ZM835.6,652.8 L847.6,652.8 L847.9,654.7 L847.9,666.7 L835.9,666.7 L835.6,664.8ZM835.9,654.7 L847.9,654.7 L848.3,656.7 L848.3,668.7 L836.3,668.7 L835.9,666.7ZM836.3,656.7 L848.3,656.7 L848.6,658.7 L848.6,670.7 L836.6,670.7 L836.3,668.7ZM836.6,658.7 L848.6,658.7 L848.9,660.7 L848.9,672.7 L836.9,672.7 L836.6,670.7ZM836.9,660.7 L848.9,660.7 L849.3,662.6 L849.3,674.6 L837.3,674.6 L836.9,672.7ZM837.3,662.6 L849.3,662.6 L849.6,664.6 L849.6,676.6 L837.6,676.6 L837.3,674.6ZM837.6,664.6 L849.6,664.6 L849.9,666.6 L849.9,678.6 L837.9,678.6 L837.6,676.6ZM837.9,666.6 L849.9,666.6 L850.2,668.6 L850.2,680.6 L838.2,680.6 L837.9,678.6ZM838.2,668.6 L850.2,668.6 L850.5,670.5 L850.5,682.5 L838.5,682.5 L838.2,680.6ZM838.5,670.5 L850.5,670.5 L850.8,672.5 L850.8,684.5 L838.8,684.5 L838.5,682.5ZM838.8,672.5 L850.8,672.5 L851.1,674.5 L851.1,686.5 L839.1,686.5 L838.8,684.5ZM839.1,674.5 L851.1,674.5 L851.4,676.5 L851.4,688.5 L839.4,688.5 L839.1,686.5ZM839.4,676.5 L851.4,676.5 L851.7,678.5 L851.7,690.5 L839.7,690.5 L839.4,688.5ZM839.7,678.5 L851.7,678.5 L852,680.4 L852,692.4 L840,692.4 L839.7,690.5ZM840,680.4 L852,680.4 L852.3,682.4 L852.3,694.4 L840.3,694.4 L840,692.4ZM840.3,682.4 L852.3,682.4 L852.5,684.4 L852.5,696.4 L840.5,696.4 L840.3,694.4ZM840.5,684.4 L852.5,684.4 L852.8,686.4 L852.8,698.4 L840.8,698.4 L840.5,696.4ZM840.8,686.4 L852.8,686.4 L853.1,688.4 L853.1,700.4 L841.1,700.4 L840.8,698.4ZM841.1,688.4 L853.1,688.4 L853.4,690.3 L853.4,702.3 L841.4,702.3 L841.1,700.4ZM841.4,690.3 L853.4,690.3 L853.6,692.3 L853.6,704.3 L841.6,704.3 L841.4,702.3ZM841.6,692.3 L853.6,692.3 L853.9,694.3 L853.9,706.3 L841.9,706.3 L841.6,704.3ZM841.9,694.3 L853.9,694.3 L854.1,696.3 L854.1,708.3 L842.1,708.3 L841.9,706.3ZM842.1,696.3 L854.1,696.3 L854.4,698.3 L854.4,710.3 L842.4,710.3 L842.1,708.3ZM842.4,698.3 L854.4,698.3 L854.6,700.3 L854.6,712.3 L842.6,712.3 L842.4,710.3ZM842.6,700.3 L854.6,700.3 L854.8,702.3 L854.8,714.3 L842.8,714.3 L842.6,712.3ZM842.8,702.3 L854.8,702.3 L855,704.2 L855,716.2 L843,716.2 L842.8,714.3ZM843,704.2 L855,704.2 L855.2,706.2 L855.2,718.2 L843.2,718.2 L843,716.2ZM843.2,706.2 L855.2,706.2 L855.4,708.2 L855.4,720.2 L843.4,720.2 L843.2,718.2ZM843.4,708.2 L855.4,708.2 L855.6,710.2 L855.6,722.2 L843.6,722.2 L843.4,720.2ZM843.6,710.2 L855.6,710.2 L855.8,712.2 L855.8,724.2 L843.8,724.2 L843.6,722.2ZM843.8,712.2 L855.8,712.2 L856.1,714.2 L856.1,726.2 L844.1,726.2 L843.8,724.2ZM844.1,714.2 L856.1,714.2 L856.3,716.2 L856.3,728.2 L844.3,728.2 L844.1,726.2ZM844.3,716.2 L856.3,716.2 L856.5,718.2 L856.5,730.2 L844.5,730.2 L844.3,728.2ZM844.5,718.2 L856.5,718.2 L856.7,720.2 L856.7,732.2 L844.7,732.2 L844.5,730.2ZM844.7,720.2 L856.7,720.2 L856.9,722.2 L856.9,734.2 L844.9,734.2 L844.7,732.2ZM844.9,722.2 L856.9,722.2 L857.1,724.1 L857.1,736.1 L845.1,736.1 L844.9,734.2ZM845.1,724.1 L857.1,724.1 L857.3,726.1 L857.3,738.1 L845.3,738.1 L845.1,736.1ZM845.3,726.1 L857.3,726.1 L857.5,728.1 L857.5,740.1 L845.5,740.1 L845.3,738.1ZM845.5,728.1 L857.5,728.1 L857.7,730.1 L857.7,742.1 L845.7,742.1 L845.5,740.1ZM845.7,730.1 L857.7,730.1 L857.9,732.1 L857.9,744.1 L845.9,744.1 L845.7,742.1ZM845.9,732.1 L857.9,732.1 L858.1,734.1 L858.1,746.1 L846.1,746.1 L845.9,744.1ZM846.1,734.1 L858.1,734.1 L858.3,736.1 L858.3,748.1 L846.3,748.1 L846.1,746.1ZM846.3,736.1 L858.3,736.1 L858.5,738.1 L858.5,750.1 L846.5,750.1 L846.3,748.1ZM846.5,738.1 L858.5,738.1 L858.7,740.1 L858.7,752.1 L846.7,752.1 L846.5,750.1ZM846.7,740.1 L858.7,740.1 L858.9,742.1 L858.9,754.1 L846.9,754.1 L846.7,752.1ZM846.9,742.1 L858.9,742.1 L859.1,744.1 L859.1,756.1 L847.1,756.1 L846.9,754.1ZM847.1,744.1 L859.1,744.1 L859.3,746 L859.3,758 L847.3,758 L847.1,756.1ZM847.3,746 L859.3,746 L859.5,748 L859.5,760 L847.5,760 L847.3,758ZM847.5,748 L859.5,748 L859.7,750 L859.7,762 L847.7,762 L847.5,760ZM847.7,750 L859.7,750 L859.9,752 L859.9,764 L847.9,764 L847.7,762ZM847.9,752 L859.9,752 L860.1,754 L860.1,766 L848.1,766 L847.9,764ZM848.1,754 L860.1,754 L860.3,756 L860.3,768 L848.3,768 L848.1,766Z" fill="#ec8c0c"/>
<path d="M128.3,8.5 L141.3,8.5 L141.3,16.5 L128.3,16.5ZM128.3,10.5 L141.3,10.5 L141.3,18.5 L128.3,18.5ZM128.3,12.5 L141.3,12.5 L141.3,20.5 L128.3,20.5ZM128.3,14.5 L141.3,14.5 L141.3,22.5 L128.3,22.5ZM128.3,16.5 L141.3,16.5 L141.3,24.5 L128.3,24.5ZM128.3,18.5 L141.3,18.5 L141.3,26.5 L128.3,26.5ZM128.3,20.5 L141.3,20.5 L141.3,28.5 L128.3,28.5ZM128.3,22.5 L141.3,22.5 L141.3,30.5 L128.3,30.5ZM128.3,24.5 L141.3,24.5 L141.3,32.5 L128.3,32.5ZM128.3,26.5 L141.3,26.5 L141.3,34.5 L128.3,34.5ZM128.3,28.5 L141.3,28.5 L141.3,36.5 L128.3,36.5ZM128.3,30.5 L141.3,30.5 L141.3,38.5 L128.3,38.5ZM128.3,32.5 L141.3,32.5 L141.3,40.5 L128.3,40.5ZM128.3,34.5 L141.3,34.5 L141.3,42.5 L128.3,42.5ZM128.3,36.5 L141.3,36.5 L141.3,44.5 L128.3,44.5ZM128.3,38.5 L141.3,38.5 L141.3,46.5 L128.3,46.5ZM128.3,40.5 L141.3,40.5 L141.3,48.5 L128.3,48.5ZM128.3,42.5 L141.3,42.5 L141.3,50.5 L128.3,50.5ZM128.3,44.5 L141.3,44.5 L141.3,52.5 L128.3,52.5ZM128.3,46.5 L141.3,46.5 L141.3,54.5 L128.3,54.5ZM128.3,48.5 L141.3,48.5 L141.3,56.5 L128.3,56.5ZM128.3,50.5 L141.3,50.5 L141.3,58.5 L128.3,58.5ZM128.3,52.5 L141.3,52.5 L141.3,60.5 L128.3,60.5ZM128.3,54.5 L141.3,54.5 L141.3,62.6 L128.3,62.6ZM128.3,56.6 L141.3,56.6 L141.3,64.6 L128.3,64.6ZM128.3,58.6 L141.3,58.6 L141.3,66.6 L128.3,66.6ZM128.3,60.6 L141.3,60.6 L141.3,68.6 L128.3,68.6ZM128.3,62.6 L141.3,62.6 L141.3,70.6 L128.3,70.6ZM128.3,64.6 L141.3,64.6 L141.3,72.6 L128.3,72.6ZM128.3,66.6 L141.3,66.6 L141.3,74.6 L128.3,74.6ZM128.3,68.6 L141.3,68.6 L141.3,76.6 L128.3,76.6ZM128.3,70.6 L141.3,70.6 L141.3,78.6 L128.3,78.6ZM128.3,72.6 L141.3,72.6 L141.3,80.6 L128.3,80.6ZM128.3,74.6 L141.3,74.6 L141.3,82.6 L128.3,82.6ZM128.3,76.6 L141.3,76.6 L141.3,84.6 L128.3,84.6ZM128.3,78.6 L141.3,78.6 L141.3,86.6 L128.3,86.6ZM128.3,80.6 L141.3,80.6 L141.3,88.6 L128.3,88.6ZM128.3,82.6 L141.3,82.6 L141.3,90.6 L128.3,90.6ZM128.3,84.6 L141.3,84.6 L141.3,92.6 L128.3,92.6ZM128.3,86.6 L141.3,86.6 L141.3,94.6 L128.3,94.6ZM128.3,88.6 L141.3,88.6 L141.3,96.6 L128.3,96.6ZM128.3,90.6 L141.3,90.6 L141.3,98.6 L128.3,98.6ZM128.3,92.6 L141.3,92.6 L141.3,100.6 L128.3,100.6ZM128.3,94.6 L141.3,94.6 L141.3,102.6 L128.3,102.6ZM128.3,96.6 L141.3,96.6 L141.3,104.6 L128.3,104.6ZM128.3,98.6 L141.3,98.6 L141.3,106.6 L128.3,106.6ZM128.3,100.6 L141.3,100.6 L141.3,108.6 L128.3,108.6ZM128.3,102.6 L141.3,102.6 L141.3,110.6 L128.3,110.6ZM128.3,104.6 L141.3,104.6 L141.3,112.6 L128.3,112.6ZM128.3,106.6 L141.3,106.6 L141.3,114.6 L128.3,114.6ZM128.3,108.6 L141.3,108.6 L141.3,116.6 L128.3,116.6ZM128.3,110.6 L141.3,110.6 L141.3,118.6 L128.3,118.6ZM128.3,112.6 L141.3,112.6 L141.3,120.6 L128.3,120.6ZM128.3,114.6 L141.3,114.6 L141.3,122.6 L128.3,122.6ZM128.3,116.6 L141.3,116.6 L141.3,124.6 L128.3,124.6ZM128.3,118.6 L141.3,118.6 L141.3,126.6 L128.3,126.6ZM128.3,120.6 L141.3,120.6 L141.3,128.6 L128.3,128.6ZM128.3,122.6 L141.3,122.6 L141.3,130.6 L128.3,130.6ZM128.3,124.6 L141.3,124.6 L141.3,132.6 L128.3,132.6ZM128.3,126.6 L141.3,126.6 L141.3,134.6 L128.3,134.6ZM128.3,128.6 L141.3,128.6 L141.3,136.6 L128.3,136.6ZM128.3,130.6 L141.3,130.6 L141.3,138.6 L128.3,138.6ZM128.3,132.6 L141.3,132.6 L141.3,140.6 L128.3,140.6ZM128.3,134.6 L141.3,134.6 L141.3,142.6 L128.3,142.6ZM128.3,136.6 L141.3,136.6 L141.3,144.6 L128.3,144.6ZM128.3,138.6 L141.3,138.6 L141.3,146.6 L128.3,146.6ZM128.3,140.6 L141.3,140.6 L141.3,148.6 L128.3,148.6ZM128.3,142.6 L141.3,142.6 L141.3,150.6 L128.3,150.6ZM128.3,144.6 L141.3,144.6 L141.3,152.6 L128.3,152.6ZM128.3,146.6 L141.3,146.6 L141.3,154.6 L128.3,154.6ZM128.3,148.6 L141.3,148.6 L141.3,156.7 L128.3,156.7ZM128.3,150.7 L141.3,150.7 L141.3,158.7 L128.3,158.7ZM128.3,152.7 L141.3,152.7 L141.3,160.7 L128.3,160.7ZM128.3,154.7 L141.3,154.7 L141.3,162.7 L128.3,162.7ZM128.3,156.7 L141.3,156.7 L141.3,164.7 L128.3,164.7ZM128.3,158.7 L141.3,158.7 L141.3,166.7 L128.3,166.7ZM128.3,160.7 L141.3,160.7 L141.3,168.7 L128.3,168.7ZM128.3,162.7 L141.3,162.7 L141.3,170.7 L128.3,170.7ZM128.3,164.7 L141.3,164.7 L141.3,172.7 L128.3,172.7ZM128.3,166.7 L141.3,166.7 L141.3,174.7 L128.3,174.7ZM128.3,168.7 L141.3,168.7 L141.3,176.7 L128.3,176.7ZM128.3,170.7 L141.3,170.7 L141.3,178.7 L128.3,178.7ZM128.3,172.7 L141.3,172.7 L141.3,180.7 L128.3,180.7ZM128.3,174.7 L141.3,174.7 L141.3,182.7 L128.3,182.7ZM128.3,176.7 L141.3,176.7 L141.3,184.7 L128.3,184.7ZM128.3,178.7 L141.3,178.7 L141.3,186.7 L128.3,186.7ZM128.3,180.7 L141.3,180.7 L141.3,188.7 L128.3,188.7ZM128.3,182.7 L141.3,182.7 L141.3,190.7 L128.3,190.7ZM128.3,184.7 L141.3,184.7 L141.3,192.7 L128.3,192.7ZM128.3,186.7 L141.3,186.7 L141.3,194.7 L128.3,194.7ZM128.3,188.7 L141.3,188.7 L141.3,196.7 L128.3,196.7ZM128.3,190.7 L141.3,190.7 L141.3,198.7 L128.3,198.7ZM128.3,192.7 L141.3,192.7 L141.3,200.7 L128.3,200.7ZM128.3,194.7 L141.3,194.7 L141.3,202.7 L128.3,202.7ZM128.3,196.7 L141.3,196.7 L141.3,204.7 L128.3,204.7ZM128.3,198.7 L141.3,198.7 L141.3,206.7 L128.3,206.7ZM128.3,200.7 L141.3,200.7 L141.3,208.7 L128.3,208.7ZM128.3,202.7 L141.3,202.7 L141.3,210.7 L128.3,210.7ZM128.3,204.7 L141.3,204.7 L141.3,212.7 L128.3,212.7ZM128.3,206.7 L141.3,206.7 L141.3,214.7 L128.3,214.7ZM128.3,208.7 L141.3,208.7 L141.3,216.7 L128.3,216.7ZM128.3,210.7 L141.3,210.7 L141.3,218.7 L128.3,218.7ZM128.3,212.7 L141.3,212.7 L141.3,220.7 L128.3,220.7ZM128.3,214.7 L141.3,214.7 L141.3,222.7 L128.3,222.7ZM128.3,216.7 L141.3,216.7 L141.3,224.7 L128.3,224.7ZM128.3,218.7 L141.3,218.7 L141.3,226.7 L128.3,226.7ZM128.3,220.7 L141.3,220.7 L141.3,228.7 L128.3,228.7ZM128.3,222.7 L141.3,222.7 L141.3,230.7 L128.3,230.7ZM128.3,224.7 L141.3,224.7 L141.3,232.7 L128.3,232.7ZM128.3,226.7 L141.3,226.7 L141.3,234.7 L128.3,234.7ZM128.3,228.7 L141.3,228.7 L141.3,236.7 L128.3,236.7ZM128.3,230.7 L141.3,230.7 L141.3,238.7 L128.3,238.7ZM128.3,232.7 L141.3,232.7 L141.3,240.7 L128.3,240.7ZM128.3,234.7 L141.3,234.7 L141.3,242.7 L128.3,242.7ZM128.3,236.7 L141.3,236.7 L141.3,244.7 L128.3,244.7ZM128.3,238.7 L141.3,238.7 L141.3,246.7 L128.3,246.7ZM128.3,240.7 L141.3,240.7 L141.4,242.7 L141.4,248.7 L128.4,248.7 L128.3,246.7ZM128.4,242.7 L141.4,242.7 L141.5,244.7 L141.5,250.7 L128.5,250.7 L128.4,248.7ZM128.5,244.7 L141.5,244.7 L141.6,246.7 L141.6,252.7 L128.6,252.7 L128.5,250.7ZM128.6,246.7 L141.6,246.7 L141.7,248.7 L141.7,254.7 L128.7,254.7 L128.6,252.7ZM128.7,248.7 L141.7,248.7 L141.9,250.7 L141.9,256.7 L128.9,256.7 L128.7,254.7ZM128.9,250.7 L141.9,250.7 L142.1,252.7 L142.1,258.7 L129.1,258.7 L128.9,256.7ZM129.1,252.7 L142.1,252.7 L142.5,254.7 L142.5,260.7 L129.5,260.7 L129.1,258.7ZM129.5,254.7 L142.5,254.7 L142.9,256.6 L142.9,262.6 L129.9,262.6 L129.5,260.7ZM129.9,256.6 L142.9,256.6 L143.4,258.5 L143.4,264.5 L130.4,264.5 L129.9,262.6ZM130.4,258.5 L143.4,258.5 L144.1,260.4 L144.1,266.4 L131.1,266.4 L130.4,264.5ZM131.1,260.4 L144.1,260.4 L144.9,262.3 L144.9,268.3 L131.9,268.3 L131.1,266.4ZM131.9,262.3 L144.9,262.3 L145.8,264 L145.8,270 L132.8,270 L131.9,268.3ZM132.8,264 L145.8,264 L146.9,265.7 L146.9,271.7 L133.9,271.7 L132.8,270ZM133.9,265.7 L146.9,265.7 L148,267.3 L148,273.3 L135,273.3 L133.9,271.7ZM135,267.3 L148,267.3 L149.4,268.8 L149.4,274.8 L136.4,274.8 L135,273.3ZM136.4,268.8 L149.4,268.8 L150.8,270.2 L150.8,276.2 L137.8,276.2 L136.4,274.8ZM137.8,270.2 L150.8,270.2 L152.3,271.5 L152.3,277.5 L139.3,277.5 L137.8,276.2ZM139.3,271.5 L152.3,271.5 L153.9,272.7 L153.9,278.7 L140.9,278.7 L139.3,277.5ZM140.9,272.7 L153.9,272.7 L155.6,273.7 L155.6,279.7 L142.6,279.7 L140.9,278.7ZM142.6,273.7 L155.6,273.7 L157.3,274.7 L157.3,280.7 L144.3,280.7 L142.6,279.7ZM144.3,274.7 L157.3,274.7 L159.1,275.6 L159.1,281.6 L146.1,281.6 L144.3,280.7ZM146.1,275.6 L159.1,275.6 L160.9,276.5 L160.9,282.5 L147.9,282.5 L146.1,281.6ZM147.9,276.5 L160.9,276.5 L162.7,277.3 L162.7,283.3 L149.7,283.3 L147.9,282.5ZM149.7,277.3 L162.7,277.3 L164.5,278.1 L164.5,284.1 L151.5,284.1 L149.7,283.3ZM151.5,278.1 L164.5,278.1 L166.4,278.8 L166.4,284.8 L153.4,284.8 L151.5,284.1ZM153.4,278.8 L166.4,278.8 L168.3,279.4 L168.3,285.4 L155.3,285.4 L153.4,284.8ZM155.3,279.4 L168.3,279.4 L170.2,279.9 L170.2,285.9 L157.2,285.9 L155.3,285.4ZM157.2,279.9 L170.2,279.9 L172.2,280.4 L172.2,286.4 L159.2,286.4 L157.2,285.9ZM159.2,280.4 L172.2,280.4 L174.1,280.9 L174.1,286.9 L161.1,286.9 L159.2,286.4ZM161.1,280.9 L174.1,280.9 L176.1,281.4 L176.1,287.4 L163.1,287.4 L161.1,286.9ZM163.1,281.4 L176.1,281.4 L178,281.8 L178,287.8 L165,287.8 L163.1,287.4ZM165,281.8 L178,281.8 L180,282.3 L180,288.3 L167,288.3 L165,287.8ZM167,282.3 L180,282.3 L181.9,282.7 L181.9,288.7 L168.9,288.7 L167,288.3ZM168.9,282.7 L181.9,282.7 L183.9,283.2 L183.9,289.2 L170.9,289.2 L168.9,288.7ZM170.9,283.2 L183.9,283.2 L185.8,283.7 L185.8,289.7 L172.8,289.7 L170.9,289.2ZM172.8,283.7 L185.8,283.7 L187.7,284.3 L187.7,290.3 L174.7,290.3 L172.8,289.7ZM174.7,284.3 L187.7,284.3 L189.6,285 L189.6,291 L176.6,291 L174.7,290.3ZM176.6,285 L189.6,285 L191.4,285.8 L191.4,291.8 L178.4,291.8 L176.6,291ZM178.4,285.8 L191.4,285.8 L193.2,286.6 L193.2,292.6 L180.2,292.6 L178.4,291.8ZM180.2,286.6 L193.2,286.6 L195.1,287.4 L195.1,293.4 L182.1,293.4 L180.2,292.6ZM182.1,287.4 L195.1,287.4 L196.9,288.2 L196.9,294.2 L183.9,294.2 L182.1,293.4ZM183.9,288.2 L196.9,288.2 L198.7,289 L198.7,295 L185.7,295 L183.9,294.2ZM185.7,289 L198.7,289 L200.5,289.8 L200.5,295.8 L187.5,295.8 L185.7,295ZM187.5,289.8 L200.5,289.8 L202.4,290.6 L202.4,296.6 L189.4,296.6 L187.5,295.8ZM189.4,290.6 L202.4,290.6 L204.2,291.4 L204.2,297.4 L191.2,297.4 L189.4,296.6ZM191.2,291.4 L204.2,291.4 L206.1,292.1 L206.1,298.1 L193.1,298.1 L191.2,297.4ZM193.1,292.1 L206.1,292.1 L208,292.7 L208,298.7 L195,298.7 L193.1,298.1ZM195,292.7 L208,292.7 L209.9,293.2 L209.9,299.2 L196.9,299.2 L195,298.7ZM196.9,293.2 L209.9,293.2 L211.9,293.7 L211.9,299.7 L198.9,299.7 L196.9,299.2ZM198.9,293.7 L211.9,293.7 L213.8,294.1 L213.8,300.1 L200.8,300.1 L198.9,299.7ZM200.8,294.1 L213.8,294.1 L215.8,294.6 L215.8,300.6 L202.8,300.6 L200.8,300.1ZM202.8,294.6 L215.8,294.6 L217.7,295 L217.7,301 L204.7,301 L202.8,300.6ZM204.7,295 L217.7,295 L219.7,295.5 L219.7,301.5 L206.7,301.5 L204.7,301ZM206.7,295.5 L219.7,295.5 L221.6,295.9 L221.6,301.9 L208.6,301.9 L206.7,301.5ZM208.6,295.9 L221.6,295.9 L223.6,296.3 L223.6,302.3 L210.6,302.3 L208.6,301.9ZM210.6,296.3 L223.6,296.3 L225.5,296.8 L225.5,302.8 L212.5,302.8 L210.6,302.3ZM212.5,296.8 L225.5,296.8 L226.5,297 L226.5,303 L213.5,303 L212.5,302.8Z" fill="#ff2a00"/>
<path d="M161.7,281 L174.2,281 L176.2,281.5 L176.2,287.5 L163.7,287.5 L161.7,287ZM163.7,281.5 L176.2,281.5 L178.1,282 L178.1,288 L165.6,288 L163.7,287.5ZM165.6,282 L178.1,282 L180.1,282.5 L180.1,288.5 L167.6,288.5 L165.6,288ZM167.6,282.5 L180.1,282.5 L182,283 L182,289 L169.5,289 L167.6,288.5ZM169.5,283 L182,283 L183.9,283.6 L183.9,289.6 L171.4,289.6 L169.5,289ZM171.4,283.6 L183.9,283.6 L185.8,284.2 L185.8,290.2 L173.3,290.2 L171.4,289.6ZM173.3,284.2 L185.8,284.2 L187.7,284.8 L187.7,290.8 L175.2,290.8 L173.3,290.2ZM175.2,284.8 L187.7,284.8 L189.6,285.5 L189.6,291.5 L177.1,291.5 L175.2,290.8ZM177.1,285.5 L189.6,285.5 L191.4,286.1 L191.4,292.1 L178.9,292.1 L177.1,291.5ZM178.9,286.1 L191.4,286.1 L193.3,286.9 L193.3,292.9 L180.8,292.9 L178.9,292.1ZM180.8,286.9 L193.3,286.9 L195.1,287.6 L195.1,293.6 L182.6,293.6 L180.8,292.9ZM182.6,287.6 L195.1,287.6 L197,288.3 L197,294.3 L184.5,294.3 L182.6,293.6ZM184.5,288.3 L197,288.3 L198.8,289.1 L198.8,295.1 L186.3,295.1 L184.5,294.3ZM186.3,289.1 L198.8,289.1 L200.7,289.8 L200.7,295.8 L188.2,295.8 L186.3,295.1ZM188.2,289.8 L200.7,289.8 L202.6,290.5 L202.6,296.5 L190.1,296.5 L188.2,295.8ZM190.1,290.5 L202.6,290.5 L204.4,291.2 L204.4,297.2 L191.9,297.2 L190.1,296.5ZM191.9,291.2 L204.4,291.2 L206.3,291.9 L206.3,297.9 L193.8,297.9 L191.9,297.2ZM193.8,291.9 L206.3,291.9 L208.2,292.5 L208.2,298.5 L195.7,298.5 L193.8,297.9ZM195.7,292.5 L208.2,292.5 L210.1,293 L210.1,299 L197.6,299 L195.7,298.5ZM197.6,293 L210.1,293 L212,293.6 L212,299.6 L199.5,299.6 L197.6,299ZM199.5,293.6 L212,293.6 L214,294.1 L214,300.1 L201.5,300.1 L199.5,299.6ZM201.5,294.1 L214,294.1 L215.9,294.6 L215.9,300.6 L203.4,300.6 L201.5,300.1ZM203.4,294.6 L215.9,294.6 L217.9,295 L217.9,301 L205.4,301 L203.4,300.6ZM205.4,295 L217.9,295 L219.8,295.5 L219.8,301.5 L207.3,301.5 L205.4,301ZM207.3,295.5 L219.8,295.5 L221.8,295.9 L221.8,301.9 L209.3,301.9 L207.3,301.5ZM209.3,295.9 L221.8,295.9 L223.7,296.3 L223.7,302.3 L211.2,302.3 L209.3,301.9ZM211.2,296.3 L223.7,296.3 L225.7,296.7 L225.7,302.7 L213.2,302.7 L211.2,302.3ZM213.2,296.7 L225.7,296.7 L227.6,297.1 L227.6,303.1 L215.1,303.1 L213.2,302.7ZM215.1,297.1 L227.6,297.1 L229.6,297.5 L229.6,303.5 L217.1,303.5 L215.1,303.1ZM217.1,297.5 L229.6,297.5 L231.6,297.9 L231.6,303.9 L219.1,303.9 L217.1,303.5ZM219.1,297.9 L231.6,297.9 L233.5,298.3 L233.5,304.3 L221,304.3 L219.1,303.9ZM221,298.3 L233.5,298.3 L235.5,298.7 L235.5,304.7 L223,304.7 L221,304.3ZM223,298.7 L235.5,298.7 L237.4,299.1 L237.4,305.1 L224.9,305.1 L223,304.7ZM224.9,299.1 L237.4,299.1 L239.4,299.4 L239.4,305.4 L226.9,305.4 L224.9,305.1ZM226.9,299.4 L239.4,299.4 L241.4,299.8 L241.4,305.8 L228.9,305.8 L226.9,305.4ZM228.9,299.8 L241.4,299.8 L243.3,300.3 L243.3,306.3 L230.8,306.3 L228.9,305.8ZM230.8,300.3 L243.3,300.3 L245.3,300.7 L245.3,306.7 L232.8,306.7 L230.8,306.3ZM232.8,300.7 L245.3,300.7 L247.2,301.1 L247.2,307.1 L234.7,307.1 L232.8,306.7ZM234.7,301.1 L247.2,301.1 L249.2,301.6 L249.2,307.6 L236.7,307.6 L234.7,307.1ZM236.7,301.6 L249.2,301.6 L251.1,302.1 L251.1,308.1 L238.6,308.1 L236.7,307.6ZM238.6,302.1 L251.1,302.1 L253,302.6 L253,308.6 L240.5,308.6 L238.6,308.1ZM240.5,302.6 L253,302.6 L255,303.1 L255,309.1 L242.5,309.1 L240.5,308.6ZM242.5,303.1 L255,303.1 L256.9,303.6 L256.9,309.6 L244.4,309.6 L242.5,309.1ZM244.4,303.6 L256.9,303.6 L258.8,304.2 L258.8,310.2 L246.3,310.2 L244.4,309.6ZM246.3,304.2 L258.8,304.2 L260.8,304.7 L260.8,310.7 L248.3,310.7 L246.3,310.2ZM248.3,304.7 L260.8,304.7 L262.7,305.3 L262.7,311.3 L250.2,311.3 L248.3,310.7ZM250.2,305.3 L262.7,305.3 L264.6,305.8 L264.6,311.8 L252.1,311.8 L250.2,311.3ZM252.1,305.8 L264.6,305.8 L266.5,306.4 L266.5,312.4 L254,312.4 L252.1,311.8ZM254,306.4 L266.5,306.4 L268.5,306.9 L268.5,312.9 L256,312.9 L254,312.4ZM256,306.9 L268.5,306.9 L270.4,307.5 L270.4,313.5 L257.9,313.5 L256,312.9ZM257.9,307.5 L270.4,307.5 L272.3,308.1 L272.3,314.1 L259.8,314.1 L257.9,313.5ZM259.8,308.1 L272.3,308.1 L274.2,308.6 L274.2,314.6 L261.7,314.6 L259.8,314.1ZM261.7,308.6 L274.2,308.6 L276.1,309.2 L276.1,315.2 L263.6,315.2 L261.7,314.6ZM263.6,309.2 L276.1,309.2 L278,309.8 L278,315.8 L265.5,315.8 L263.6,315.2ZM265.5,309.8 L278,309.8 L279.9,310.4 L279.9,316.4 L267.4,316.4 L265.5,315.8ZM267.4,310.4 L279.9,310.4 L281.9,311 L281.9,317 L269.4,317 L267.4,316.4ZM269.4,311 L281.9,311 L283.8,311.6 L283.8,317.6 L271.3,317.6 L269.4,317ZM271.3,311.6 L283.8,311.6 L285.7,312.2 L285.7,318.2 L273.2,318.2 L271.3,317.6ZM273.2,312.2 L285.7,312.2 L287.6,312.8 L287.6,318.8 L275.1,318.8 L273.2,318.2ZM275.1,312.8 L287.6,312.8 L289.5,313.4 L289.5,319.4 L277,319.4 L275.1,318.8ZM277,313.4 L289.5,313.4 L291.4,314 L291.4,320 L278.9,320 L277,319.4ZM278.9,314 L291.4,314 L293.3,314.6 L293.3,320.6 L280.8,320.6 L278.9,320ZM280.8,314.6 L293.3,314.6 L295.2,315.2 L295.2,321.2 L282.7,321.2 L280.8,320.6ZM282.7,315.2 L295.2,315.2 L297.1,315.7 L297.1,321.7 L284.6,321.7 L282.7,321.2ZM284.6,315.7 L297.1,315.7 L299.1,316.2 L299.1,322.2 L286.6,322.2 L284.6,321.7ZM286.6,316.2 L299.1,316.2 L301,316.8 L301,322.8 L288.5,322.8 L286.6,322.2ZM288.5,316.8 L301,316.8 L302.9,317.3 L302.9,323.3 L290.4,323.3 L288.5,322.8ZM290.4,317.3 L302.9,317.3 L304.9,317.7 L304.9,323.7 L292.4,323.7 L290.4,323.3ZM292.4,317.7 L304.9,317.7 L306.8,318.2 L306.8,324.2 L294.3,324.2 L292.4,323.7ZM294.3,318.2 L306.8,318.2 L308.8,318.6 L308.8,324.6 L296.3,324.6 L294.3,324.2ZM296.3,318.6 L308.8,318.6 L310.7,319 L310.7,325 L298.2,325 L296.3,324.6ZM298.2,319 L310.7,319 L312.7,319.4 L312.7,325.4 L300.2,325.4 L298.2,325ZM300.2,319.4 L312.7,319.4 L314.7,319.8 L314.7,325.8 L302.2,325.8 L300.2,325.4ZM302.2,319.8 L314.7,319.8 L316.6,320.2 L316.6,326.2 L304.1,326.2 L302.2,325.8ZM304.1,320.2 L316.6,320.2 L318.6,320.6 L318.6,326.6 L306.1,326.6 L304.1,326.2ZM306.1,320.6 L318.6,320.6 L320.6,321 L320.6,327 L308.1,327 L306.1,326.6ZM308.1,321 L320.6,321 L322.5,321.3 L322.5,327.3 L310,327.3 L308.1,327ZM310,321.3 L322.5,321.3 L324.5,321.7 L324.5,327.7 L312,327.7 L310,327.3ZM312,321.7 L324.5,321.7 L326.5,322 L326.5,328 L314,328 L312,327.7ZM314,322 L326.5,322 L328.4,322.4 L328.4,328.4 L315.9,328.4 L314,328ZM315.9,322.4 L328.4,322.4 L330.4,322.8 L330.4,328.8 L317.9,328.8 L315.9,328.4ZM317.9,322.8 L330.4,322.8 L332.4,323.1 L332.4,329.1 L319.9,329.1 L317.9,328.8ZM319.9,323.1 L332.4,323.1 L334.3,323.5 L334.3,329.5 L321.8,329.5 L319.9,329.1ZM321.8,323.5 L334.3,323.5 L336.3,323.8 L336.3,329.8 L323.8,329.8 L321.8,329.5ZM323.8,323.8 L336.3,323.8 L338.3,324.2 L338.3,330.2 L325.8,330.2 L323.8,329.8ZM325.8,324.2 L338.3,324.2 L340.2,324.6 L340.2,330.6 L327.7,330.6 L325.8,330.2ZM327.7,324.6 L340.2,324.6 L342.2,324.9 L342.2,330.9 L329.7,330.9 L327.7,330.6ZM329.7,324.9 L342.2,324.9 L344.2,325.3 L344.2,331.3 L331.7,331.3 L329.7,330.9ZM331.7,325.3 L344.2,325.3 L346.1,325.7 L346.1,331.7 L333.6,331.7 L331.7,331.3ZM333.6,325.7 L346.1,325.7 L348.1,326.1 L348.1,332.1 L335.6,332.1 L333.6,331.7ZM335.6,326.1 L348.1,326.1 L350.1,326.5 L350.1,332.5 L337.6,332.5 L335.6,332.1ZM337.6,326.5 L350.1,326.5 L352,326.9 L352,332.9 L339.5,332.9 L337.6,332.5ZM339.5,326.9 L352,326.9 L354,327.3 L354,333.3 L341.5,333.3 L339.5,332.9ZM341.5,327.3 L354,327.3 L355.9,327.7 L355.9,333.7 L343.4,333.7 L341.5,333.3ZM343.4,327.7 L355.9,327.7 L357.9,328.1 L357.9,334.1 L345.4,334.1 L343.4,333.7ZM345.4,328.1 L357.9,328.1 L359.9,328.5 L359.9,334.5 L347.4,334.5 L345.4,334.1ZM347.4,328.5 L359.9,328.5 L361.8,328.9 L361.8,334.9 L349.3,334.9 L347.4,334.5ZM349.3,328.9 L361.8,328.9 L363.8,329.3 L363.8,335.3 L351.3,335.3 L349.3,334.9ZM351.3,329.3 L363.8,329.3 L365.7,329.7 L365.7,335.7 L353.2,335.7 L351.3,335.3ZM353.2,329.7 L365.7,329.7 L367.7,330.1 L367.7,336.1 L355.2,336.1 L353.2,335.7ZM355.2,330.1 L367.7,330.1 L369.7,330.5 L369.7,336.5 L357.2,336.5 L355.2,336.1ZM357.2,330.5 L369.7,330.5 L371.6,331 L371.6,337 L359.1,337 L357.2,336.5ZM359.1,331 L371.6,331 L373.6,331.4 L373.6,337.4 L361.1,337.4 L359.1,337ZM361.1,331.4 L373.6,331.4 L375.5,331.8 L375.5,337.8 L363,337.8 L361.1,337.4ZM363,331.8 L375.5,331.8 L377.5,332.2 L377.5,338.2 L365,338.2 L363,337.8ZM365,332.2 L377.5,332.2 L379.4,332.6 L379.4,338.6 L366.9,338.6 L365,338.2ZM366.9,332.6 L379.4,332.6 L381.4,333 L381.4,339 L368.9,339 L366.9,338.6ZM368.9,333 L381.4,333 L383.4,333.4 L383.4,339.4 L370.9,339.4 L368.9,339ZM370.9,333.4 L383.4,333.4 L385.3,333.9 L385.3,339.9 L372.8,339.9 L370.9,339.4ZM372.8,333.9 L385.3,333.9 L387.3,334.3 L387.3,340.3 L374.8,340.3 L372.8,339.9ZM374.8,334.3 L387.3,334.3 L389.2,334.7 L389.2,340.7 L376.7,340.7 L374.8,340.3ZM376.7,334.7 L389.2,334.7 L391.2,335.1 L391.2,341.1 L378.7,341.1 L376.7,340.7ZM378.7,335.1 L391.2,335.1 L393.2,335.5 L393.2,341.5 L380.7,341.5 L378.7,341.1ZM380.7,335.5 L393.2,335.5 L395.1,335.9 L395.1,341.9 L382.6,341.9 L380.7,341.5ZM382.6,335.9 L395.1,335.9 L397.1,336.3 L397.1,342.3 L384.6,342.3 L382.6,341.9ZM384.6,336.3 L397.1,336.3 L399,336.7 L399,342.7 L386.5,342.7 L384.6,342.3ZM386.5,336.7 L399,336.7 L401,337.2 L401,343.2 L388.5,343.2 L386.5,342.7ZM388.5,337.2 L401,337.2 L402.9,337.6 L402.9,343.6 L390.4,343.6 L388.5,343.2ZM390.4,337.6 L402.9,337.6 L404.9,338 L404.9,344 L392.4,344 L390.4,343.6ZM392.4,338 L404.9,338 L406.9,338.4 L406.9,344.4 L394.4,344.4 L392.4,344ZM394.4,338.4 L406.9,338.4 L408.8,338.8 L408.8,344.8 L396.3,344.8 L394.4,344.4ZM396.3,338.8 L408.8,338.8 L410.8,339.2 L410.8,345.2 L398.3,345.2 L396.3,344.8ZM398.3,339.2 L410.8,339.2 L412.7,339.6 L412.7,345.6 L400.2,345.6 L398.3,345.2ZM400.2,339.6 L412.7,339.6 L414.7,340.1 L414.7,346.1 L402.2,346.1 L400.2,345.6ZM402.2,340.1 L414.7,340.1 L416.6,340.5 L416.6,346.5 L404.1,346.5 L402.2,346.1ZM404.1,340.5 L416.6,340.5 L418.6,340.9 L418.6,346.9 L406.1,346.9 L404.1,346.5ZM406.1,340.9 L418.6,340.9 L420.6,341.3 L420.6,347.3 L408.1,347.3 L406.1,346.9ZM408.1,341.3 L420.6,341.3 L422.5,341.7 L422.5,347.7 L410,347.7 L408.1,347.3ZM410,341.7 L422.5,341.7 L424.5,342.2 L424.5,348.2 L412,348.2 L410,347.7ZM412,342.2 L424.5,342.2 L426.4,342.6 L426.4,348.6 L413.9,348.6 L412,348.2ZM413.9,342.6 L426.4,342.6 L428.4,343 L428.4,349 L415.9,349 L413.9,348.6ZM415.9,343 L428.4,343 L430.3,343.5 L430.3,349.5 L417.8,349.5 L415.9,349ZM417.8,343.5 L430.3,343.5 L432.3,343.9 L432.3,349.9 L419.8,349.9 L417.8,349.5ZM419.8,343.9 L432.3,343.9 L434.2,344.3 L434.2,350.3 L421.7,350.3 L419.8,349.9ZM421.7,344.3 L434.2,344.3 L436.2,344.8 L436.2,350.8 L423.7,350.8 L421.7,350.3ZM423.7,344.8 L436.2,344.8 L438.1,345.2 L438.1,351.2 L425.6,351.2 L423.7,350.8ZM425.6,345.2 L438.1,345.2 L440.1,345.6 L440.1,351.6 L427.6,351.6 L425.6,351.2ZM427.6,345.6 L440.1,345.6 L442.1,346.1 L442.1,352.1 L429.6,352.1 L427.6,351.6ZM429.6,346.1 L442.1,346.1 L444,346.5 L444,352.5 L431.5,352.5 L429.6,352.1ZM431.5,346.5 L444,346.5 L446,347 L446,353 L433.5,353 L431.5,352.5ZM433.5,347 L446,347 L447.9,347.4 L447.9,353.4 L435.4,353.4 L433.5,353ZM435.4,347.4 L447.9,347.4 L449.9,347.9 L449.9,353.9 L437.4,353.9 L435.4,353.4ZM437.4,347.9 L449.9,347.9 L451.8,348.3 L451.8,354.3 L439.3,354.3 L437.4,353.9ZM439.3,348.3 L451.8,348.3 L453.8,348.8 L453.8,354.8 L441.3,354.8 L439.3,354.3ZM441.3,348.8 L453.8,348.8 L455.7,349.2 L455.7,355.2 L443.2,355.2 L441.3,354.8ZM443.2,349.2 L455.7,349.2 L457.7,349.6 L457.7,355.6 L445.2,355.6 L443.2,355.2ZM445.2,349.6 L457.7,349.6 L459.6,350.1 L459.6,356.1 L447.1,356.1 L445.2,355.6ZM447.1,350.1 L459.6,350.1 L461.6,350.5 L461.6,356.5 L449.1,356.5 L447.1,356.1ZM449.1,350.5 L461.6,350.5 L463.5,351 L463.5,357 L451,357 L449.1,356.5ZM451,351 L463.5,351 L465.5,351.4 L465.5,357.4 L453,357.4 L451,357ZM453,351.4 L465.5,351.4 L467.4,351.9 L467.4,357.9 L454.9,357.9 L453,357.4ZM454.9,351.9 L467.4,351.9 L469.4,352.3 L469.4,358.3 L456.9,358.3 L454.9,357.9ZM456.9,352.3 L469.4,352.3 L471.3,352.7 L471.3,358.7 L458.8,358.7 L456.9,358.3ZM458.8,352.7 L471.3,352.7 L473.3,353.2 L473.3,359.2 L460.8,359.2 L458.8,358.7ZM460.8,353.2 L473.3,353.2 L475.2,353.6 L475.2,359.6 L462.7,359.6 L460.8,359.2ZM462.7,353.6 L475.2,353.6 L477.2,354.1 L477.2,360.1 L464.7,360.1 L462.7,359.6ZM464.7,354.1 L477.2,354.1 L479.1,354.5 L479.1,360.5 L466.6,360.5 L464.7,360.1ZM466.6,354.5 L479.1,354.5 L481.1,355 L481.1,361 L468.6,361 L466.6,360.5ZM468.6,355 L481.1,355 L483,355.4 L483,361.4 L470.5,361.4 L468.6,361ZM470.5,355.4 L483,355.4 L485,355.8 L485,361.8 L472.5,361.8 L470.5,361.4ZM472.5,355.8 L485,355.8 L486.9,356.3 L486.9,362.3 L474.4,362.3 L472.5,361.8ZM474.4,356.3 L486.9,356.3 L488.9,356.7 L488.9,362.7 L476.4,362.7 L474.4,362.3ZM476.4,356.7 L488.9,356.7 L490.8,357.2 L490.8,363.2 L478.3,363.2 L476.4,362.7ZM478.3,357.2 L490.8,357.2 L492.8,357.6 L492.8,363.6 L480.3,363.6 L478.3,363.2ZM480.3,357.6 L492.8,357.6 L494.7,358.1 L494.7,364.1 L482.2,364.1 L480.3,363.6ZM482.2,358.1 L494.7,358.1 L496.7,358.5 L496.7,364.5 L484.2,364.5 L482.2,364.1ZM484.2,358.5 L496.7,358.5 L498.6,359 L498.6,365 L486.1,365 L484.2,364.5ZM486.1,359 L498.6,359 L500.6,359.4 L500.6,365.4 L488.1,365.4 L486.1,365ZM488.1,359.4 L500.6,359.4 L502.6,359.8 L502.6,365.8 L490.1,365.8 L488.1,365.4ZM490.1,359.8 L502.6,359.8 L504.5,360.3 L504.5,366.3 L492,366.3 L490.1,365.8ZM492,360.3 L504.5,360.3 L506.5,360.7 L506.5,366.7 L494,366.7 L492,366.3ZM494,360.7 L506.5,360.7 L508.4,361.2 L508.4,367.2 L495.9,367.2 L494,366.7ZM495.9,361.2 L508.4,361.2 L510.4,361.6 L510.4,367.6 L497.9,367.6 L495.9,367.2ZM497.9,361.6 L510.4,361.6 L512.3,362.1 L512.3,368.1 L499.8,368.1 L497.9,367.6ZM499.8,362.1 L512.3,362.1 L514.3,362.5 L514.3,368.5 L501.8,368.5 L499.8,368.1ZM501.8,362.5 L514.3,362.5 L516.2,362.9 L516.2,368.9 L503.7,368.9 L501.8,368.5ZM503.7,362.9 L516.2,362.9 L518.2,363.4 L518.2,369.4 L505.7,369.4 L503.7,368.9ZM505.7,363.4 L518.2,363.4 L520.1,363.8 L520.1,369.8 L507.6,369.8 L505.7,369.4ZM507.6,363.8 L520.1,363.8 L522.1,364.3 L522.1,370.3 L509.6,370.3 L507.6,369.8ZM509.6,364.3 L522.1,364.3 L524,364.7 L524,370.7 L511.5,370.7 L509.6,370.3ZM511.5,364.7 L524,364.7 L526,365.2 L526,371.2 L513.5,371.2 L511.5,370.7ZM513.5,365.2 L526,365.2 L527.9,365.7 L527.9,371.7 L515.4,371.7 L513.5,371.2ZM515.4,365.7 L527.9,365.7 L529.8,366.2 L529.8,372.2 L517.3,372.2 L515.4,371.7ZM517.3,366.2 L529.8,366.2 L531.8,366.6 L531.8,372.6 L519.3,372.6 L517.3,372.2ZM519.3,366.6 L531.8,366.6 L533.7,367.2 L533.7,373.2 L521.2,373.2 L519.3,372.6ZM521.2,367.2 L533.7,367.2 L535.6,367.7 L535.6,373.7 L523.1,373.7 L521.2,373.2ZM523.1,367.7 L535.6,367.7 L537.6,368.3 L537.6,374.3 L525.1,374.3 L523.1,373.7ZM525.1,368.3 L537.6,368.3 L539.5,368.8 L539.5,374.8 L527,374.8 L525.1,374.3ZM527,368.8 L539.5,368.8 L541.4,369.4 L541.4,375.4 L528.9,375.4 L527,374.8ZM528.9,369.4 L541.4,369.4 L543.3,370.1 L543.3,376.1 L530.8,376.1 L528.9,375.4ZM530.8,370.1 L543.3,370.1 L545.2,370.7 L545.2,376.7 L532.7,376.7 L530.8,376.1ZM532.7,370.7 L545.2,370.7 L547.1,371.3 L547.1,377.3 L534.6,377.3 L532.7,376.7ZM534.6,371.3 L547.1,371.3 L549,372 L549,378 L536.5,378 L534.6,377.3ZM536.5,372 L549,372 L550.9,372.6 L550.9,378.6 L538.4,378.6 L536.5,378ZM538.4,372.6 L550.9,372.6 L552.7,373.3 L552.7,379.3 L540.2,379.3 L538.4,378.6ZM540.2,373.3 L552.7,373.3 L554.6,374 L554.6,380 L542.1,380 L540.2,379.3ZM542.1,374 L554.6,374 L556.5,374.6 L556.5,380.6 L544,380.6 L542.1,380ZM544,374.6 L556.5,374.6 L558.4,375.3 L558.4,381.3 L545.9,381.3 L544,380.6ZM545.9,375.3 L558.4,375.3 L560.3,375.9 L560.3,381.9 L547.8,381.9 L545.9,381.3ZM547.8,375.9 L560.3,375.9 L562.2,376.6 L562.2,382.6 L549.7,382.6 L547.8,381.9ZM549.7,376.6 L562.2,376.6 L564.1,377.3 L564.1,383.3 L551.6,383.3 L549.7,382.6ZM551.6,377.3 L564.1,377.3 L566,377.9 L566,383.9 L553.5,383.9 L551.6,383.3ZM553.5,377.9 L566,377.9 L567.8,378.6 L567.8,384.6 L555.3,384.6 L553.5,383.9ZM555.3,378.6 L567.8,378.6 L569.7,379.3 L569.7,385.3 L557.2,385.3 L555.3,384.6ZM557.2,379.3 L569.7,379.3 L571.6,379.9 L571.6,385.9 L559.1,385.9 L557.2,385.3ZM559.1,379.9 L571.6,379.9 L573.5,380.6 L573.5,386.6 L561,386.6 L559.1,385.9ZM561,380.6 L573.5,380.6 L575.4,381.2 L575.4,387.2 L562.9,387.2 L561,386.6ZM562.9,381.2 L575.4,381.2 L577.3,381.9 L577.3,387.9 L564.8,387.9 L562.9,387.2ZM564.8,381.9 L577.3,381.9 L579.2,382.5 L579.2,388.5 L566.7,388.5 L564.8,387.9ZM566.7,382.5 L579.2,382.5 L581.1,383.2 L581.1,389.2 L568.6,389.2 L566.7,388.5ZM568.6,383.2 L581.1,383.2 L583,383.8 L583,389.8 L570.5,389.8 L568.6,389.2ZM570.5,383.8 L583,383.8 L584.9,384.4 L584.9,390.4 L572.4,390.4 L570.5,389.8ZM572.4,384.4 L584.9,384.4 L586.8,385 L586.8,391 L574.3,391 L572.4,390.4ZM574.3,385 L586.8,385 L588.7,385.6 L588.7,391.6 L576.2,391.6 L574.3,391ZM576.2,385.6 L588.7,385.6 L590.6,386.3 L590.6,392.3 L578.1,392.3 L576.2,391.6ZM578.1,386.3 L590.6,386.3 L592.5,386.9 L592.5,392.9 L580,392.9 L578.1,392.3ZM580,386.9 L592.5,386.9 L594.4,387.5 L594.4,393.5 L581.9,393.5 L580,392.9ZM581.9,387.5 L594.4,387.5 L596.3,388.1 L596.3,394.1 L583.8,394.1 L581.9,393.5ZM583.8,388.1 L596.3,388.1 L598.2,388.6 L598.2,394.6 L585.7,394.6 L583.8,394.1ZM585.7,388.6 L598.2,388.6 L600.2,389.2 L600.2,395.2 L587.7,395.2 L585.7,394.6ZM587.7,389.2 L600.2,389.2 L602.1,389.8 L602.1,395.8 L589.6,395.8 L587.7,395.2ZM589.6,389.8 L602.1,389.8 L604,390.4 L604,396.4 L591.5,396.4 L589.6,395.8ZM591.5,390.4 L604,390.4 L605.9,391 L605.9,397 L593.4,397 L591.5,396.4ZM593.4,391 L605.9,391 L607.8,391.6 L607.8,397.6 L595.3,397.6 L593.4,397ZM595.3,391.6 L607.8,391.6 L609.7,392.2 L609.7,398.2 L597.2,398.2 L595.3,397.6ZM597.2,392.2 L609.7,392.2 L611.6,392.8 L611.6,398.8 L599.1,398.8 L597.2,398.2ZM599.1,392.8 L611.6,392.8 L613.5,393.4 L613.5,399.4 L601,399.4 L599.1,398.8ZM601,393.4 L613.5,393.4 L615.4,394 L615.4,400 L602.9,400 L601,399.4ZM602.9,394 L615.4,394 L617.4,394.6 L617.4,400.6 L604.9,400.6 L602.9,400ZM604.9,394.6 L617.4,394.6 L619.3,395.2 L619.3,401.2 L606.8,401.2 L604.9,400.6ZM606.8,395.2 L619.3,395.2 L621.2,395.8 L621.2,401.8 L608.7,401.8 L606.8,401.2ZM608.7,395.8 L621.2,395.8 L623.1,396.4 L623.1,402.4 L610.6,402.4 L608.7,401.8ZM610.6,396.4 L623.1,396.4 L625,397.1 L625,403.1 L612.5,403.1 L610.6,402.4ZM612.5,397.1 L625,397.1 L626.9,397.7 L626.9,403.7 L614.4,403.7 L612.5,403.1ZM614.4,397.7 L626.9,397.7 L628.7,398.4 L628.7,404.4 L616.2,404.4 L614.4,403.7ZM616.2,398.4 L628.7,398.4 L630.6,399.1 L630.6,405.1 L618.1,405.1 L616.2,404.4ZM618.1,399.1 L630.6,399.1 L632.5,399.8 L632.5,405.8 L620,405.8 L618.1,405.1ZM620,399.8 L632.5,399.8 L634.3,400.5 L634.3,406.5 L621.8,406.5 L620,405.8ZM621.8,400.5 L634.3,400.5 L636.2,401.3 L636.2,407.3 L623.7,407.3 L621.8,406.5ZM623.7,401.3 L636.2,401.3 L638,402 L638,408 L625.5,408 L623.7,407.3ZM625.5,402 L638,402 L639.9,402.8 L639.9,408.8 L627.4,408.8 L625.5,408ZM627.4,402.8 L639.9,402.8 L641.7,403.6 L641.7,409.6 L629.2,409.6 L627.4,408.8ZM629.2,403.6 L641.7,403.6 L643.6,404.3 L643.6,410.3 L631.1,410.3 L629.2,409.6ZM631.1,404.3 L643.6,404.3 L645.4,405.1 L645.4,411.1 L632.9,411.1 L631.1,410.3ZM632.9,405.1 L645.4,405.1 L647.3,405.9 L647.3,411.9 L634.8,411.9 L632.9,411.1ZM634.8,405.9 L647.3,405.9 L649.1,406.7 L649.1,412.7 L636.6,412.7 L634.8,411.9ZM636.6,406.7 L649.1,406.7 L650.9,407.5 L650.9,413.5 L638.4,413.5 L636.6,412.7ZM638.4,407.5 L650.9,407.5 L652.8,408.3 L652.8,414.3 L640.3,414.3 L638.4,413.5ZM640.3,408.3 L652.8,408.3 L654.6,409.1 L654.6,415.1 L642.1,415.1 L640.3,414.3ZM642.1,409.1 L654.6,409.1 L656.5,409.9 L656.5,415.9 L644,415.9 L642.1,415.1ZM644,409.9 L656.5,409.9 L658.3,410.6 L658.3,416.6 L645.8,416.6 L644,415.9ZM645.8,410.6 L658.3,410.6 L660.1,411.4 L660.1,417.4 L647.6,417.4 L645.8,416.6ZM647.6,411.4 L660.1,411.4 L662,412.2 L662,418.2 L649.5,418.2 L647.6,417.4ZM649.5,412.2 L662,412.2 L663.8,413 L663.8,419 L651.3,419 L649.5,418.2ZM651.3,413 L663.8,413 L665.7,413.8 L665.7,419.8 L653.2,419.8 L651.3,419ZM653.2,413.8 L665.7,413.8 L667.5,414.6 L667.5,420.6 L655,420.6 L653.2,419.8ZM655,414.6 L667.5,414.6 L669.3,415.4 L669.3,421.4 L656.8,421.4 L655,420.6ZM656.8,415.4 L669.3,415.4 L671.1,416.2 L671.1,422.2 L658.6,422.2 L656.8,421.4ZM658.6,416.2 L671.1,416.2 L673,417 L673,423 L660.5,423 L658.6,422.2ZM660.5,417 L673,417 L674.8,417.9 L674.8,423.9 L662.3,423.9 L660.5,423ZM662.3,417.9 L674.8,417.9 L676.6,418.7 L676.6,424.7 L664.1,424.7 L662.3,423.9ZM664.1,418.7 L676.6,418.7 L678.4,419.6 L678.4,425.6 L665.9,425.6 L664.1,424.7ZM665.9,419.6 L678.4,419.6 L680.2,420.4 L680.2,426.4 L667.7,426.4 L665.9,425.6ZM667.7,420.4 L680.2,420.4 L682,421.3 L682,427.3 L669.5,427.3 L667.7,426.4ZM669.5,421.3 L682,421.3 L683.8,422.2 L683.8,428.2 L671.3,428.2 L669.5,427.3ZM671.3,422.2 L683.8,422.2 L685.6,423.1 L685.6,429.1 L673.1,429.1 L671.3,428.2ZM673.1,423.1 L685.6,423.1 L687.4,424 L687.4,430 L674.9,430 L673.1,429.1ZM674.9,424 L687.4,424 L689.2,424.9 L689.2,430.9 L676.7,430.9 L674.9,430ZM676.7,424.9 L689.2,424.9 L691,425.8 L691,431.8 L678.5,431.8 L676.7,430.9ZM678.5,425.8 L691,425.8 L692.8,426.7 L692.8,432.7 L680.3,432.7 L678.5,431.8ZM680.3,426.7 L692.8,426.7 L694.5,427.6 L694.5,433.6 L682,433.6 L680.3,432.7ZM682,427.6 L694.5,427.6 L696.3,428.5 L696.3,434.5 L683.8,434.5 L682,433.6ZM683.8,428.5 L696.3,428.5 L698.1,429.4 L698.1,435.4 L685.6,435.4 L683.8,434.5ZM685.6,429.4 L698.1,429.4 L699.9,430.3 L699.9,436.3 L687.4,436.3 L685.6,435.4ZM687.4,430.3 L699.9,430.3 L701.7,431.3 L701.7,437.3 L689.2,437.3 L687.4,436.3ZM689.2,431.3 L701.7,431.3 L703.4,432.2 L703.4,438.2 L690.9,438.2 L689.2,437.3ZM690.9,432.2 L703.4,432.2 L705.2,433.1 L705.2,439.1 L692.7,439.1 L690.9,438.2ZM692.7,433.1 L705.2,433.1 L706.9,434.1 L706.9,440.1 L694.4,440.1 L692.7,439.1Z" fill="#ff2a00"/>
<path d="M650.2,412.9L652.1,413.6M652.1,413.6L653.9,414.4M653.9,414.4L655.7,415.2M655.7,415.2L657.6,416.0M657.6,416.0L659.4,416.8M659.4,416.8L661.2,417.6M661.2,417.6L663.1,418.4M663.1,418.4L664.9,419.2M664.9,419.2L666.7,420.0M666.7,420.0L668.5,420.9M668.5,420.9L670.4,421.7M670.4,421.7L672.2,422.6M672.2,422.6L674.0,423.4M674.0,423.4L675.8,424.3M675.8,424.3L677.6,425.2M677.6,425.2L679.4,426.1M679.4,426.1L681.2,427.0M681.2,427.0L682.9,427.9M682.9,427.9L684.7,428.8M684.7,428.8L686.5,429.7M686.5,429.7L688.3,430.6M688.3,430.6L690.1,431.5M690.1,431.5L691.9,432.4M691.9,432.4L693.6,433.3M693.6,433.3L695.4,434.3M695.4,434.3L697.2,435.2M697.2,435.2L698.9,436.1M698.9,436.1L700.7,437.1M700.7,437.1L702.4,438.1M702.4,438.1L704.2,439.0M704.2,439.0L705.9,440.0M705.9,440.0L707.7,441.0M707.7,441.0L709.4,442.0M709.4,442.0L711.1,443.0M711.1,443.0L712.9,444.0M712.9,444.0L714.6,445.0M714.6,445.0L716.3,446.0M716.3,446.0L718.1,447.0M718.1,447.0L719.8,448.1M719.8,448.1L721.5,449.1M721.5,449.1L723.2,450.1M723.2,450.1L725.0,451.1M725.0,451.1L726.7,452.1M726.7,452.1L728.4,453.1M728.4,453.1L730.1,454.1M730.1,454.1L731.8,455.2M731.8,455.2L733.5,456.2M733.5,456.2L735.2,457.3M735.2,457.3L736.9,458.4" stroke="#ff2a00" stroke-width="10.0" stroke-linecap="round" fill="none" clip-path="url(#cr)"/>
<path d="M736.9,458.4L738.5,459.5M738.5,459.5L740.1,460.7M740.1,460.7L741.7,461.9M741.7,461.9L743.2,463.2M743.2,463.2L744.8,464.4M744.8,464.4L746.3,465.8M746.3,465.8L747.7,467.1M747.7,467.1L749.2,468.4M749.2,468.4L750.7,469.8M750.7,469.8L752.1,471.2M752.1,471.2L753.5,472.6M753.5,472.6L755.0,474.0M755.0,474.0L756.4,475.4" stroke="#ff2a00" stroke-width="10.5" stroke-linecap="round" fill="none" clip-path="url(#cr)"/>
<path d="M756.4,475.4L757.9,476.8M757.9,476.8L759.3,478.1M759.3,478.1L760.7,479.5M760.7,479.5L762.2,480.9M762.2,480.9L763.6,482.4M763.6,482.4L765.0,483.8M765.0,483.8L766.4,485.2M766.4,485.2L767.8,486.6M767.8,486.6L769.1,488.1M769.1,488.1L770.5,489.6M770.5,489.6L771.8,491.0M771.8,491.0L773.2,492.5" stroke="#ff2a00" stroke-width="11.0" stroke-linecap="round" fill="none" clip-path="url(#cr)"/>
<path d="M773.2,492.5L774.5,494.1M774.5,494.1L775.8,495.6M775.8,495.6L777.0,497.1M777.0,497.1L778.3,498.7M778.3,498.7L779.6,500.2M779.6,500.2L780.8,501.8M780.8,501.8L782.1,503.3M782.1,503.3L783.3,504.9M783.3,504.9L784.6,506.4M784.6,506.4L785.8,508.0M785.8,508.0L787.0,509.6" stroke="#ff2a00" stroke-width="11.5" stroke-linecap="round" fill="none" clip-path="url(#cr)"/>
<path d="M787.0,509.6L788.2,511.2M788.2,511.2L789.4,512.8M789.4,512.8L790.5,514.5M790.5,514.5L791.6,516.1M791.6,516.1L792.7,517.8M792.7,517.8L793.7,519.5M793.7,519.5L794.7,521.2M794.7,521.2L795.7,523.0M795.7,523.0L796.6,524.7M796.6,524.7L797.6,526.5" stroke="#ff2a00" stroke-width="12.0" stroke-linecap="round" fill="none" clip-path="url(#cr)"/>
<path d="M797.6,526.5L798.5,528.3M798.5,528.3L799.4,530.1M799.4,530.1L800.3,531.8M800.3,531.8L801.2,533.6M801.2,533.6L802.0,535.4M802.0,535.4L802.9,537.3M802.9,537.3L803.7,539.1M803.7,539.1L804.5,540.9M804.5,540.9L805.3,542.7M805.3,542.7L806.0,544.6" stroke="#ff2a00" stroke-width="12.5" stroke-linecap="round" fill="none" clip-path="url(#cr)"/>
<path d="M806.0,544.6L806.7,546.5M806.7,546.5L807.4,548.3M807.4,548.3L808.1,550.2M808.1,550.2L808.8,552.1M808.8,552.1L809.5,554.0M809.5,554.0L810.1,555.9M810.1,555.9L810.8,557.8M810.8,557.8L811.4,559.7M811.4,559.7L812.0,561.5" stroke="#ff2a00" stroke-width="13.0" stroke-linecap="round" fill="none" clip-path="url(#cr)"/>
<path d="M812.0,561.5L812.7,563.5M812.7,563.5L813.3,565.4M813.3,565.4L813.8,567.3M813.8,567.3L814.4,569.2M814.4,569.2L815.0,571.1M815.0,571.1L815.5,573.0M815.5,573.0L816.0,575.0M816.0,575.0L816.5,576.9M816.5,576.9L817.0,578.8M817.0,578.8L817.5,580.8M817.5,580.8L818.0,582.7M818.0,582.7L818.4,584.7M818.4,584.7L818.9,586.6M818.9,586.6L819.3,588.6M819.3,588.6L819.8,590.5M819.8,590.5L820.2,592.5M820.2,592.5L820.7,594.4M820.7,594.4L821.1,596.4M821.1,596.4L821.6,598.3M821.6,598.3L822.0,600.3M822.0,600.3L822.4,602.2M822.4,602.2L822.8,604.2M822.8,604.2L823.3,606.1M823.3,606.1L823.7,608.1M823.7,608.1L824.1,610.1M824.1,610.1L824.5,612.0M824.5,612.0L824.9,614.0M824.9,614.0L825.3,615.9M825.3,615.9L825.7,617.9M825.7,617.9L826.1,619.9M826.1,619.9L826.4,621.8M826.4,621.8L826.8,623.8M826.8,623.8L827.2,625.8M827.2,625.8L827.5,627.7M827.5,627.7L827.9,629.7M827.9,629.7L828.2,631.7M828.2,631.7L828.6,633.6M828.6,633.6L828.9,635.6M828.9,635.6L829.3,637.6M829.3,637.6L829.6,639.6M829.6,639.6L830.0,641.5M830.0,641.5L830.3,643.5M830.3,643.5L830.7,645.5M830.7,645.5L831.0,647.4M831.0,647.4L831.3,649.4M831.3,649.4L831.7,651.4M831.7,651.4L832.0,653.4M832.0,653.4L832.3,655.3M832.3,655.3L832.6,657.3M832.6,657.3L832.9,659.3M832.9,659.3L833.2,661.3M833.2,661.3L833.4,663.3M833.4,663.3L833.7,665.2M833.7,665.2L833.9,667.2M833.9,667.2L834.2,669.2M834.2,669.2L834.4,671.2M834.4,671.2L834.6,673.2M834.6,673.2L834.8,675.2M834.8,675.2L835.0,677.2M835.0,677.2L835.3,679.2M835.3,679.2L835.5,681.2M835.5,681.2L835.7,683.1M835.7,683.1L835.9,685.1M835.9,685.1L836.1,687.1M836.1,687.1L836.3,689.1M836.3,689.1L836.5,691.1M836.5,691.1L836.7,693.1M836.7,693.1L836.9,695.1M836.9,695.1L837.1,697.1M837.1,697.1L837.3,699.1M837.3,699.1L837.4,701.1M837.4,701.1L837.6,703.1M837.6,703.1L837.7,705.1M837.7,705.1L837.9,707.1M837.9,707.1L838.0,709.1M838.0,709.1L838.1,711.1M838.1,711.1L838.3,713.0M838.3,713.0L838.4,715.0M838.4,715.0L838.5,717.0M838.5,717.0L838.6,719.0M838.6,719.0L838.7,721.0M838.7,721.0L838.8,723.0M838.8,723.0L839.0,725.0M839.0,725.0L839.1,727.0M839.1,727.0L839.2,729.0M839.2,729.0L839.3,731.0M839.3,731.0L839.4,733.0M839.4,733.0L839.5,735.0M839.5,735.0L839.7,737.0M839.7,737.0L839.8,739.0M839.8,739.0L839.9,741.0M839.9,741.0L840.0,743.0M840.0,743.0L840.1,745.0M840.1,745.0L840.2,747.0M840.2,747.0L840.4,749.0M840.4,749.0L840.5,751.0M840.5,751.0L840.6,753.0M840.6,753.0L840.7,755.0M840.7,755.0L840.8,757.0M840.8,757.0L840.9,759.0M840.9,759.0L841.0,760.0" stroke="#ff2a00" stroke-width="13.5" stroke-linecap="round" fill="none" clip-path="url(#cr)"/>
<text transform="translate(60.97,777.50) scale(1.0325,1)" font-family="&quot;Liberation Serif&quot;, serif" font-size="33" font-weight="bold" fill="#0d0d0d">0.4</text>
<text transform="translate(60.94,651.95) scale(1.0590,1)" font-family="&quot;Liberation Serif&quot;, serif" font-size="33" font-weight="bold" fill="#0d0d0d">0.5</text>
<text transform="translate(60.94,526.40) scale(1.0590,1)" font-family="&quot;Liberation Serif&quot;, serif" font-size="33" font-weight="bold" fill="#0d0d0d">0.6</text>
<text transform="translate(60.97,400.85) scale(1.0325,1)" font-family="&quot;Liberation Serif&quot;, serif" font-size="33" font-weight="bold" fill="#0d0d0d">0.7</text>
<text transform="translate(60.94,275.30) scale(1.0590,1)" font-family="&quot;Liberation Serif&quot;, serif" font-size="33" font-weight="bold" fill="#0d0d0d">0.8</text>
<text transform="translate(60.94,149.75) scale(1.0590,1)" font-family="&quot;Liberation Serif&quot;, serif" font-size="33" font-weight="bold" fill="#0d0d0d">0.9</text>
<text transform="translate(87.90,24.20) scale(0.9000,1)" font-family="&quot;Liberation Serif&quot;, serif" font-size="33" font-weight="bold" fill="#0d0d0d">1</text>
<text transform="translate(126.59,818.60) scale(1.1143,1)" font-family="&quot;Liberation Serif&quot;, serif" font-size="33" font-weight="bold" fill="#0d0d0d">0</text>
<text transform="translate(228.55,818.60) scale(1.0828,1)" font-family="&quot;Liberation Serif&quot;, serif" font-size="33" font-weight="bold" fill="#0d0d0d">10</text>
<text transform="translate(342.79,818.60) scale(1.0129,1)" font-family="&quot;Liberation Serif&quot;, serif" font-size="33" font-weight="bold" fill="#0d0d0d">20</text>
<text transform="translate(454.79,818.60) scale(1.0129,1)" font-family="&quot;Liberation Serif&quot;, serif" font-size="33" font-weight="bold" fill="#0d0d0d">30</text>
<text transform="translate(567.80,818.60) scale(0.9813,1)" font-family="&quot;Liberation Serif&quot;, serif" font-size="33" font-weight="bold" fill="#0d0d0d">40</text>
<text transform="translate(678.79,818.60) scale(1.0129,1)" font-family="&quot;Liberation Serif&quot;, serif" font-size="33" font-weight="bold" fill="#0d0d0d">50</text>
<text transform="translate(790.79,818.60) scale(1.0129,1)" font-family="&quot;Liberation Serif&quot;, serif" font-size="33" font-weight="bold" fill="#0d0d0d">60</text>
<text transform="translate(901.71,818.60) scale(1.0467,1)" font-family="&quot;Liberation Serif&quot;, serif" font-size="33" font-weight="bold" fill="#0d0d0d">70</text>
<text transform="translate(1014.79,818.60) scale(1.0129,1)" font-family="&quot;Liberation Serif&quot;, serif" font-size="33" font-weight="bold" fill="#0d0d0d">80</text>
<text transform="translate(1126.79,818.60) scale(1.0129,1)" font-family="&quot;Liberation Serif&quot;, serif" font-size="33" font-weight="bold" fill="#0d0d0d">90</text>
<text transform="translate(1227.96,818.60) scale(1.0800,1)" font-family="&quot;Liberation Serif&quot;, serif" font-size="33" font-weight="bold" fill="#0d0d0d">100</text>
<text transform="translate(366.66,862.50) scale(1.0430,1)" font-family="&quot;Liberation Serif&quot;, serif" font-size="34" font-weight="bold" fill="#0d0d0d">Coulombic Efficiency (% of 4060 mAh g<tspan font-size='21' dy='-9.5'>-1</tspan><tspan dy='9.5'>)</tspan></text>
<text transform="translate(29.80,529.30) rotate(-90) scale(1.0141,1)" font-family="&quot;Liberation Serif&quot;, serif" font-size="34" font-weight="bold" fill="#0d0d0d">Voltage (V)</text>
<text transform="translate(978.30,75.00) scale(1.0467,1)" font-family="&quot;Liberation Serif&quot;, serif" font-size="40" font-weight="bold" fill="#0d0d0d">~5 mAh</text>
<text transform="translate(871.54,122.50) scale(1.0570,1)" font-family="&quot;Liberation Serif&quot;, serif" font-size="40" font-weight="bold" fill="#0d0d0d">nano vs. macro VB<tspan font-size='28' dy='10'>2</tspan></text>
<text transform="translate(944.54,173.50) scale(1.0551,1)" font-family="&quot;Liberation Serif&quot;, serif" font-size="40" font-weight="bold" fill="#0d0d0d">Timcal C65</text>
<text transform="translate(917.30,223.50) scale(1.0510,1)" font-family="&quot;Liberation Serif&quot;, serif" font-size="40" font-weight="bold" fill="#0d0d0d">3000 ohm load</text>
<text transform="translate(939.96,273.70) scale(1.0397,1)" font-family="&quot;Liberation Serif&quot;, serif" font-size="40" font-weight="bold" fill="#0d0d0d">Dry Method</text>
<text transform="translate(538.38,140.10) scale(1.1077,1.07)" font-family="&quot;Liberation Sans&quot;, sans-serif" font-size="22" font-weight="normal" fill="#4a4a4a" stroke="#4a4a4a" stroke-width="0.5">Nanoscopic VB<tspan font-size='14.5' dy='6'>2</tspan></text>
<text transform="translate(283.24,516.90) scale(1.1311,1.07)" font-family="&quot;Liberation Sans&quot;, sans-serif" font-size="22" font-weight="normal" fill="#4a4a4a" stroke="#4a4a4a" stroke-width="0.5">Macroscopic VB<tspan font-size='14.5' dy='6'>2</tspan></text>
<path d="M606,159L574.5,209" stroke="#2a2a2a" stroke-width="2" fill="none" stroke-linecap="round"/>
<path d="M574.7,195.5L574.3,209.5L587.3,202" stroke="#111" stroke-width="3" fill="none" stroke-linecap="round" stroke-linejoin="round"/>
<path d="M404,479L445.5,398" stroke="#2a2a2a" stroke-width="2" fill="none" stroke-linecap="round"/>
<path d="M433.5,406L446,397.3L446.4,411.8" stroke="#111" stroke-width="3" fill="none" stroke-linecap="round" stroke-linejoin="round"/>
</svg></body></html>
